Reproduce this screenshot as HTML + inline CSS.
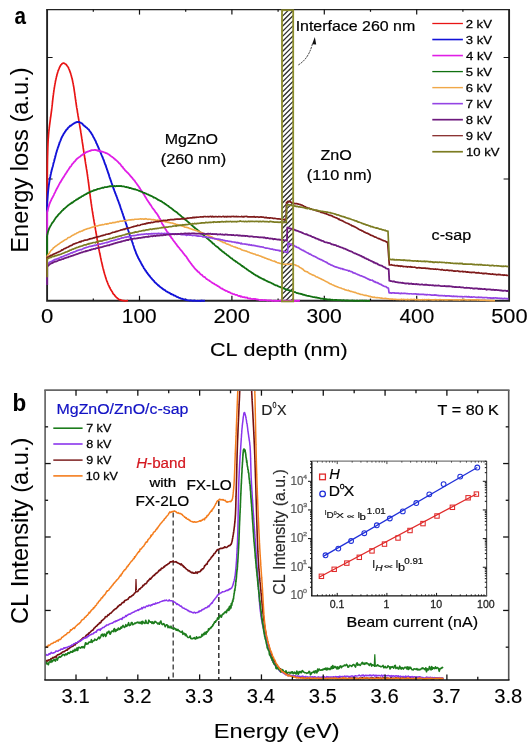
<!DOCTYPE html><html><head><meta charset="utf-8"><style>html,body{margin:0;padding:0;background:#fff;overflow:hidden}svg{display:block;filter:blur(0.35px)}text{font-family:"Liberation Sans",sans-serif;font-kerning:none}</style></head><body>
<svg width="532" height="750" viewBox="0 0 532 750">
<rect width="532" height="750" fill="#fff"/>
<defs><clipPath id="boxclip"><rect x="282.0" y="9.6" width="11.199999999999989" height="291.2"/></clipPath>
<clipPath id="plota"><rect x="45.6" y="8.6" width="463.5" height="293.7"/></clipPath>
<clipPath id="plotb"><rect x="45.1" y="390.1" width="463.6" height="290"/></clipPath></defs>
<g clip-path="url(#boxclip)">
<line x1="282" y1="11.6" x2="293.2" y2="0.4" stroke="#2a2a2a" stroke-width="1.25" />
<line x1="282" y1="16.65" x2="293.2" y2="5.45" stroke="#2a2a2a" stroke-width="1.25" />
<line x1="282" y1="21.7" x2="293.2" y2="10.5" stroke="#2a2a2a" stroke-width="1.25" />
<line x1="282" y1="26.75" x2="293.2" y2="15.55" stroke="#2a2a2a" stroke-width="1.25" />
<line x1="282" y1="31.8" x2="293.2" y2="20.6" stroke="#2a2a2a" stroke-width="1.25" />
<line x1="282" y1="36.85" x2="293.2" y2="25.65" stroke="#2a2a2a" stroke-width="1.25" />
<line x1="282" y1="41.9" x2="293.2" y2="30.7" stroke="#2a2a2a" stroke-width="1.25" />
<line x1="282" y1="46.95" x2="293.2" y2="35.75" stroke="#2a2a2a" stroke-width="1.25" />
<line x1="282" y1="52" x2="293.2" y2="40.8" stroke="#2a2a2a" stroke-width="1.25" />
<line x1="282" y1="57.05" x2="293.2" y2="45.85" stroke="#2a2a2a" stroke-width="1.25" />
<line x1="282" y1="62.1" x2="293.2" y2="50.9" stroke="#2a2a2a" stroke-width="1.25" />
<line x1="282" y1="67.15" x2="293.2" y2="55.95" stroke="#2a2a2a" stroke-width="1.25" />
<line x1="282" y1="72.2" x2="293.2" y2="61" stroke="#2a2a2a" stroke-width="1.25" />
<line x1="282" y1="77.25" x2="293.2" y2="66.05" stroke="#2a2a2a" stroke-width="1.25" />
<line x1="282" y1="82.3" x2="293.2" y2="71.1" stroke="#2a2a2a" stroke-width="1.25" />
<line x1="282" y1="87.35" x2="293.2" y2="76.15" stroke="#2a2a2a" stroke-width="1.25" />
<line x1="282" y1="92.4" x2="293.2" y2="81.2" stroke="#2a2a2a" stroke-width="1.25" />
<line x1="282" y1="97.45" x2="293.2" y2="86.25" stroke="#2a2a2a" stroke-width="1.25" />
<line x1="282" y1="102.5" x2="293.2" y2="91.3" stroke="#2a2a2a" stroke-width="1.25" />
<line x1="282" y1="107.55" x2="293.2" y2="96.35" stroke="#2a2a2a" stroke-width="1.25" />
<line x1="282" y1="112.6" x2="293.2" y2="101.4" stroke="#2a2a2a" stroke-width="1.25" />
<line x1="282" y1="117.65" x2="293.2" y2="106.45" stroke="#2a2a2a" stroke-width="1.25" />
<line x1="282" y1="122.7" x2="293.2" y2="111.5" stroke="#2a2a2a" stroke-width="1.25" />
<line x1="282" y1="127.75" x2="293.2" y2="116.55" stroke="#2a2a2a" stroke-width="1.25" />
<line x1="282" y1="132.8" x2="293.2" y2="121.6" stroke="#2a2a2a" stroke-width="1.25" />
<line x1="282" y1="137.85" x2="293.2" y2="126.65" stroke="#2a2a2a" stroke-width="1.25" />
<line x1="282" y1="142.9" x2="293.2" y2="131.7" stroke="#2a2a2a" stroke-width="1.25" />
<line x1="282" y1="147.95" x2="293.2" y2="136.75" stroke="#2a2a2a" stroke-width="1.25" />
<line x1="282" y1="153" x2="293.2" y2="141.8" stroke="#2a2a2a" stroke-width="1.25" />
<line x1="282" y1="158.05" x2="293.2" y2="146.85" stroke="#2a2a2a" stroke-width="1.25" />
<line x1="282" y1="163.1" x2="293.2" y2="151.9" stroke="#2a2a2a" stroke-width="1.25" />
<line x1="282" y1="168.15" x2="293.2" y2="156.95" stroke="#2a2a2a" stroke-width="1.25" />
<line x1="282" y1="173.2" x2="293.2" y2="162" stroke="#2a2a2a" stroke-width="1.25" />
<line x1="282" y1="178.25" x2="293.2" y2="167.05" stroke="#2a2a2a" stroke-width="1.25" />
<line x1="282" y1="183.3" x2="293.2" y2="172.1" stroke="#2a2a2a" stroke-width="1.25" />
<line x1="282" y1="188.35" x2="293.2" y2="177.15" stroke="#2a2a2a" stroke-width="1.25" />
<line x1="282" y1="193.4" x2="293.2" y2="182.2" stroke="#2a2a2a" stroke-width="1.25" />
<line x1="282" y1="198.45" x2="293.2" y2="187.25" stroke="#2a2a2a" stroke-width="1.25" />
<line x1="282" y1="203.5" x2="293.2" y2="192.3" stroke="#2a2a2a" stroke-width="1.25" />
<line x1="282" y1="208.55" x2="293.2" y2="197.35" stroke="#2a2a2a" stroke-width="1.25" />
<line x1="282" y1="213.6" x2="293.2" y2="202.4" stroke="#2a2a2a" stroke-width="1.25" />
<line x1="282" y1="218.65" x2="293.2" y2="207.45" stroke="#2a2a2a" stroke-width="1.25" />
<line x1="282" y1="223.7" x2="293.2" y2="212.5" stroke="#2a2a2a" stroke-width="1.25" />
<line x1="282" y1="228.75" x2="293.2" y2="217.55" stroke="#2a2a2a" stroke-width="1.25" />
<line x1="282" y1="233.8" x2="293.2" y2="222.6" stroke="#2a2a2a" stroke-width="1.25" />
<line x1="282" y1="238.85" x2="293.2" y2="227.65" stroke="#2a2a2a" stroke-width="1.25" />
<line x1="282" y1="243.9" x2="293.2" y2="232.7" stroke="#2a2a2a" stroke-width="1.25" />
<line x1="282" y1="248.95" x2="293.2" y2="237.75" stroke="#2a2a2a" stroke-width="1.25" />
<line x1="282" y1="254" x2="293.2" y2="242.8" stroke="#2a2a2a" stroke-width="1.25" />
<line x1="282" y1="259.05" x2="293.2" y2="247.85" stroke="#2a2a2a" stroke-width="1.25" />
<line x1="282" y1="264.1" x2="293.2" y2="252.9" stroke="#2a2a2a" stroke-width="1.25" />
<line x1="282" y1="269.15" x2="293.2" y2="257.95" stroke="#2a2a2a" stroke-width="1.25" />
<line x1="282" y1="274.2" x2="293.2" y2="263" stroke="#2a2a2a" stroke-width="1.25" />
<line x1="282" y1="279.25" x2="293.2" y2="268.05" stroke="#2a2a2a" stroke-width="1.25" />
<line x1="282" y1="284.3" x2="293.2" y2="273.1" stroke="#2a2a2a" stroke-width="1.25" />
<line x1="282" y1="289.35" x2="293.2" y2="278.15" stroke="#2a2a2a" stroke-width="1.25" />
<line x1="282" y1="294.4" x2="293.2" y2="283.2" stroke="#2a2a2a" stroke-width="1.25" />
<line x1="282" y1="299.45" x2="293.2" y2="288.25" stroke="#2a2a2a" stroke-width="1.25" />
<line x1="282" y1="304.5" x2="293.2" y2="293.3" stroke="#2a2a2a" stroke-width="1.25" />
<line x1="282" y1="309.55" x2="293.2" y2="298.35" stroke="#2a2a2a" stroke-width="1.25" />
<line x1="282" y1="314.6" x2="293.2" y2="303.4" stroke="#2a2a2a" stroke-width="1.25" />
</g>
<path d="M47.1,9.6 V300.8 H509.1 V9.6" fill="none" stroke="#222" stroke-width="1.9"/>
<line x1="46.2" y1="9.6" x2="510" y2="9.6" stroke="#222" stroke-width="1.2" />
<line x1="93.3" y1="300.8" x2="93.3" y2="298.6" stroke="#111" stroke-width="1.2" />
<line x1="93.3" y1="9.6" x2="93.3" y2="11.8" stroke="#111" stroke-width="1.2" />
<line x1="139.5" y1="300.8" x2="139.5" y2="295.8" stroke="#111" stroke-width="1.2" />
<line x1="139.5" y1="9.6" x2="139.5" y2="14.6" stroke="#111" stroke-width="1.2" />
<line x1="185.7" y1="300.8" x2="185.7" y2="298.6" stroke="#111" stroke-width="1.2" />
<line x1="185.7" y1="9.6" x2="185.7" y2="11.8" stroke="#111" stroke-width="1.2" />
<line x1="231.9" y1="300.8" x2="231.9" y2="295.8" stroke="#111" stroke-width="1.2" />
<line x1="231.9" y1="9.6" x2="231.9" y2="14.6" stroke="#111" stroke-width="1.2" />
<line x1="278.1" y1="300.8" x2="278.1" y2="298.6" stroke="#111" stroke-width="1.2" />
<line x1="278.1" y1="9.6" x2="278.1" y2="11.8" stroke="#111" stroke-width="1.2" />
<line x1="324.3" y1="300.8" x2="324.3" y2="295.8" stroke="#111" stroke-width="1.2" />
<line x1="324.3" y1="9.6" x2="324.3" y2="14.6" stroke="#111" stroke-width="1.2" />
<line x1="370.5" y1="300.8" x2="370.5" y2="298.6" stroke="#111" stroke-width="1.2" />
<line x1="370.5" y1="9.6" x2="370.5" y2="11.8" stroke="#111" stroke-width="1.2" />
<line x1="416.7" y1="300.8" x2="416.7" y2="295.8" stroke="#111" stroke-width="1.2" />
<line x1="416.7" y1="9.6" x2="416.7" y2="14.6" stroke="#111" stroke-width="1.2" />
<line x1="462.9" y1="300.8" x2="462.9" y2="298.6" stroke="#111" stroke-width="1.2" />
<line x1="462.9" y1="9.6" x2="462.9" y2="11.8" stroke="#111" stroke-width="1.2" />
<line x1="47.1" y1="57.5" x2="52.6" y2="57.5" stroke="#111" stroke-width="1.0" />
<line x1="509.1" y1="57.5" x2="503.6" y2="57.5" stroke="#111" stroke-width="1.0" />
<line x1="47.1" y1="179" x2="52.6" y2="179" stroke="#111" stroke-width="1.0" />
<line x1="509.1" y1="179" x2="503.6" y2="179" stroke="#111" stroke-width="1.0" />
<g clip-path="url(#plota)">
<path d="M47.2,205 47.2,190.04 47.2,189.96 47.21,189.12 47.21,188.44 47.22,187.61 47.22,187.01 47.23,186.45 47.23,185.42 47.24,184.65 47.24,184.06 47.24,183.28 47.25,182.48 47.25,181.56 47.25,180.94 47.26,180.28 47.26,179.22 47.26,178.59 47.27,177.61 47.27,176.94 47.27,176.09 47.28,175.57 47.28,174.66 47.28,174.13 47.29,173.36 47.29,172.55 47.3,171.44 47.3,170.99 47.31,170.31 47.31,169.59 47.32,168.59 47.33,168.01 47.33,167.19 47.34,166.47 47.35,166.02 47.36,165.01 47.37,164.39 47.38,163.8 47.39,162.86 47.4,162.21 47.42,161.53 47.43,160.81 47.45,159.91 47.46,159.4 47.48,158.9 47.5,157.77 47.52,157.35 47.54,156.47 47.56,155.59 47.58,155.23 47.61,154.29 47.63,153.24 47.65,152.69 47.67,152.03 47.69,151.17 47.72,150.57 47.74,149.73 47.76,149.11 47.79,148.51 47.81,147.47 47.84,146.88 47.87,146.07 47.9,145.44 47.93,144.53 47.96,143.91 47.99,143.26 48.03,142.71 48.06,142.04 48.1,140.96 48.14,140.33 48.18,139.83 48.23,138.73 48.27,138.24 48.32,137.58 48.37,137.07 48.43,136.27 48.48,135.4 48.54,134.67 48.6,133.96 48.66,133.5 48.73,132.48 48.8,131.76 48.88,131.13 48.95,130.32 49.04,129.57 49.12,128.7 49.2,128.13 49.29,127.32 49.38,126.83 49.47,126.01 49.57,125.17 49.66,124.54 49.76,123.65 49.86,123.12 49.96,122.23 50.06,121.58 50.16,120.56 50.26,120.08 50.36,119.04 50.46,118.26 50.56,117.79 50.66,116.97 50.76,116.41 50.86,116 50.96,114.82 51.05,114.14 51.15,113.55 51.24,112.88 51.33,112.07 51.43,111.37 51.51,110.8 51.6,110.08 51.69,109.07 51.79,108.44 51.88,107.68 51.97,106.73 52.06,106.15 52.15,105.21 52.23,104.7 52.32,103.81 52.41,103.02 52.49,102.15 52.58,101.45 52.66,100.4 52.75,99.77 52.83,99.24 52.92,98.12 53,97.82 53.09,96.69 53.18,96.33 53.26,95.37 53.35,94.89 53.44,94.08 53.53,93.13 53.62,92.86 53.71,92.2 53.81,91.3 53.9,90.61 54,89.98 54.12,89.06 54.24,88.59 54.36,87.58 54.48,86.9 54.61,86.05 54.73,85.34 54.85,84.52 54.98,84.19 55.11,83.27 55.23,82.75 55.36,81.92 55.5,81.14 55.63,80.53 55.77,79.84 55.91,79.28 56.05,78.58 56.2,77.96 56.37,77.06 56.55,76.42 56.72,76.08 56.9,75.03 57.09,74.28 57.27,73.81 57.46,73.31 57.66,72.23 57.86,71.78 58.06,71.1 58.28,70.32 58.5,70.11 58.78,69.28 59.08,68.6 59.38,67.78 59.69,67.3 60.01,66.52 60.33,66 60.66,65.31 61,64.82 61.47,64.59 61.95,63.77 62.46,63.48 63,63.19 63.6,63.12 64.24,63.27 64.89,63.73 65.5,63.95 65.96,64.33 66.4,64.79 66.82,65.45 67.23,65.91 67.62,66.45 68,66.92 68.32,67.34 68.62,68.28 68.91,68.9 69.19,69.39 69.46,70.17 69.73,70.9 69.99,71.63 70.25,72.38 70.5,72.93 70.7,73.85 70.9,74.06 71.08,75.01 71.27,75.6 71.45,76.31 71.63,77.13 71.8,77.76 71.97,78.07 72.14,78.72 72.31,79.85 72.48,80.35 72.65,81.3 72.82,82.26 73,82.75 73.11,83.26 73.23,84.21 73.34,84.8 73.45,85.39 73.56,86.08 73.68,86.61 73.79,87.19 73.9,88.08 74.01,88.67 74.12,89.29 74.23,90.34 74.34,90.99 74.45,91.81 74.56,92.36 74.67,93.17 74.78,93.89 74.89,94.69 75,95.63 75.11,96.27 75.22,97.23 75.33,98.02 75.44,99.06 75.55,99.34 75.67,100.47 75.78,101.11 75.89,101.91 76,102.48 76.11,103.41 76.23,104.36 76.34,105 76.45,105.79 76.57,106.48 76.68,107.44 76.8,108 76.92,108.4 77.04,109.36 77.15,109.9 77.27,110.44 77.39,111.58 77.51,112.59 77.64,113.12 77.76,113.67 77.88,114.43 78,115.46 78.12,116.04 78.25,116.75 78.37,117.46 78.49,118.2 78.62,119.04 78.74,119.72 78.86,120.39 78.98,120.93 79.11,121.89 79.23,122.43 79.35,123.42 79.48,123.79 79.6,124.69 79.72,125.43 79.84,125.96 79.96,127.14 80.09,127.83 80.21,128.27 80.33,129.19 80.45,129.86 80.56,130.14 80.68,131.3 80.8,131.99 80.92,132.74 81.03,133.3 81.15,134.16 81.26,134.91 81.38,135.86 81.49,136.47 81.61,137.17 81.72,138.15 81.84,138.58 81.95,139.36 82.06,139.9 82.18,141.16 82.29,141.82 82.4,142.56 82.52,143.28 82.63,143.95 82.74,144.71 82.85,145.39 82.97,146.15 83.08,146.93 83.19,147.89 83.3,148.49 83.41,149.14 83.52,149.8 83.63,150.52 83.74,151.58 83.85,152.14 83.96,152.8 84.06,153.45 84.17,154.05 84.28,154.91 84.39,155.75 84.49,156.25 84.6,156.97 84.72,157.74 84.84,158.56 84.96,159.06 85.08,160.01 85.2,160.66 85.32,161.66 85.44,162.14 85.55,163.06 85.67,163.93 85.79,164.37 85.9,165.04 86.02,165.87 86.13,166.55 86.25,167.11 86.36,168.04 86.48,168.98 86.59,169.35 86.71,170.07 86.82,170.66 86.93,171.59 87.04,172.08 87.16,172.83 87.27,173.93 87.38,174.35 87.49,175.4 87.6,176.23 87.7,176.75 87.8,177.51 87.9,178.45 88,178.86 88.1,179.54 88.2,180.17 88.3,181.13 88.4,182.1 88.5,182.78 88.6,183.26 88.69,184.04 88.79,184.86 88.89,185.74 88.98,186.44 89.08,187.27 89.18,188.05 89.27,188.73 89.37,189.53 89.46,190.33 89.56,191.04 89.65,191.89 89.75,192.84 89.84,193.4 89.94,194.05 90.03,194.53 90.13,195.56 90.22,195.93 90.32,196.72 90.41,197.76 90.51,198.43 90.6,198.98 90.71,199.53 90.82,200.51 90.93,201.23 91.04,202.19 91.15,203.18 91.25,203.62 91.36,204.21 91.47,204.88 91.57,205.77 91.68,206.47 91.79,207.04 91.9,207.95 92,208.47 92.11,209.51 92.22,210.21 92.33,210.92 92.44,211.39 92.55,212.24 92.66,212.85 92.77,213.52 92.89,214.24 93,214.81 93.12,215.51 93.24,216.56 93.36,217.13 93.48,217.91 93.6,218.74 93.72,219.04 93.84,219.89 93.97,220.74 94.09,221.47 94.21,222.06 94.34,222.98 94.46,223.56 94.59,224.06 94.71,224.81 94.84,225.78 94.97,226.44 95.09,226.81 95.22,228.01 95.35,228.63 95.47,229.47 95.6,229.94 95.72,230.68 95.85,231.29 95.98,232.6 96.11,232.95 96.24,233.99 96.37,234.43 96.5,235.34 96.63,235.86 96.76,236.84 96.89,237.83 97.02,238.28 97.16,239.42 97.29,240.08 97.42,240.64 97.54,241.48 97.67,242.23 97.8,243.02 97.92,243.66 98.04,244.31 98.16,245.07 98.28,245.61 98.39,246.2 98.5,246.99 98.65,247.92 98.78,248.28 98.91,249.19 99.04,249.74 99.16,250.32 99.29,251.21 99.41,251.63 99.55,252.57 99.69,252.9 99.84,253.79 100,254.47 100.13,254.98 100.26,255.8 100.39,256.32 100.53,257.09 100.67,257.67 100.82,258.21 100.97,259.07 101.12,259.81 101.27,260.67 101.43,261.13 101.59,262 101.76,262.5 101.93,263.6 102.09,264.09 102.26,264.73 102.44,265.74 102.61,266.65 102.79,266.98 102.96,267.77 103.14,268.52 103.32,269.16 103.5,270.06 103.7,270.63 103.91,271.39 104.12,272.33 104.33,272.88 104.54,273.8 104.76,274.33 104.97,275.03 105.2,275.67 105.42,276.95 105.64,277.34 105.87,278.14 106.1,278.79 106.33,279.51 106.56,280.16 106.79,281.1 107.03,281.31 107.26,281.86 107.5,282.55 107.8,283.25 108.11,284.29 108.41,285.01 108.72,285.42 109.02,286.02 109.34,286.83 109.66,287.73 109.98,287.72 110.31,288.85 110.65,289.22 111,290.16 111.37,290.48 111.75,291.23 112.14,291.68 112.53,292.39 112.93,293.36 113.34,293.87 113.75,294.27 114.17,294.75 114.58,295.12 115,295.84 115.48,296.43 115.96,296.93 116.45,297.4 116.94,297.69 117.44,298.26 117.96,298.64 118.5,299.19 119.13,299.64 119.79,299.67 120.46,299.86 121.15,300.21 121.87,300.34 122.6,300.49 123.23,300.7 123.89,300.61 124.56,300.89 125.24,300.79 125.94,300.84 126.63,300.76 127.32,300.68 128,300.66" fill="none" stroke="#e81414" stroke-width="1.7" stroke-linejoin="round" />
<path d="M47.2,211.96 47.2,201.92 47.2,202.04 47.27,201.28 47.33,200.36 47.39,199.85 47.46,198.91 47.52,198.28 47.58,197.6 47.64,196.6 47.7,196.19 47.76,195.47 47.82,194.69 47.88,193.92 47.95,193.21 48.01,192.39 48.08,191.78 48.15,191.03 48.22,190.42 48.29,189.53 48.36,189.05 48.44,188.36 48.52,187.64 48.6,186.93 48.7,186.3 48.8,185.21 48.9,184.79 49.01,184.03 49.11,183.32 49.22,182.62 49.33,181.76 49.44,181.12 49.56,180.55 49.68,179.81 49.81,179.06 49.95,178.07 50.09,177.63 50.24,176.96 50.4,176.15 50.54,175.36 50.69,174.41 50.85,174.08 51.01,173.2 51.18,172.12 51.36,171.82 51.54,170.79 51.72,170.07 51.91,169.41 52.1,168.94 52.29,167.93 52.49,167.27 52.69,166.73 52.88,165.95 53.08,164.95 53.28,164.19 53.47,163.3 53.66,162.66 53.85,162.11 54.04,161.41 54.22,160.68 54.4,160.15 54.6,159.14 54.79,158.52 54.97,157.93 55.15,157.22 55.33,156.61 55.51,155.83 55.69,155.06 55.86,154.49 56.05,153.63 56.23,152.87 56.42,152.54 56.62,151.77 56.82,151.15 57.04,150.16 57.26,149.66 57.5,148.91 57.71,148.23 57.93,147.37 58.15,146.99 58.38,146.5 58.6,145.74 58.84,144.9 59.07,144.29 59.31,143.71 59.56,142.48 59.81,142.18 60.07,141.58 60.33,140.9 60.6,140.37 60.87,139.6 61.16,138.8 61.44,138.14 61.74,137.56 62.04,136.72 62.35,136.18 62.67,135.72 63,135.29 63.38,134.32 63.78,133.69 64.18,133.09 64.59,132.63 65.01,131.8 65.44,131.41 65.87,130.45 66.32,129.98 66.77,129.41 67.24,129.01 67.71,128.51 68.19,127.62 68.68,127.21 69.18,126.93 69.68,126.33 70.2,125.77 70.79,125.7 71.4,125.15 72.03,124.7 72.68,124.11 73.34,123.91 74.01,123.33 74.68,123.17 75.36,122.55 76.03,122.29 76.69,122.24 77.34,121.96 77.98,122.09 78.6,122.04 79.24,121.97 79.88,122.33 80.52,122.57 81.15,123.14 81.78,123.35 82.4,123.86 83.01,124.63 83.6,125.32 84.18,125.82 84.74,126.05 85.28,126.58 85.8,127.23 86.35,127.46 86.87,127.8 87.37,128.42 87.84,128.94 88.3,129.22 88.75,129.59 89.2,130.14 89.65,131.01 90.1,131.39 90.47,131.99 90.83,132.57 91.2,133.19 91.56,133.62 91.92,134.34 92.27,134.74 92.62,135.44 92.97,135.97 93.32,136.94 93.66,137.41 94,137.95 94.34,138.66 94.67,139.32 95,140.11 95.32,140.4 95.64,141.12 95.95,141.87 96.25,142.96 96.56,143.38 96.86,143.88 97.16,144.67 97.45,145.54 97.75,145.87 98.04,146.53 98.33,147.45 98.62,148.02 98.91,148.73 99.21,149.24 99.5,150.29 99.79,150.92 100.07,151.42 100.36,152.11 100.64,152.37 100.92,153.44 101.21,153.99 101.49,154.76 101.77,155.47 102.05,156 102.33,156.49 102.61,157.49 102.89,158.02 103.17,158.79 103.44,159.46 103.72,160.22 104,160.65 104.25,161.84 104.5,162.37 104.75,163.18 105,164 105.25,164.4 105.5,164.83 105.74,165.67 105.99,166.34 106.24,167.16 106.49,167.97 106.74,168.37 106.98,169.44 107.23,169.88 107.47,170.87 107.71,171.52 107.95,172.19 108.19,172.93 108.43,173.55 108.67,174.23 108.9,174.75 109.15,175.72 109.4,176.73 109.64,177.46 109.88,178.08 110.12,178.69 110.35,179.18 110.59,180.2 110.82,180.67 111.06,181.37 111.29,182.03 111.53,182.78 111.77,183.4 112,184.15 112.25,184.71 112.49,185.52 112.74,186.63 113,186.99 113.24,187.63 113.49,188.42 113.73,189.11 113.98,189.5 114.23,190.29 114.48,191.13 114.74,191.69 114.99,192.33 115.25,193.22 115.51,193.55 115.77,194.34 116.03,194.93 116.3,195.92 116.56,196.1 116.83,196.99 117.09,197.73 117.36,198.62 117.63,199.35 117.9,200.21 118.13,200.4 118.36,201.39 118.59,201.88 118.82,202.48 119.06,203.32 119.29,203.77 119.53,204.27 119.76,205.2 120,205.72 120.24,206.53 120.48,207.38 120.72,208.06 120.96,208.96 121.2,209.39 121.44,209.9 121.69,210.73 121.93,211.42 122.18,212.09 122.42,213.06 122.67,213.62 122.91,214.14 123.16,215.27 123.41,215.87 123.66,216.67 123.9,217.36 124.15,218.17 124.4,218.81 124.63,219.66 124.86,220.23 125.1,220.92 125.33,221.62 125.57,222.04 125.81,222.95 126.04,223.65 126.28,224.44 126.52,224.93 126.77,226.11 127.01,226.61 127.25,227.15 127.49,227.81 127.74,228.75 127.98,229.52 128.22,230.16 128.46,231.01 128.71,231.63 128.95,232.54 129.19,233.07 129.43,233.89 129.67,234.76 129.91,235.71 130.15,235.88 130.38,236.66 130.62,237.3 130.85,238.23 131.09,238.61 131.32,239.38 131.55,240.11 131.77,240.62 132,241.26 132.26,242.08 132.52,242.56 132.76,243.38 133,244.25 133.24,245.03 133.47,245.67 133.69,246.11 133.92,246.98 134.15,247.83 134.37,248.46 134.6,249.03 134.83,249.56 135.07,250.45 135.31,250.92 135.56,251.49 135.82,252.2 136.09,253.21 136.36,253.69 136.65,254.5 136.95,254.94 137.27,255.84 137.6,256.31 137.9,256.98 138.2,258 138.51,258.36 138.83,258.8 139.15,259.5 139.48,260.2 139.82,260.98 140.17,261.37 140.52,261.83 140.87,262.7 141.24,263.4 141.6,264.07 141.98,264.9 142.35,265.41 142.74,266.13 143.13,266.5 143.52,267.44 143.91,268.27 144.31,268.71 144.72,269.27 145.12,269.89 145.53,270.76 145.95,270.97 146.36,271.71 146.78,272.39 147.2,273.03 147.62,273.44 148.05,274.13 148.47,274.6 148.9,275.22 149.37,275.78 149.86,276.23 150.34,276.99 150.83,277.71 151.33,278.01 151.83,278.69 152.34,279.4 152.85,279.7 153.36,280.44 153.88,280.81 154.4,281.68 154.93,282.39 155.46,282.88 155.99,283.06 156.53,283.72 157.06,284.13 157.6,284.63 158.15,285.34 158.69,285.39 159.24,286.22 159.79,286.52 160.34,287.19 160.89,287.46 161.45,287.77 162,288.34 162.6,288.86 163.22,289.2 163.84,289.7 164.46,289.97 165.1,290.14 165.73,291 166.37,291.36 167.02,291.67 167.67,292.03 168.31,292.54 168.96,292.67 169.6,292.99 170.25,293.41 170.89,293.95 171.53,293.88 172.16,294.59 172.78,294.63 173.4,294.86 174.01,295.51 174.61,295.6 175.2,295.7 175.91,296.19 176.6,296.71 177.28,297.07 177.95,297.13 178.61,297.55 179.27,297.89 179.92,297.96 180.58,298.37 181.23,298.56 181.89,298.72 182.55,298.95 183.23,299.24 183.91,299.43 184.6,299.52 185.32,299.7 186.04,300.07 186.78,300.06 187.52,300.27 188.26,300.41 189.01,300.4 189.76,300.72 190.51,300.32 191.26,300.61 192.02,300.49 192.77,300.86 193.52,300.87 194.26,300.37 195,300.55 195.72,300.84 196.44,300.88 197.15,300.9 197.87,300.79 198.58,300.88 199.3,300.91 200.01,300.8 200.72,300.96 201.44,300.46 202.15,300.89 202.86,300.64 203.57,300.94 204.29,300.76 205,300.67" fill="none" stroke="#1212d8" stroke-width="1.9" stroke-linejoin="round" />
<path d="M47.2,236.06 47.2,211.86 47.2,211.86 47.39,211.1 47.57,210.66 47.74,210.08 47.91,209.49 48.09,208.65 48.26,208.17 48.44,207.35 48.63,206.66 48.82,206.1 49.03,205.5 49.26,204.62 49.5,203.96 49.75,203.31 50.02,202.7 50.29,201.9 50.57,201.55 50.86,200.7 51.16,200.18 51.47,199.34 51.79,198.85 52.13,198.18 52.47,197.36 52.84,197.01 53.21,196.03 53.6,195.47 53.88,194.79 54.17,193.98 54.46,193.44 54.76,192.97 55.07,192.3 55.39,191.68 55.71,190.99 56.04,190.12 56.38,189.71 56.72,188.75 57.07,188.47 57.42,187.63 57.78,186.96 58.14,186.35 58.51,185.74 58.89,184.79 59.26,184.06 59.64,183.47 60.03,182.64 60.42,182.11 60.81,181.82 61.2,180.74 61.6,180.32 61.99,179.35 62.39,178.94 62.8,178.2 63.2,177.59 63.58,177.08 63.97,176.65 64.36,175.8 64.75,175.17 65.15,174.38 65.56,173.99 65.96,173.23 66.38,172.76 66.79,171.99 67.21,171.63 67.63,170.44 68.05,170.06 68.48,169.61 68.91,168.8 69.34,168.11 69.78,167.58 70.21,166.8 70.65,166.42 71.09,166.17 71.54,165.39 71.98,164.48 72.42,163.94 72.87,163.46 73.31,163.12 73.76,162.32 74.21,161.82 74.66,161.55 75.1,161.06 75.55,160.4 76,159.83 76.56,159.22 77.13,158.8 77.71,158.05 78.3,157.98 78.89,157.27 79.48,156.95 80.07,156.69 80.67,156.13 81.27,155.34 81.86,155.21 82.46,154.85 83.05,154.17 83.64,153.76 84.22,153.52 84.79,152.95 85.36,153.09 85.92,152.2 86.46,152.1 87,151.96 87.72,151.62 88.42,151.37 89.12,151.11 89.8,150.79 90.47,150.78 91.14,150.1 91.81,150.27 92.47,150.04 93.13,150.08 93.8,150.03 94.5,149.84 95.19,149.91 95.87,150.2 96.56,150.24 97.24,150.21 97.92,150.78 98.61,150.99 99.3,150.6 100,151.05 100.7,151.56 101.41,151.5 102.13,151.64 102.85,151.8 103.58,152 104.3,152.31 105,152.53 105.69,153.01 106.36,153.13 107,153.43 107.68,153.68 108.33,154.22 108.96,154.48 109.56,154.99 110.16,155.59 110.76,155.93 111.37,156.4 112,156.85 112.54,157.22 113.08,157.62 113.63,158.03 114.18,158.65 114.73,158.84 115.28,159.68 115.83,159.97 116.38,160.35 116.93,160.89 117.47,161.38 118,162.02 118.47,162.37 118.93,163.13 119.38,163.33 119.83,163.61 120.27,164.34 120.72,164.66 121.16,165.48 121.61,166.17 122.06,166.65 122.53,166.9 123,167.54 123.49,168.49 124,168.85 124.43,169.28 124.87,169.93 125.33,170.64 125.8,170.98 126.27,171.32 126.75,171.88 127.24,172.45 127.74,172.8 128.24,173.27 128.74,173.98 129.24,174.38 129.74,175.07 130.24,175.65 130.74,176.55 131.24,176.64 131.72,177.31 132.21,177.87 132.68,178.53 133.15,179.19 133.6,179.53 134.05,180.05 134.49,180.5 134.93,181.19 135.37,182 135.8,182.51 136.22,182.94 136.64,183.63 137.06,184.29 137.48,184.96 137.9,185.39 138.31,186.05 138.72,186.42 139.13,187.13 139.54,188.15 139.95,188.19 140.36,189.08 140.77,189.78 141.18,190.31 141.59,190.86 142,191.59 142.41,192.21 142.81,192.82 143.21,193.17 143.61,194.05 144.01,194.58 144.41,195.25 144.81,196 145.21,196.7 145.61,197.38 146,197.81 146.4,198.66 146.79,199.33 147.19,199.96 147.59,200.64 147.99,201.04 148.39,201.67 148.79,202.45 149.19,202.74 149.59,203.6 149.99,204.11 150.4,204.74 150.82,205.16 151.24,205.91 151.68,206.66 152.12,207.41 152.56,208.05 153.01,208.5 153.46,209.1 153.91,209.62 154.35,210.42 154.8,210.93 155.24,211.66 155.68,212.43 156.11,212.76 156.53,213.14 156.94,213.82 157.34,214.31 157.73,214.93 158.1,215.87 158.46,216.28 158.8,216.57 159.19,217.56 159.54,218.3 159.87,218.68 160.17,219.24 160.46,219.9 160.75,220.59 161.03,221.25 161.31,221.93 161.6,222.55 161.91,223.18 162.24,223.85 162.6,224.41 163,224.77 163.32,225.51 163.64,226.12 163.98,226.58 164.33,227.34 164.69,227.72 165.06,228.22 165.44,229.17 165.83,229.65 166.23,230.19 166.63,230.91 167.04,231.54 167.46,232.06 167.88,232.26 168.3,233.16 168.74,233.82 169.17,234.37 169.61,235.18 170.05,235.95 170.49,236.33 170.93,236.86 171.37,237.96 171.82,238.21 172.26,238.7 172.7,239.54 173.12,240.14 173.55,240.55 173.98,241.36 174.42,241.75 174.86,242.26 175.31,243.01 175.76,243.68 176.22,244.05 176.68,244.78 177.14,245.3 177.6,246.32 178.06,246.38 178.53,247.28 179,247.65 179.47,248.22 179.93,248.93 180.4,249.54 180.87,250.18 181.34,250.62 181.81,251.06 182.27,251.65 182.73,252.39 183.19,252.98 183.65,253.68 184.1,254.11 184.55,254.78 185,255.43 185.46,255.83 185.91,256.18 186.36,256.83 186.79,257.4 187.23,258.46 187.66,258.7 188.09,259.62 188.51,260.13 188.93,260.91 189.36,261.41 189.78,261.85 190.21,262.44 190.63,263.08 191.06,263.7 191.5,264.19 191.94,264.85 192.39,265.69 192.84,265.78 193.3,266.66 193.78,267.06 194.26,267.8 194.75,268.46 195.25,268.89 195.77,269.57 196.3,269.76 196.8,270.67 197.31,270.91 197.83,271.6 198.36,272.03 198.9,272.1 199.44,272.87 199.99,273.5 200.55,274.18 201.12,274.47 201.69,274.94 202.26,275.17 202.84,276.06 203.43,276.59 204.02,276.78 204.62,277.21 205.22,277.45 205.82,278.28 206.43,279.01 207.04,279.15 207.65,279.68 208.26,280.01 208.88,280.22 209.49,280.99 210.11,281.04 210.73,281.61 211.35,282.11 211.97,282.61 212.58,282.95 213.2,283.36 213.82,283.59 214.44,283.91 215.06,284.52 215.69,284.8 216.32,285.1 216.95,285.5 217.58,286.01 218.22,286.19 218.86,286.65 219.5,286.99 220.15,287.64 220.79,288.05 221.44,288.66 222.09,288.5 222.75,288.98 223.4,289.57 224.06,289.75 224.71,290.08 225.37,290.73 226.03,290.75 226.69,290.96 227.36,291.25 228.02,291.82 228.68,292.12 229.34,292.17 230.01,292.52 230.67,293.03 231.34,293.32 232,293.4 232.71,293.87 233.42,294.14 234.13,294.04 234.84,294.52 235.56,294.87 236.27,294.97 236.99,294.96 237.71,295.47 238.43,295.84 239.15,296.17 239.87,295.81 240.59,296.73 241.32,296.36 242.04,296.86 242.77,297.09 243.5,297.22 244.22,297.27 244.95,297.24 245.68,297.67 246.41,297.63 247.14,297.51 247.87,298.46 248.6,298.29 249.34,298.6 250.07,298.33 250.8,298.82 251.53,298.97 252.25,299.09 252.97,298.97 253.68,298.9 254.4,299.16 255.11,298.95 255.82,299.12 256.53,299.48 257.24,299.4 257.95,299.6 258.67,299.69 259.38,300.06 260.1,300.03 260.82,299.9 261.55,300.15 262.28,299.9 263.01,300.03 263.76,300.26 264.51,299.99 265.26,300.19 266.03,300.08 266.8,300.34 267.59,300.61 268.38,300.3 269.18,300.49 270,300.37 270.65,300.36 271.32,300.38 271.98,300.81 272.66,300.97 273.34,300.72 274.03,300.56 274.73,300.79 275.43,300.65 276.14,300.84 276.85,300.78 277.57,300.79 278.29,300.85 279.02,300.68 279.75,300.71 280.48,300.52 281.22,300.72 281.96,300.57 282.71,300.77 283.45,300.65 284.2,300.81 284.96,300.86 285.71,300.58 286.47,300.67 287.22,300.65 287.98,300.9 288.74,301.04 289.5,300.91 290.26,300.73 291.02,301 291.77,300.55 292.53,301 293.29,300.68 294.04,300.36 294.8,301.17 295.55,301.01 296.3,300.62 297.04,300.81 297.79,300.75 298.53,300.8 299.27,300.57 300,300.7" fill="none" stroke="#e01ee6" stroke-width="1.8" stroke-linejoin="round" />
<path d="M47.2,257.07 47.2,235.03 47.2,235.18 47.39,234.35 47.57,234.03 47.73,232.91 47.9,232.4 48.08,231.42 48.27,230.85 48.48,230.57 48.72,229.55 49,229.08 49.26,228.4 49.54,227.66 49.83,227.17 50.13,226.55 50.46,225.95 50.8,225.52 51.15,224.89 51.52,224.09 51.91,223.41 52.31,222.96 52.72,222.27 53.15,221.8 53.6,221.4 53.98,220.59 54.38,219.9 54.79,219.32 55.21,218.65 55.64,218.06 56.09,217.46 56.54,216.97 57.01,216.37 57.48,215.96 57.97,215.2 58.46,214.63 58.96,213.89 59.47,213.74 59.99,212.99 60.51,212.6 61.04,211.89 61.57,211.43 62.11,210.62 62.65,210.23 63.2,210.01 63.72,208.93 64.25,208.81 64.78,208.42 65.32,207.76 65.87,207.35 66.42,206.98 66.99,206.23 67.55,205.95 68.12,205.31 68.7,204.91 69.29,204.48 69.88,204.13 70.47,203.74 71.07,203.37 71.67,202.66 72.28,202.77 72.89,202.23 73.51,201.75 74.12,201.17 74.75,200.8 75.37,200.49 76,200.06 76.6,199.36 77.2,199.35 77.82,199.29 78.44,198.17 79.07,198.22 79.71,197.74 80.35,197.28 81,197.12 81.65,196.34 82.31,196.17 82.96,195.99 83.62,195.36 84.28,194.96 84.95,194.68 85.61,194.24 86.26,194.19 86.92,193.47 87.57,193.41 88.22,192.76 88.87,192.74 89.51,192.31 90.14,191.63 90.77,191.74 91.39,191.3 92,191.13 92.73,191.13 93.46,190.43 94.17,190.16 94.87,190.28 95.57,189.82 96.27,189.8 96.96,189.38 97.65,188.98 98.33,188.89 99.02,188.89 99.71,188.66 100.41,188.33 101.11,188.16 101.82,187.96 102.53,187.72 103.26,187.95 104,187.5 104.68,187.19 105.36,187.15 106.05,187.21 106.75,187.06 107.44,186.82 108.15,186.62 108.85,186.61 109.56,186.24 110.27,186.2 110.99,186.43 111.71,186.15 112.43,186.21 113.16,186.28 113.88,186.14 114.61,186 115.35,186.3 116.08,186.06 116.82,185.9 117.56,186.08 118.3,186.06 118.98,185.91 119.66,186.1 120.34,186.12 121.02,185.92 121.7,186.28 122.39,186.35 123.08,186.43 123.77,186.35 124.46,186.67 125.15,186.85 125.85,187.01 126.55,186.96 127.25,187.39 127.96,187.27 128.67,187.6 129.38,188.01 130.09,187.89 130.81,188.11 131.53,188.56 132.26,188.54 132.99,188.77 133.72,189.07 134.46,189.43 135.2,189.16 135.84,189.58 136.48,189.77 137.13,189.98 137.79,190.24 138.46,190.49 139.13,190.91 139.82,190.98 140.5,191.4 141.19,191.71 141.88,191.81 142.58,192.22 143.28,192.74 143.98,192.83 144.68,192.98 145.39,193.36 146.09,193.54 146.79,194.03 147.5,194.43 148.19,194.49 148.89,194.9 149.58,195.42 150.27,195.5 150.96,195.93 151.64,196.07 152.31,196.43 152.98,196.81 153.64,197.54 154.29,197.48 154.93,197.79 155.57,198.11 156.19,198.5 156.81,198.95 157.41,199.21 158,199.81 158.69,199.92 159.38,200.49 160.05,200.71 160.71,201.16 161.36,201.25 162.01,201.85 162.64,202.26 163.27,202.64 163.89,202.76 164.51,203.63 165.12,203.85 165.72,204.26 166.32,204.7 166.91,205.12 167.5,205.64 168.08,205.81 168.67,206.28 169.24,206.89 169.82,207.29 170.4,207.64 170.97,208.03 171.55,208.42 172.12,208.96 172.7,209.58 173.29,209.68 173.87,210.5 174.44,210.84 175,211.08 175.55,211.7 176.1,211.79 176.64,212.19 177.18,212.69 177.72,213.26 178.26,213.71 178.79,214.13 179.33,214.66 179.87,214.78 180.41,215.63 180.96,215.8 181.51,216.38 182.07,216.88 182.63,217.25 183.21,217.7 183.8,218.24 184.39,218.89 185,219.49 185.52,219.91 186.04,220.12 186.57,220.59 187.1,221.02 187.64,221.68 188.19,221.77 188.74,222.72 189.29,222.93 189.85,223.36 190.41,224.01 190.98,224.6 191.55,224.98 192.13,225.58 192.71,225.93 193.29,226.59 193.87,227.09 194.45,227.39 195.04,228.12 195.63,228.43 196.21,228.93 196.8,229.28 197.39,229.88 197.98,230.54 198.57,230.73 199.16,231.53 199.74,231.99 200.33,232.48 200.91,232.61 201.5,233.42 202.08,234.03 202.65,234.31 203.23,234.93 203.8,235.04 204.37,235.99 204.94,236.27 205.51,236.99 206.08,237.07 206.64,237.94 207.21,238.29 207.78,238.94 208.35,239.17 208.91,239.71 209.48,240.64 210.05,240.67 210.62,241.18 211.18,241.74 211.75,242.12 212.32,242.94 212.89,243.51 213.45,243.64 214.02,243.97 214.59,244.9 215.16,245.38 215.73,245.82 216.3,246.36 216.87,246.54 217.44,247.12 218.01,247.42 218.58,247.9 219.15,248.73 219.73,248.96 220.3,249.88 220.87,250.02 221.45,250.38 222.02,251.06 222.6,251.67 223.18,251.94 223.76,252.14 224.34,252.84 224.93,253.45 225.51,253.63 226.09,254.04 226.67,254.77 227.26,255.09 227.84,255.35 228.43,255.91 229.01,256.31 229.6,256.91 230.18,257.33 230.77,257.93 231.36,258.31 231.94,258.41 232.53,259.15 233.12,259.66 233.71,260.03 234.3,260.55 234.89,260.75 235.48,261.12 236.07,261.83 236.66,261.96 237.25,262.23 237.84,263.13 238.43,263.29 239.03,263.78 239.62,264.04 240.21,264.47 240.81,264.91 241.4,265.45 242.02,265.99 242.64,266.02 243.25,266.91 243.87,267.05 244.48,267.49 245.09,268.18 245.7,268.49 246.32,268.7 246.93,269.62 247.54,269.64 248.15,270.22 248.77,270.63 249.38,271.23 250,271.36 250.61,271.99 251.23,272.14 251.85,272.83 252.48,272.95 253.1,273.41 253.73,274.15 254.36,274.31 254.99,274.67 255.63,275.38 256.27,275.49 256.91,275.7 257.56,276.31 258.21,276.4 258.87,277.13 259.53,277.51 260.2,277.61 260.85,277.96 261.5,278.43 262.17,278.76 262.85,278.96 263.54,279.55 264.23,279.51 264.94,280.1 265.65,280.45 266.36,280.82 267.08,281.25 267.8,281.36 268.53,281.98 269.25,282.2 269.98,282.47 270.71,282.69 271.44,283.05 272.16,283.6 272.88,283.73 273.6,284.2 274.31,284.66 275.02,284.96 275.72,285.34 276.41,285.36 277.09,285.53 277.77,286.13 278.43,286.3 279.08,286.7 279.72,286.8 280.35,287.23 280.96,287.43 281.56,287.65 282.14,287.85 282.7,288.06 283.5,288.35 284.27,288.64 285.03,289.03 285.76,289.07 286.48,289.65 287.18,289.61 287.87,290 288.54,290.06 289.2,290.25 289.85,290.79 290.49,290.64 291.12,290.7 291.75,290.99 292.38,291.25 293,291.82 293.74,291.78 294.44,292.13 295.11,292.08 295.76,292.51 296.41,292.78 297.07,293.17 297.74,293.01 298.44,293.43 299.19,293.61 300,293.65 300.59,293.96 301.2,294.09 301.84,293.95 302.5,294.56 303.17,294.73 303.86,294.75 304.57,294.79 305.29,295.39 306.02,295.39 306.76,295.68 307.51,295.91 308.26,295.79 309.02,296.17 309.78,296.18 310.54,296.37 311.3,296.53 312.05,296.7 312.8,297.03 313.54,297.03 314.28,297.14 315,297.26 315.71,297.49 316.42,297.44 317.12,297.63 317.82,297.82 318.52,297.87 319.21,298.06 319.91,298.11 320.61,298.62 321.3,298.64 322,298.62 322.7,298.65 323.41,299.1 324.12,298.92 324.83,298.96 325.55,299.12 326.27,299.22 327,299.47 327.74,299.35 328.48,299.75 329.24,299.39 330,299.7 330.69,299.52 331.39,300 332.09,299.74 332.8,299.84 333.52,300.04 334.25,300.14 334.97,299.84 335.71,300 336.45,299.88 337.19,300.15 337.94,300.16 338.69,300.16 339.44,300.14 340.19,300.22 340.95,300.19 341.71,300.42 342.46,300.59 343.22,300.1 343.98,300.4 344.74,300.38 345.5,300.54 346.25,300.35 347.01,300.49 347.76,300.38 348.51,300.66 349.26,300.59 350,300.58 350.74,300.68 351.48,300.6 352.22,300.42 352.96,300.76 353.7,300.73 354.44,300.68 355.18,300.86 355.93,300.9 356.67,300.56 357.41,300.62 358.15,300.97 358.89,300.96 359.63,300.64 360.37,300.57 361.11,300.66 361.85,300.68 362.59,300.52 363.33,300.77 364.07,300.57 364.81,300.59 365.56,300.91 366.3,300.67 367.04,300.77 367.78,300.88 368.52,300.91 369.26,300.74 370,300.81" fill="none" stroke="#107010" stroke-width="1.8" stroke-linejoin="round" />
<path d="M47.2,276.88 47.2,256.26 47.2,256.1 47.63,255.24 48.04,254.81 48.45,254.31 48.85,253.67 49.26,253.27 49.67,252.6 50.09,251.72 50.53,251.2 50.99,250.44 51.48,250.1 52,249.52 52.48,249.42 52.97,248.57 53.47,247.78 53.99,247.54 54.52,247.22 55.06,246.57 55.62,246.2 56.2,245.84 56.79,245.51 57.4,244.99 58.02,244.44 58.66,244.24 59.32,243.59 60,243.13 60.53,242.63 61.08,242.35 61.64,242.18 62.22,241.46 62.81,241.3 63.41,241.02 64.03,240.46 64.66,240.15 65.29,239.54 65.94,239.5 66.59,239.06 67.25,238.53 67.92,237.82 68.59,237.53 69.27,237.43 69.94,237.14 70.62,236.54 71.3,236.29 71.98,235.63 72.66,235.32 73.34,234.98 74.01,234.68 74.68,234.04 75.34,234.07 76,233.8 76.69,233.09 77.38,232.73 78.07,232.66 78.77,232.18 79.47,231.6 80.18,231.77 80.89,231.36 81.6,230.96 82.31,231.05 83.02,230.46 83.73,230.04 84.44,229.88 85.15,229.44 85.85,229.21 86.55,229.12 87.25,228.72 87.95,228.48 88.64,228.56 89.33,228.2 90,227.96 90.68,227.7 91.34,227.48 92,227.42 92.74,226.97 93.45,227.05 94.15,226.44 94.83,226.36 95.51,226.03 96.17,226.03 96.84,226.01 97.5,226 98.16,225.55 98.84,225.51 99.52,225.32 100.21,225.13 100.92,224.93 101.66,224.97 102.41,224.56 103.19,224.68 104,224.5 104.62,224.27 105.26,224.09 105.92,223.9 106.59,224.25 107.28,223.63 107.99,223.92 108.7,223.63 109.43,223.34 110.17,223.07 110.91,223.25 111.67,223.21 112.43,222.66 113.2,222.6 113.98,222.65 114.76,222.39 115.54,222.49 116.32,221.96 117.11,221.98 117.89,221.57 118.68,221.93 119.46,221.36 120.24,221 121.01,221.18 121.78,221.05 122.54,221.23 123.3,220.77 124.04,220.7 124.78,220.68 125.5,220.72 126.21,220.37 126.91,220.44 127.6,220.28 128.39,220.06 129.16,220.02 129.92,219.91 130.68,219.68 131.42,219.91 132.16,219.44 132.89,219.74 133.61,219.63 134.33,219.4 135.05,219.23 135.76,219.25 136.47,219.29 137.18,219.28 137.89,219.17 138.6,219.23 139.32,218.96 140.04,219.05 140.76,218.76 141.5,219.1 142.23,219 142.98,218.91 143.73,219.16 144.5,219.1 145.21,218.6 145.92,219.06 146.63,218.87 147.36,219.29 148.08,219.55 148.81,219.15 149.55,219.3 150.29,219.32 151.03,219.48 151.77,219.6 152.52,219.78 153.27,219.53 154.02,220 154.77,219.72 155.52,220.01 156.27,220.24 157.03,220.28 157.78,220.15 158.53,220.3 159.28,220.46 160.03,220.64 160.78,220.95 161.52,220.72 162.26,221.11 163,221.27 163.74,221.4 164.47,221.53 165.2,221.83 165.92,221.82 166.64,222.02 167.36,222.14 168.07,222.48 168.79,222.09 169.5,222.74 170.22,222.68 170.93,222.86 171.64,222.94 172.35,222.99 173.06,223.4 173.77,223.55 174.48,223.92 175.19,223.83 175.9,224.46 176.6,224.49 177.31,224.62 178.01,224.76 178.71,224.96 179.42,225.12 180.12,225.42 180.82,225.71 181.52,225.9 182.22,225.93 182.91,226.32 183.61,226.44 184.31,226.81 185,227.28 185.71,227.31 186.42,227.39 187.12,227.42 187.83,227.67 188.53,227.85 189.23,228.44 189.93,228.44 190.63,228.79 191.33,228.92 192.03,229.26 192.73,229.68 193.42,229.61 194.12,229.89 194.81,230.06 195.51,230.55 196.2,230.51 196.89,230.74 197.58,230.95 198.28,231.19 198.97,231.73 199.66,232.3 200.35,232.02 201.04,232.57 201.73,232.73 202.42,232.79 203.11,233.19 203.8,233.47 204.48,233.67 205.15,234.34 205.83,234.05 206.5,234.68 207.18,234.97 207.85,235.13 208.52,235.54 209.19,235.95 209.86,236.15 210.53,236.5 211.2,236.85 211.87,236.75 212.54,237.6 213.21,238.03 213.88,238.15 214.55,238.47 215.22,238.43 215.89,238.94 216.56,239.15 217.23,239.5 217.9,240.04 218.57,240.09 219.24,240.49 219.91,240.53 220.58,241.1 221.25,241.43 221.93,241.61 222.6,241.89 223.29,242.58 223.99,242.41 224.68,242.72 225.37,243.05 226.07,243.64 226.76,244.06 227.46,244.08 228.15,244.21 228.85,244.54 229.54,245.04 230.24,245.03 230.94,245.66 231.63,245.93 232.33,246.01 233.02,246.37 233.72,246.66 234.42,247.06 235.12,246.94 235.81,247.55 236.51,247.58 237.21,247.79 237.91,248.19 238.61,248.41 239.3,248.56 240,248.73 240.7,249.1 241.4,249.72 242.09,250.05 242.78,250.11 243.47,250.44 244.16,250.44 244.85,250.75 245.54,251.05 246.22,251.09 246.91,251.35 247.59,251.75 248.28,251.93 248.97,252.06 249.65,252.52 250.34,252.66 251.03,253.09 251.72,253.17 252.41,253.36 253.11,253.67 253.8,253.86 254.5,254.03 255.2,254.31 255.91,254.72 256.61,254.95 257.32,255.29 258.04,255.09 258.75,255.54 259.47,255.78 260.2,256.13 260.88,256.27 261.56,256.51 262.26,256.96 262.96,257.14 263.67,257.21 264.39,257.86 265.11,258.08 265.84,258.13 266.57,258.63 267.31,258.68 268.05,259.25 268.79,259.34 269.53,259.54 270.27,259.9 271.01,260.12 271.74,260.55 272.48,260.83 273.21,261.08 273.94,261.26 274.67,261.06 275.39,261.88 276.1,261.83 276.8,262.4 277.5,262.76 278.19,262.85 278.87,262.96 279.54,263.19 280.2,263.38 280.84,263.49 281.47,263.64 282.09,263.74 282.7,264.18 283.53,264.14 284.34,264.38 285.13,264.25 285.9,264.31 286.65,264.27 287.39,264.34 288.12,264.36 288.84,264.23 289.56,264.06 290.26,264.01 290.97,264.37 291.67,264.1 292.37,264.14 293.07,264.5 293.78,264.57 294.5,264.68 295.13,264.75 295.76,265.41 296.38,265.39 296.99,265.71 297.6,265.93 298.2,266.09 298.8,266.47 299.4,267.12 300,267.51 300.6,267.83 301.21,268.11 301.81,268.49 302.42,269.09 303.04,269.35 303.66,270.13 304.29,270.59 304.93,271.25 305.57,271.36 306.23,271.54 306.9,271.87 307.5,271.81 308.12,272.56 308.76,272.95 309.4,273.46 310.06,273.74 310.73,274.07 311.41,274.35 312.1,274.75 312.79,275.2 313.48,275.16 314.18,275.59 314.87,275.78 315.57,276.57 316.26,276.85 316.95,277.09 317.64,277.13 318.31,277.65 318.98,277.91 319.64,278.27 320.28,278.54 320.91,278.95 321.53,279.11 322.12,279.59 322.7,279.78 323.26,279.98 323.8,280.28 324.56,280.63 325.27,281.2 325.95,281.4 326.59,281.85 327.22,282.1 327.83,282.28 328.44,282.97 329.05,283.01 329.67,283.61 330.32,283.9 330.99,283.92 331.7,284.36 332.32,284.7 332.95,284.93 333.59,285.16 334.24,285.72 334.9,285.85 335.57,286.21 336.25,286.36 336.94,286.74 337.63,286.84 338.33,287.22 339.03,287.57 339.74,287.75 340.45,287.93 341.16,288.09 341.87,288.53 342.59,288.81 343.3,288.96 343.98,289.11 344.66,289.54 345.35,290.05 346.05,289.86 346.74,290.17 347.45,290.39 348.15,290.17 348.86,290.78 349.57,290.87 350.28,291.39 351,291.35 351.71,291.48 352.43,291.77 353.14,292.03 353.86,292.12 354.57,292.4 355.28,292.4 355.99,292.77 356.7,293.12 357.4,293.49 358.09,293.5 358.77,293.63 359.45,293.97 360.12,294.14 360.8,294.43 361.47,294.54 362.15,294.56 362.83,294.8 363.51,294.98 364.19,295.19 364.89,295.36 365.58,295.39 366.29,295.37 367.01,295.76 367.74,295.72 368.48,296.2 369.23,296.35 370,296.25 370.66,296.73 371.34,296.88 372.01,296.89 372.69,297.24 373.38,297.38 374.08,297.04 374.78,297.48 375.49,297.5 376.2,297.6 376.92,297.78 377.64,297.63 378.37,297.75 379.1,297.81 379.85,297.91 380.59,298.1 381.35,297.98 382.1,298.13 382.87,298.45 383.64,298.43 384.41,298.58 385.2,298.31 385.98,298.55 386.78,298.66 387.57,298.81 388.38,298.79 389.19,299.08 390,298.99 390.66,299.05 391.32,299.09 391.98,299.24 392.64,299.1 393.31,299.38 393.97,299.31 394.64,299.3 395.31,299.31 395.99,299.41 396.67,299.51 397.35,299.53 398.03,299.46 398.72,299.56 399.41,299.46 400.11,299.65 400.81,299.48 401.51,299.18 402.22,299.71 402.93,299.54 403.64,299.36 404.36,299.51 405.09,299.42 405.82,299.88 406.55,299.64 407.3,299.34 408.04,299.67 408.79,299.53 409.55,299.88 410.32,299.45 411.08,299.27 411.86,299.63 412.64,299.57 413.43,299.57 414.23,299.31 415.03,299.71 415.84,299.9 416.66,299.37 417.48,299.84 418.31,299.59 419.15,300.04 420,299.77 420.63,299.68 421.27,299.88 421.92,299.8 422.58,299.64 423.25,299.84 423.93,299.67 424.63,299.48 425.33,300.06 426.04,299.71 426.76,299.67 427.49,299.82 428.23,299.54 428.97,299.57 429.72,299.71 430.48,299.71 431.25,299.8 432.02,299.96 432.8,299.72 433.58,299.87 434.37,299.89 435.17,299.63 435.97,299.83 436.77,299.66 437.58,299.96 438.39,299.87 439.21,299.8 440.03,299.6 440.85,299.82 441.67,299.69 442.5,299.91 443.33,299.79 444.16,299.68 444.99,299.94 445.82,299.91 446.65,299.71 447.48,299.98 448.31,299.76 449.14,299.76 449.97,299.82 450.8,299.69 451.63,299.74 452.45,299.78 453.28,300.03 454.1,300.03 454.91,299.77 455.73,300.05 456.54,299.8 457.34,299.87 458.15,299.94 458.94,299.86 459.74,300.18 460.52,299.85 461.3,299.64 462.08,300.02 462.85,299.76 463.61,299.78 464.36,299.38 465.11,299.98 465.85,299.96 466.58,299.96 467.31,299.99 468.02,300.11 468.73,299.85 469.43,300 470.11,299.76 470.79,299.82 471.46,300.04 472.11,299.95 472.75,299.7 473.39,299.96 474.01,299.89 474.62,299.81 475.21,300 475.8,299.89 476.37,299.73 476.93,299.81 477.47,300.25 478,299.77 478.94,300.06 479.85,300.14 480.72,300.18 481.56,299.93 482.37,300.1 483.16,300.2 483.92,300.33 484.66,300.15 485.39,300.11 486.09,300.47 486.79,300.52 487.47,300.45 488.15,300.34 488.82,300.53 489.49,300.52 490.15,300.67 490.82,300.39 491.49,300.64 492.17,300.63 492.86,300.53 493.56,300.76 494.27,300.77 495,300.74" fill="none" stroke="#f0a848" stroke-width="1.6" stroke-linejoin="round" />
<path d="M47.2,285.06 47.2,263.79 47.2,263.99 47.79,263.69 48.37,263.29 48.94,263.03 49.51,262.31 50.09,261.88 50.7,261.77 51.33,261.43 52,261.32 52.58,260.8 53.17,260.29 53.77,260.27 54.39,259.75 55.03,259.38 55.68,259.73 56.35,259.12 57.04,258.9 57.75,258.59 58.48,258.49 59.23,257.96 60,257.78 60.59,257.2 61.19,256.9 61.82,257.06 62.47,256.8 63.13,256.39 63.8,256.06 64.49,255.77 65.19,255.36 65.9,255.4 66.62,254.97 67.35,254.66 68.08,254.34 68.81,254.15 69.55,253.77 70.28,253.51 71.02,252.93 71.75,252.9 72.48,252.86 73.2,252.18 73.92,251.96 74.62,251.85 75.32,251.6 76,251.29 76.72,250.69 77.43,250.75 78.14,250.24 78.85,250.04 79.55,249.99 80.25,249.62 80.95,249.54 81.65,249.64 82.34,249.05 83.04,248.8 83.73,248.32 84.42,248.13 85.12,247.84 85.81,247.69 86.51,247.39 87.2,247.23 87.9,247.09 88.6,246.76 89.3,246.49 90,246.3 90.69,246.37 91.38,246.13 92.06,246.1 92.73,245.93 93.4,245.56 94.07,245.56 94.74,245.09 95.42,245.49 96.09,245.18 96.77,244.82 97.45,244.53 98.13,244.61 98.83,244.12 99.53,244.13 100.25,244.2 100.97,243.94 101.71,243.68 102.46,243.72 103.22,243.24 104,243.24 104.63,242.96 105.27,242.74 105.93,242.76 106.59,242.36 107.27,242.61 107.96,242.05 108.65,242.24 109.35,241.57 110.07,241.62 110.78,241.15 111.51,240.91 112.24,240.93 112.97,240.79 113.71,240.28 114.45,240.44 115.2,239.92 115.95,239.85 116.7,239.67 117.44,239.49 118.19,238.92 118.94,239.22 119.69,238.85 120.43,238.5 121.17,238.21 121.91,237.91 122.65,237.77 123.37,237.87 124.1,237.55 124.81,237.26 125.52,237.18 126.22,237.33 126.92,236.9 127.6,236.71 128.36,236.85 129.11,236.56 129.85,236.35 130.59,236.11 131.33,235.83 132.06,235.75 132.79,235.72 133.52,235.63 134.24,235.59 134.96,235.5 135.68,235.34 136.4,235.22 137.11,234.93 137.82,234.66 138.54,234.8 139.25,234.64 139.96,234.59 140.67,234.56 141.38,234.32 142.09,234.26 142.81,234.33 143.52,234.29 144.24,234.1 144.96,234.2 145.68,234.03 146.4,233.85 147.12,233.95 147.84,234.17 148.56,233.74 149.28,233.97 150,233.96 150.72,233.94 151.44,233.56 152.16,233.95 152.88,233.64 153.6,233.56 154.32,233.55 155.04,233.66 155.76,233.56 156.49,233.52 157.21,233.73 157.93,233.42 158.65,233.37 159.38,233.65 160.1,233.64 160.83,233.7 161.55,233.38 162.28,233.71 163.01,233.63 163.74,233.84 164.47,233.4 165.2,233.63 165.93,233.57 166.65,233.4 167.38,233.55 168.11,233.85 168.84,233.64 169.58,233.63 170.31,233.91 171.05,233.96 171.78,234 172.52,233.77 173.26,233.93 174,234.13 174.73,233.93 175.47,233.96 176.21,234.25 176.95,234.41 177.69,234.06 178.42,233.89 179.16,234.12 179.89,234.24 180.63,234.43 181.36,234.6 182.09,234.54 182.82,234.52 183.55,234.71 184.28,234.6 185,234.79 185.73,234.76 186.46,235.32 187.19,235.1 187.92,234.91 188.65,234.95 189.38,235.09 190.1,234.97 190.83,235.17 191.55,235.24 192.27,235.54 193,235.41 193.72,235.43 194.44,235.41 195.16,235.51 195.88,235.75 196.6,235.8 197.32,236.07 198.04,235.89 198.76,236.22 199.48,236.18 200.2,236.23 200.92,236.02 201.64,236.22 202.36,236.61 203.08,236.81 203.8,236.73 204.52,236.92 205.25,236.85 205.97,236.97 206.7,237.04 207.42,237.41 208.15,237.43 208.87,237.47 209.59,237.59 210.32,237.85 211.04,237.95 211.76,237.91 212.48,238.43 213.21,238.35 213.93,238.45 214.65,238.81 215.37,238.88 216.1,238.85 216.82,239.09 217.54,238.98 218.26,239.19 218.99,239.08 219.71,239.75 220.43,239.41 221.15,239.94 221.88,239.84 222.6,239.95 223.32,240.2 224.05,240.4 224.77,240.59 225.49,240.89 226.22,240.81 226.94,241.02 227.66,240.93 228.38,241.26 229.11,241.31 229.83,241.35 230.55,241.53 231.28,241.67 232,241.84 232.72,242 233.44,242 234.17,242.1 234.89,242.45 235.61,242.21 236.34,242.51 237.06,242.96 237.78,242.45 238.51,242.88 239.23,243.22 239.95,243 240.68,243.76 241.4,243.11 242.12,243.84 242.84,243.98 243.56,244.01 244.28,243.96 244.99,244.17 245.7,244.1 246.42,244.47 247.13,244.3 247.84,244.54 248.56,244.85 249.27,244.65 249.98,244.88 250.7,245.07 251.41,244.96 252.13,245.46 252.85,245.45 253.57,245.3 254.3,245.64 255.02,245.65 255.75,245.8 256.48,246.03 257.22,246.05 257.96,246.43 258.7,246.31 259.45,246.71 260.2,246.69 260.9,246.96 261.63,246.89 262.37,247.04 263.13,247.1 263.9,247.51 264.68,247.72 265.47,248.06 266.27,248.1 267.08,248.12 267.89,248.22 268.7,248.48 269.52,248.58 270.33,248.98 271.14,249.07 271.95,248.98 272.75,249.17 273.54,249.65 274.32,249.66 275.09,249.74 275.85,250.12 276.58,250.04 277.31,250.21 278.01,250.33 278.69,250.26 279.35,250.82 279.98,250.64 280.58,250.87 281.16,250.97 281.71,251.3 282.22,251.29 282.7,251.4 283.59,251.33 284.36,251.73 285.05,251.66 285.69,252.06 286.3,252.19 286.93,252.26 287.6,252.71 287.6,252.48 288,243.29 288,243.22 288.67,243.45 289.32,243.88 289.96,244.15 290.61,244.05 291.27,244.67 291.97,244.89 292.71,245.28 293.5,245.57 294.01,245.56 294.55,245.83 295.1,246.56 295.67,246.62 296.26,246.68 296.87,247.26 297.48,247.48 298.12,247.6 298.76,247.88 299.41,248.34 300.07,248.98 300.74,249.29 301.42,249.63 302.1,250.08 302.79,250.5 303.47,250.47 304.16,251.11 304.85,251.4 305.54,251.7 306.22,252.16 306.9,252.58 307.52,252.88 308.14,253.02 308.78,253.49 309.42,254.2 310.07,254.07 310.73,254.3 311.39,254.93 312.06,255.32 312.73,255.64 313.4,255.74 314.08,256.4 314.76,256.47 315.43,256.76 316.11,257.17 316.78,257.58 317.45,258.04 318.12,258.36 318.78,258.59 319.44,259.07 320.09,259.26 320.73,259.7 321.37,259.68 321.99,259.96 322.6,260.62 323.21,260.6 323.8,261.05 324.52,261.45 325.22,261.75 325.9,262.11 326.57,262.74 327.23,262.5 327.87,263.36 328.51,263.91 329.15,263.9 329.78,264.23 330.42,264.67 331.05,265.15 331.7,265.02 332.35,265.52 333.01,265.79 333.69,266.2 334.39,266.43 335.1,266.8 335.76,266.89 336.44,267.2 337.13,267.33 337.83,267.56 338.55,267.86 339.27,268.08 340,268.14 340.74,268.76 341.48,268.7 342.22,268.72 342.97,269.29 343.71,269.21 344.45,269.6 345.18,269.72 345.9,269.96 346.62,270.15 347.32,270.25 348.02,270.55 348.69,271.06 349.36,270.64 350,271.21 350.73,271.53 351.43,271.57 352.11,271.79 352.77,272.59 353.42,272.48 354.06,273.12 354.7,273.16 355.33,273.37 355.96,273.71 356.6,274.01 357.25,274.38 357.91,274.56 358.58,274.81 359.28,275.12 360,275.6 360.62,275.78 361.25,275.78 361.9,276.11 362.56,276.53 363.22,276.66 363.9,276.98 364.58,277.18 365.27,277.58 365.97,277.97 366.67,278.35 367.37,278.5 368.08,279.11 368.78,279.09 369.49,279.88 370.19,279.85 370.9,280.08 371.6,280.23 372.29,280.18 372.98,280.88 373.66,281.23 374.34,281.79 375,281.59 375.69,282.4 376.38,282.38 377.06,282.84 377.74,282.67 378.41,283.38 379.08,283.62 379.75,284.09 380.42,284.32 381.09,284.45 381.75,285.08 382.42,285.36 383.08,285.66 383.74,286.04 384.41,286.37 385.07,286.52 385.73,286.63 386.4,286.95 387.06,287.67 387.73,287.89 388.4,288.12 388.4,288.03 389.1,292.8 389.1,292.8 389.84,292.78 390.58,292.76 391.3,293.22 392.03,292.96 392.74,292.86 393.46,292.79 394.17,292.9 394.88,293.15 395.58,293.18 396.29,293.06 397,293.13 397.7,293.11 398.42,293.01 399.13,293.41 399.85,293.3 400.57,293.64 401.3,293.19 402.04,293.31 402.79,293.5 403.54,293.36 404.3,293.22 405.08,293.32 405.86,293.52 406.66,293.59 407.47,293.56 408.3,293.77 409.14,293.81 410,293.75 410.62,293.74 411.26,293.73 411.89,293.88 412.54,293.97 413.18,293.88 413.84,293.97 414.5,293.89 415.16,293.76 415.83,293.86 416.51,294.17 417.19,294.16 417.88,294.37 418.57,294.18 419.27,294.34 419.97,294.45 420.67,294.44 421.39,294.24 422.1,294.35 422.82,294.44 423.54,294.32 424.27,294.58 425,294.71 425.74,294.52 426.48,294.94 427.22,294.64 427.97,294.7 428.72,294.74 429.48,294.72 430.24,294.93 431,294.92 431.76,295.21 432.53,295.1 433.3,295.13 434.07,295.07 434.85,294.93 435.63,295.18 436.41,295.11 437.2,295.43 437.98,295.33 438.77,295.63 439.56,295.53 440.36,295.59 441.15,295.55 441.95,295.59 442.75,295.7 443.55,295.79 444.35,295.59 445.15,295.81 445.96,296.18 446.76,295.81 447.57,295.83 448.38,295.81 449.19,295.74 450,296.18 450.68,296.04 451.36,296.12 452.05,296.38 452.74,296.52 453.43,296.04 454.13,296.37 454.83,296.34 455.53,296.34 456.24,296.39 456.95,296.35 457.66,296.62 458.38,296.51 459.09,296.51 459.82,296.68 460.54,296.66 461.26,296.63 461.99,296.64 462.72,296.89 463.46,296.74 464.19,296.69 464.93,296.6 465.67,296.72 466.41,296.65 467.16,296.85 467.9,296.91 468.65,296.6 469.4,296.94 470.15,297.07 470.9,297.04 471.66,296.9 472.41,297.27 473.17,297.01 473.93,296.96 474.69,297.02 475.45,297.22 476.22,297.4 476.98,297.46 477.74,297.35 478.51,297.18 479.28,297.29 480.05,297.29 480.81,297.43 481.58,297.23 482.35,297.54 483.12,297.66 483.89,297.57 484.66,297.7 485.44,297.52 486.21,297.48 486.98,297.64 487.75,297.94 488.52,297.96 489.3,297.77 490.07,298.05 490.84,297.86 491.61,298.17 492.38,298.05 493.16,297.94 493.93,298.16 494.7,297.96 495.47,297.97 496.24,297.93 497,298.22 497.77,298.21 498.54,298.24 499.3,298.22 500.07,298.54 500.83,298.29 501.6,298.28 502.36,298.61 503.12,298.67 503.88,298.54 504.64,298.27 505.39,298.47 506.15,298.69 506.9,298.63 507.65,298.9 508.4,298.49" fill="none" stroke="#9444e4" stroke-width="1.7" stroke-linejoin="round" />
<path d="M47.2,285.1 47.2,266.31 47.2,266.6 47.79,265.96 48.36,265.69 48.93,264.99 49.5,264.44 50.08,264.05 50.68,263.7 51.32,263.23 52,263.18 52.57,262.91 53.16,262.48 53.76,262.03 54.38,261.92 55.02,261.6 55.67,261.69 56.35,261.29 57.04,261.09 57.75,260.72 58.48,260.23 59.23,260.16 60,259.83 60.59,259.84 61.19,259.58 61.82,259.22 62.47,259.05 63.13,259.11 63.8,258.49 64.49,258.25 65.19,258.1 65.91,257.78 66.62,257.56 67.35,257.45 68.08,257.38 68.82,256.59 69.55,256.6 70.29,256.35 71.02,256.08 71.76,255.81 72.49,255.54 73.21,255.49 73.92,255.03 74.63,254.84 75.32,254.63 76,254.42 76.72,254.14 77.43,254.07 78.15,253.69 78.85,253.48 79.56,253.22 80.26,252.85 80.96,252.65 81.66,252.39 82.35,252.35 83.05,252 83.74,251.72 84.43,251.7 85.13,251.53 85.82,250.97 86.51,251.28 87.21,250.82 87.9,250.59 88.6,250.57 89.3,250.21 90,249.91 90.69,250.13 91.38,249.45 92.06,249.41 92.74,249.38 93.41,248.91 94.08,248.88 94.75,248.79 95.42,248.92 96.09,248.26 96.77,248.22 97.45,248.15 98.14,247.9 98.83,247.53 99.53,247.6 100.24,247.38 100.97,247.25 101.7,247.16 102.45,246.96 103.22,246.67 104,246.45 104.63,246.07 105.27,246.04 105.93,245.91 106.59,245.64 107.27,245.52 107.95,245.19 108.65,245.35 109.35,245.24 110.06,244.65 110.78,244.57 111.51,244.26 112.24,244.28 112.97,243.94 113.71,243.67 114.45,243.42 115.2,243.26 115.95,242.87 116.69,242.91 117.44,242.49 118.19,242.47 118.94,242.2 119.69,242.14 120.43,241.77 121.18,241.73 121.91,241.24 122.65,241.28 123.38,240.97 124.1,240.85 124.81,240.66 125.52,240.61 126.22,240.01 126.92,240.2 127.6,239.78 128.36,240.02 129.11,239.38 129.85,239.38 130.6,239.13 131.33,239.48 132.07,238.91 132.8,238.98 133.52,238.75 134.25,238.44 134.97,238.53 135.68,238.56 136.4,238.32 137.11,238.37 137.83,238.07 138.54,238.01 139.25,237.85 139.96,237.85 140.67,237.98 141.38,237.65 142.1,237.52 142.81,237.3 143.52,237.18 144.24,237.41 144.96,236.93 145.68,236.86 146.4,236.89 147.12,236.74 147.84,237 148.56,236.26 149.28,236.58 150,236.54 150.72,236.18 151.44,236.17 152.16,236.25 152.88,236.34 153.6,235.88 154.32,235.7 155.04,236.01 155.76,236.02 156.48,235.66 157.21,235.31 157.93,235.78 158.65,235.47 159.37,235.6 160.1,235.35 160.82,235.23 161.55,235.16 162.28,235.38 163.01,235.31 163.74,234.71 164.47,234.82 165.2,235.17 165.92,234.78 166.63,234.57 167.34,234.71 168.04,234.64 168.74,234.58 169.44,234.46 170.14,234.42 170.83,234.34 171.53,234.4 172.22,234.17 172.92,234.19 173.62,234.16 174.32,234.32 175.02,234.13 175.74,234.01 176.45,234.06 177.18,233.99 177.91,234.05 178.65,233.92 179.4,234.07 180.16,233.97 180.94,233.72 181.72,233.63 182.52,233.8 183.33,233.72 184.16,233.61 185,233.38 185.62,233.31 186.26,233.63 186.9,233.68 187.55,233.68 188.21,233.36 188.88,233.71 189.55,233.47 190.23,233.61 190.92,233.61 191.61,233.43 192.32,233.46 193.02,233.25 193.74,233.43 194.46,233.3 195.18,233.64 195.91,233.6 196.65,233.74 197.39,233.66 198.13,233.53 198.88,233.69 199.63,233.6 200.39,233.76 201.15,233.74 201.91,233.56 202.67,233.73 203.44,233.76 204.21,233.72 204.98,233.93 205.75,234.07 206.52,233.78 207.3,233.81 208.07,233.55 208.85,233.9 209.63,233.88 210.4,233.65 211.18,234.04 211.95,234.12 212.73,233.95 213.5,234.04 214.27,233.98 215.05,234.27 215.81,233.96 216.58,234.17 217.34,234.55 218.11,234.3 218.86,234.39 219.62,234.34 220.37,234.22 221.12,234.42 221.86,234.52 222.6,234.35 223.34,234.59 224.08,234.76 224.83,234.77 225.58,234.42 226.33,234.55 227.08,234.49 227.84,234.94 228.6,234.92 229.36,234.97 230.12,234.78 230.89,234.79 231.65,235.02 232.42,235.07 233.19,234.98 233.96,235.18 234.73,235.3 235.49,235.29 236.26,235.16 237.03,235.05 237.8,235.38 238.57,235.5 239.33,235.49 240.1,235.52 240.86,235.54 241.63,235.8 242.39,235.75 243.15,235.83 243.9,235.72 244.66,235.83 245.41,236.01 246.16,235.9 246.9,235.92 247.65,236.12 248.38,236.41 249.12,236.32 249.85,236.57 250.58,236.39 251.3,236.43 252.02,236.33 252.73,236.51 253.44,236.88 254.14,236.78 254.84,236.9 255.53,236.96 256.22,236.92 256.9,236.95 257.57,237.06 258.24,237.21 258.9,237.24 259.55,237.31 260.2,237.32 261.02,237.27 261.85,237.43 262.68,237.42 263.52,237.8 264.35,237.43 265.19,237.81 266.02,238.3 266.85,237.99 267.68,237.97 268.51,238.24 269.33,238.54 270.14,238.43 270.95,238.65 271.74,238.67 272.53,238.7 273.3,239.33 274.06,238.97 274.81,238.98 275.54,239.08 276.25,239.31 276.95,239.41 277.63,239.55 278.29,239.55 278.93,239.4 279.54,239.77 280.13,239.73 280.7,239.8 281.24,239.7 281.76,239.9 282.24,239.94 282.7,240.09 283.61,239.99 284.38,240.31 285.06,240.4 285.69,240.28 286.32,240.43 287,240.47 287,240.74 287.3,227.42 287.3,227.75 287.98,227.73 288.63,228.08 289.27,228.44 289.92,228.38 290.57,228.66 291.25,228.7 291.95,229.31 292.7,229.38 293.5,229.67 294.07,229.49 294.66,229.73 295.27,230.27 295.9,230.3 296.56,230.53 297.23,230.87 297.91,230.89 298.61,231.46 299.32,231.62 300.04,231.96 300.77,232.07 301.51,232.54 302.26,232.65 303,233.19 303.75,233.51 304.5,233.78 305.25,234.01 306,234.33 306.74,234.12 307.47,234.94 308.2,235.06 308.86,235.38 309.54,235.59 310.24,235.7 310.95,236.12 311.67,236.59 312.4,237 313.13,236.99 313.87,237.25 314.62,237.91 315.36,237.87 316.1,238.62 316.84,238.62 317.57,238.78 318.3,239.35 319.01,239.75 319.71,239.57 320.4,240.3 321.06,240.29 321.72,240.82 322.34,240.79 322.95,240.85 323.53,241.38 324.08,241.66 324.61,242.03 325.1,242.16 325.93,242.3 326.64,242.4 327.27,242.56 327.88,242.78 328.51,242.89 329.2,243.19 330,243.12 330.55,243.71 331.13,243.88 331.74,244.47 332.38,244.42 333.04,244.46 333.73,244.85 334.43,244.82 335.15,245.16 335.88,245.22 336.63,245.97 337.38,246.11 338.13,246.11 338.89,246.55 339.64,246.97 340.4,247.17 341.14,247.43 341.87,247.52 342.59,247.83 343.3,248.21 343.97,248.6 344.65,248.61 345.32,248.84 345.99,249.46 346.66,249.42 347.34,250.01 348.01,250.16 348.68,250.55 349.35,250.97 350.02,251.1 350.69,251.4 351.36,251.45 352.03,251.78 352.7,252.28 353.37,252.71 354.03,252.99 354.7,253.43 355.37,253.44 356.03,253.72 356.7,254.15 357.37,254.31 358.03,254.61 358.68,254.77 359.34,255.39 359.98,255.4 360.63,255.95 361.28,255.98 361.92,256.68 362.57,256.68 363.22,257.28 363.87,257.24 364.52,257.74 365.18,258.31 365.85,258.34 366.52,258.81 367.19,259.06 367.88,259.13 368.58,259.86 369.28,260.22 370,260.33 370.61,260.88 371.24,260.97 371.87,261.24 372.5,261.69 373.14,261.9 373.79,262.65 374.45,262.38 375.11,263.04 375.77,263.39 376.44,263.26 377.11,263.61 377.79,264.27 378.47,264.43 379.15,264.88 379.83,265.32 380.52,265.41 381.2,265.63 381.89,265.7 382.58,266.46 383.26,266.61 383.95,267.12 384.63,267.43 385.32,267.51 386,268.29 386.68,268.51 387.36,268.8 388.03,268.81 388.7,269.24 388.7,269.22 389.3,280.64 389.3,280.53 390,280.9 390.66,281 391.31,281.16 391.94,281.16 392.57,281.57 393.2,281.54 393.83,281.23 394.48,281.68 395.14,281.9 395.84,282.19 396.57,282.13 397.35,282.27 398.17,282.34 399.05,282.67 400,282.63 400.48,282.67 400.97,282.71 401.48,282.97 402.01,282.86 402.54,282.75 403.09,283.16 403.66,283.02 404.24,283.24 404.83,283.3 405.43,283.48 406.05,283.52 406.68,283.33 407.32,283.45 407.97,283.34 408.63,283.84 409.3,283.71 409.99,283.91 410.68,283.71 411.38,283.51 412.1,284.1 412.82,283.94 413.55,284 414.28,284.05 415.03,284.19 415.78,284.23 416.54,283.97 417.31,284.43 418.09,284.24 418.87,284.3 419.66,284.69 420.45,284.62 421.25,284.49 422.05,284.31 422.86,284.67 423.67,284.78 424.49,284.75 425.31,284.62 426.13,284.75 426.96,284.73 427.78,285.01 428.62,285.15 429.45,285.24 430.28,285.03 431.12,285.23 431.96,285.33 432.8,285.23 433.64,285.34 434.48,285.73 435.32,285.5 436.15,285.66 436.99,285.52 437.83,285.65 438.66,285.44 439.49,285.75 440.33,285.99 441.15,286.18 441.98,286.1 442.8,286.08 443.62,286.04 444.43,286 445.24,286.13 446.05,286.3 446.85,286.15 447.65,286.46 448.44,286.23 449.22,286.17 450,286.35 450.71,286.3 451.42,286.4 452.14,286.83 452.85,286.69 453.57,286.81 454.29,287 455.01,287.07 455.73,286.86 456.45,287.19 457.17,287.11 457.9,287.11 458.62,287.23 459.35,287 460.08,287.16 460.81,287.31 461.54,287.48 462.27,287.39 463,287.48 463.73,287.7 464.46,287.82 465.2,287.78 465.93,287.91 466.67,287.72 467.41,287.79 468.15,287.94 468.88,287.91 469.62,287.93 470.36,288.31 471.1,288.09 471.85,288.03 472.59,288.31 473.33,288.57 474.07,288.36 474.82,288.59 475.56,288.4 476.31,288.45 477.05,288.48 477.8,288.62 478.54,288.97 479.29,288.58 480.04,289.06 480.78,288.72 481.53,288.89 482.28,289.11 483.03,289.14 483.77,289.14 484.52,288.91 485.27,289.27 486.02,289.12 486.77,289.72 487.52,289.36 488.27,289.47 489.02,289.33 489.76,289.49 490.51,289.43 491.26,289.82 492.01,289.7 492.76,289.88 493.51,289.75 494.25,289.83 495,290.16 495.75,289.88 496.5,289.81 497.25,290.2 497.99,290.03 498.74,290.19 499.48,290.45 500.23,290.25 500.98,290.56 501.72,290.38 502.47,290.77 503.21,290.8 503.95,290.59 504.7,290.68 505.44,290.65 506.18,290.86 506.92,291.06 507.66,290.73 508.4,291.14" fill="none" stroke="#6e1a7e" stroke-width="1.8" stroke-linejoin="round" />
<path d="M47.2,276.8 47.2,257.47 47.2,257.33 47.79,257.59 48.37,256.97 48.94,256.68 49.52,256.22 50.1,256.16 50.71,255.36 51.34,255.35 52,255.33 52.58,254.65 53.18,254.42 53.79,254.22 54.41,253.71 55.05,253.54 55.7,253.37 56.37,252.95 57.06,252.65 57.76,252.22 58.49,251.97 59.23,251.58 60,251.42 60.56,251.03 61.14,250.59 61.74,249.96 62.35,250.11 62.97,249.79 63.6,249.2 64.25,248.7 64.91,248.47 65.58,248.43 66.25,247.77 66.94,247.49 67.62,247.23 68.32,247.02 69.02,246.47 69.72,246.09 70.42,245.67 71.13,245.64 71.83,245.21 72.54,244.7 73.24,244.18 73.94,243.95 74.63,243.86 75.32,243.37 76,243.33 76.69,242.99 77.38,242.72 78.08,242.52 78.78,242.25 79.48,241.81 80.19,241.66 80.9,241.84 81.61,241.09 82.33,240.99 83.04,241.01 83.75,240.62 84.46,240.33 85.17,240.05 85.88,240.14 86.58,240.02 87.28,239.89 87.97,239.5 88.66,239.47 89.34,238.97 90.02,238.97 90.69,238.66 91.35,238.61 92,238.51 92.74,238.35 93.46,237.84 94.17,237.99 94.85,237.55 95.53,237.29 96.2,237.24 96.86,236.87 97.52,236.92 98.19,236.8 98.86,236.55 99.54,236.48 100.23,236.18 100.94,236.04 101.67,235.63 102.42,235.64 103.19,235.3 104,235.13 104.6,235.01 105.23,234.88 105.86,234.42 106.51,234.24 107.17,234.24 107.85,234.15 108.54,233.93 109.23,233.8 109.94,233.65 110.66,233.31 111.38,233.01 112.11,232.64 112.85,232.43 113.59,232.27 114.34,232.15 115.09,231.92 115.85,231.66 116.6,231.4 117.36,231.29 118.12,231 118.88,230.78 119.63,230.55 120.39,230.2 121.14,229.9 121.88,229.91 122.62,229.68 123.36,229.37 124.09,229.13 124.81,229.32 125.52,228.67 126.22,228.55 126.92,228.43 127.6,228.03 128.36,228.01 129.11,228.06 129.86,227.72 130.6,227.48 131.34,227.27 132.07,227 132.8,226.94 133.53,226.58 134.25,226.35 134.97,226.24 135.69,226.17 136.4,225.9 137.12,225.77 137.83,225.19 138.54,225.49 139.25,225.49 139.96,225.16 140.67,224.74 141.38,224.49 142.09,224.5 142.81,224.14 143.52,224.24 144.24,223.89 144.95,223.95 145.68,223.86 146.4,223.2 147.12,223.39 147.84,223.1 148.56,222.85 149.28,222.82 150,222.74 150.72,222.79 151.44,222.27 152.15,222.52 152.87,222.53 153.59,222.19 154.31,222.05 155.03,221.84 155.75,221.54 156.48,221.68 157.2,221.54 157.92,221.47 158.64,221.63 159.37,221.24 160.09,221.08 160.82,221.15 161.55,220.6 162.27,220.53 163,220.54 163.73,220.4 164.47,220.5 165.2,220.25 165.92,220.47 166.65,220.35 167.39,220.15 168.13,219.89 168.87,219.97 169.61,219.92 170.36,219.57 171.11,219.71 171.86,219.69 172.61,219.55 173.36,219.69 174.11,219.58 174.86,219.21 175.61,219.29 176.36,219.09 177.1,219.24 177.84,218.97 178.58,219.18 179.32,219.04 180.05,219.07 180.77,218.84 181.49,218.59 182.21,219.01 182.92,218.66 183.62,218.83 184.31,218.63 185,218.6 185.76,218.7 186.5,218.4 187.23,218.48 187.94,217.97 188.65,218.25 189.35,218 190.04,217.94 190.73,217.88 191.41,217.85 192.09,217.97 192.78,217.36 193.46,217.57 194.15,217.38 194.85,217.59 195.55,217.29 196.26,217.35 196.98,217.16 197.71,217.26 198.46,217.25 199.22,216.99 200,217.01 200.66,216.75 201.32,216.97 201.98,217.02 202.65,216.78 203.32,217.01 203.99,216.5 204.67,216.51 205.36,216.56 206.05,216.67 206.74,216.73 207.44,216.7 208.15,216.69 208.86,216.79 209.57,216.6 210.29,216.47 211.01,216.46 211.74,216.96 212.48,216.28 213.22,216.6 213.97,216.84 214.72,216.69 215.48,216.49 216.25,216.61 217.02,216.74 217.8,216.79 218.58,216.47 219.37,216.72 220.17,216.64 220.97,216.77 221.78,216.81 222.6,216.55 223.25,216.38 223.91,216.66 224.58,216.86 225.26,216.7 225.95,216.63 226.65,216.96 227.35,216.44 228.07,216.73 228.79,216.51 229.52,216.61 230.25,216.61 231,216.83 231.74,216.46 232.5,216.52 233.26,216.37 234.02,216.68 234.79,216.54 235.56,216.68 236.33,216.46 237.11,216.57 237.89,216.79 238.67,216.61 239.45,216.74 240.23,216.73 241.02,216.61 241.8,216.43 242.59,216.83 243.37,216.71 244.15,216.85 244.93,216.41 245.71,216.48 246.49,216.42 247.26,216.62 248.03,216.92 248.8,216.87 249.56,216.8 250.32,216.84 251.07,216.95 251.82,216.81 252.56,216.94 253.29,216.92 254.02,216.6 254.74,216.89 255.46,217.18 256.16,216.95 256.86,217.01 257.55,216.97 258.22,217.02 258.89,217.3 259.55,217.12 260.2,217.05 261.02,216.78 261.85,217.22 262.69,217.07 263.53,217.15 264.37,217.61 265.22,217.67 266.06,217.35 266.9,217.85 267.74,217.87 268.58,217.77 269.41,218.08 270.23,217.81 271.04,217.96 271.85,218.01 272.64,218.15 273.42,218.53 274.19,218.29 274.94,218.4 275.68,218.51 276.39,218.77 277.09,218.77 277.77,219.02 278.42,218.86 279.06,218.84 279.66,219.03 280.24,219.17 280.79,219.08 281.32,219.32 281.81,219.6 282.27,219.28 282.7,219.41 283.59,219.67 284.32,219.41 284.95,219.41 285.55,219.4 286.2,219.66 286.2,219.68 286.5,202.38 286.5,202.4 286.98,202.27 287.44,201.86 287.93,201.23 288.5,201.3 289.07,201.38 289.7,201.69 290.37,201.87 291.08,202.18 291.82,202.6 292.56,202.76 293.3,203.29 293.99,203.38 294.7,203.66 295.41,203.53 296.14,203.7 296.88,203.7 297.64,203.8 298.41,204.2 299.2,204.23 299.83,204.56 300.48,204.55 301.14,204.99 301.81,204.99 302.49,205.47 303.18,205.77 303.87,206.25 304.58,206.5 305.29,206.77 306.01,207.24 306.73,207.45 307.46,207.8 308.2,208.11 308.87,208.22 309.55,208.42 310.24,208.75 310.94,208.86 311.64,209.21 312.35,209.54 313.07,209.72 313.79,209.75 314.51,209.84 315.23,210.24 315.96,210.45 316.67,210.86 317.39,210.85 318.1,211.1 318.8,211.47 319.5,211.52 320.21,211.81 320.91,212.32 321.61,212.52 322.3,212.62 322.99,212.8 323.68,212.84 324.37,213.31 325.06,213.47 325.75,213.73 326.44,213.87 327.14,214.2 327.84,214.43 328.55,214.77 329.27,215.22 330,215.35 330.63,215.3 331.28,215.67 331.92,215.85 332.57,216.24 333.23,216.73 333.89,217 334.56,217.14 335.23,217.57 335.9,217.72 336.57,217.92 337.24,218.24 337.92,218.63 338.6,219.29 339.27,219.19 339.95,219.89 340.62,220.22 341.3,220.31 341.97,220.65 342.64,220.88 343.3,221.29 343.97,221.71 344.64,221.94 345.31,222.41 345.99,222.77 346.66,222.97 347.33,223.3 348,223.58 348.67,223.98 349.34,224.1 350.01,224.66 350.68,224.97 351.35,225.15 352.02,225.94 352.69,225.82 353.36,226.17 354.03,226.68 354.69,226.69 355.36,227.2 356.03,227.43 356.7,227.85 357.36,228.31 358.02,228.71 358.68,229.16 359.33,229.45 359.98,229.84 360.63,230.09 361.28,230.26 361.93,230.83 362.57,230.93 363.23,231.24 363.88,231.9 364.53,232.12 365.2,232.37 365.86,232.79 366.53,233.14 367.21,233.14 367.89,233.67 368.59,233.84 369.29,234.37 370,234.59 370.63,235.19 371.27,235.36 371.91,235.45 372.56,235.87 373.22,235.98 373.88,236.47 374.55,236.84 375.22,237.09 375.9,237.06 376.58,237.6 377.26,238.02 377.95,238.28 378.63,238.71 379.32,238.64 380.02,239.21 380.71,239.33 381.4,239.75 382.1,240.08 382.79,240.42 383.48,240.53 384.18,240.94 384.87,241.03 385.55,241.29 386.24,241.88 386.92,242.09 387.6,242.15 387.6,242.26 389.3,264.69 389.3,264.92 390,264.93 390.67,264.98 391.31,264.68 391.95,265.01 392.57,265.18 393.2,265.25 393.83,265.33 394.48,265.32 395.15,265.7 395.85,265.74 396.58,265.59 397.35,265.55 398.18,266.1 399.06,265.81 400,266.17 400.48,266.33 400.97,265.95 401.48,266.19 402.01,266.15 402.55,266.33 403.1,266.36 403.66,266.66 404.24,266.51 404.84,266.48 405.44,266.71 406.06,266.56 406.68,266.6 407.32,267.05 407.98,266.65 408.64,266.77 409.31,266.91 409.99,266.81 410.69,266.71 411.39,267.25 412.1,267.04 412.82,267.15 413.55,267.24 414.29,267.21 415.04,267.27 415.79,267.52 416.55,267.92 417.32,267.74 418.09,267.81 418.87,267.55 419.66,267.84 420.45,267.73 421.25,268.1 422.06,268.02 422.86,268.13 423.67,268.18 424.49,268.18 425.31,268.11 426.13,268.5 426.96,268.28 427.79,268.38 428.62,268.58 429.45,268.6 430.29,268.81 431.12,269 431.96,268.96 432.8,269.02 433.64,269.07 434.48,269.27 435.32,268.94 436.16,269.34 436.99,269.22 437.83,269.25 438.66,269.5 439.5,269.52 440.33,269.73 441.15,269.88 441.98,269.44 442.8,269.85 443.62,270.23 444.43,270.13 445.24,270.29 446.05,270.16 446.85,270 447.65,270.12 448.44,270.46 449.22,270.57 450,270.38 450.71,270.51 451.42,270.66 452.14,270.42 452.85,270.69 453.57,271.05 454.29,271.19 455.01,270.91 455.73,271.27 456.45,270.98 457.17,271 457.9,270.84 458.62,271.39 459.35,271.25 460.08,271.72 460.81,271.48 461.54,271.52 462.27,271.29 463,271.85 463.73,271.63 464.46,271.72 465.2,271.48 465.93,272.01 466.67,272.08 467.41,271.91 468.15,272.08 468.88,272.19 469.62,272.33 470.36,272.27 471.1,272.57 471.85,272.34 472.59,272.35 473.33,272.44 474.07,272.19 474.82,272.51 475.56,272.85 476.31,272.8 477.05,272.7 477.8,272.94 478.54,272.65 479.29,272.97 480.04,273.16 480.78,273.25 481.53,273.09 482.28,273.41 483.03,273.61 483.77,273.33 484.52,273.57 485.27,273.29 486.02,273.29 486.77,273.74 487.52,273.72 488.27,273.81 489.01,273.75 489.76,273.86 490.51,274.09 491.26,274.29 492.01,274.06 492.76,273.91 493.51,274.41 494.25,274.38 495,274.45 495.75,274.44 496.5,274.83 497.25,274.55 497.99,274.68 498.74,274.39 499.48,274.64 500.23,274.69 500.98,274.85 501.72,274.97 502.47,274.87 503.21,275.31 503.95,274.95 504.7,275.11 505.44,275.27 506.18,275.11 506.92,275.45 507.66,275.52 508.4,275.45" fill="none" stroke="#7e1a1a" stroke-width="1.7" stroke-linejoin="round" />
<path d="M47.2,277.28 47.2,259 47.2,259.03 47.87,258.56 48.53,258.17 49.19,258.04 49.85,257.8 50.53,257.5 51.25,257.4 52,256.63 52.58,256.61 53.18,256.31 53.79,256.58 54.41,256.1 55.05,255.91 55.7,255.63 56.37,255.72 57.06,255.31 57.77,255.19 58.49,254.61 59.24,254.84 60,254.45 60.59,254.26 61.2,254.13 61.83,253.67 62.48,253.42 63.14,253.29 63.81,252.97 64.5,252.59 65.2,252.34 65.91,251.97 66.63,251.85 67.36,251.58 68.09,251.14 68.82,251.12 69.55,250.3 70.29,250.19 71.02,250.18 71.75,249.56 72.48,249.1 73.2,249.26 73.92,248.85 74.62,248.32 75.32,248.36 76,247.84 76.72,247.53 77.43,247.46 78.14,247.16 78.85,246.82 79.55,246.69 80.25,246.35 80.95,246.28 81.65,246.03 82.34,245.92 83.04,245.51 83.73,245.16 84.42,244.94 85.12,244.88 85.81,244.94 86.51,244.62 87.2,244.19 87.9,244.23 88.6,243.71 89.3,243.84 90,243.44 90.69,243.42 91.38,243.22 92.06,242.92 92.73,242.85 93.41,242.48 94.08,242.48 94.75,242.5 95.42,242.81 96.09,242.15 96.77,241.92 97.45,241.61 98.14,241.77 98.83,241.22 99.53,241.2 100.25,241.22 100.97,240.82 101.71,241.07 102.46,240.83 103.22,240.4 104,240.21 104.63,239.94 105.27,239.76 105.93,239.87 106.59,239.72 107.27,239.5 107.96,239.31 108.65,239 109.36,238.94 110.07,238.47 110.79,238.5 111.51,238.52 112.24,238.29 112.98,237.82 113.72,237.63 114.46,237.69 115.21,237.54 115.95,236.84 116.7,236.79 117.45,236.68 118.2,236.63 118.95,236.11 119.7,236.13 120.44,235.79 121.18,235.99 121.92,235.5 122.65,235.22 123.38,235 124.1,235.02 124.82,234.78 125.53,234.34 126.23,234.36 126.92,233.95 127.6,233.88 128.36,233.62 129.11,233.44 129.86,233.36 130.6,233.15 131.34,233.21 132.07,233.08 132.8,232.76 133.53,232.47 134.25,232.6 134.97,232.02 135.69,231.88 136.4,232.13 137.12,231.98 137.83,231.88 138.54,231.55 139.25,231.25 139.96,231.22 140.67,231.25 141.38,230.91 142.1,230.78 142.81,230.54 143.52,230.44 144.24,230.61 144.96,230.42 145.68,230.05 146.4,229.93 147.12,229.88 147.84,229.92 148.56,229.54 149.28,229.58 150,229.16 150.72,229.18 151.44,229.32 152.16,229.28 152.88,228.86 153.6,228.81 154.32,228.94 155.04,228.66 155.76,228.53 156.48,228.58 157.21,228.43 157.93,228.47 158.65,228.32 159.37,228.01 160.1,227.98 160.82,227.89 161.55,227.6 162.28,227.55 163.01,227.74 163.74,227.26 164.47,227.55 165.2,227.34 165.92,227.17 166.65,227.17 167.38,227.06 168.11,227.07 168.84,226.73 169.57,226.65 170.31,226.55 171.04,226.77 171.78,226.52 172.51,226.14 173.25,226.13 173.99,225.98 174.73,225.99 175.47,225.92 176.2,226.13 176.94,225.42 177.68,225.75 178.42,225.57 179.15,225.3 179.89,225.29 180.62,225.15 181.36,225.14 182.09,225.19 182.82,224.72 183.55,225.06 184.27,224.72 185,224.92 185.73,224.67 186.46,224.71 187.19,224.53 187.92,224.52 188.64,224.29 189.37,224.07 190.09,224.22 190.82,224.14 191.54,224.27 192.26,223.58 192.98,223.77 193.71,223.88 194.43,223.46 195.15,223.54 195.87,223.82 196.59,223.64 197.31,223.23 198.03,223.51 198.75,223.4 199.47,223.28 200.19,223.15 200.91,223.07 201.63,222.84 202.35,222.83 203.08,222.96 203.8,222.82 204.52,223.02 205.23,222.64 205.93,222.28 206.63,222.54 207.32,222.58 208,222.55 208.69,222.46 209.37,222.28 210.05,222.58 210.73,222.22 211.42,222.39 212.1,222.2 212.79,222.02 213.49,222.38 214.19,221.75 214.9,221.97 215.61,222.13 216.34,221.98 217.07,222.11 217.82,221.95 218.58,221.87 219.35,222.23 220.14,221.85 220.94,221.83 221.76,221.66 222.6,221.68 223.22,221.87 223.85,221.84 224.49,221.74 225.15,221.62 225.81,221.81 226.49,221.43 227.18,221.62 227.88,221.61 228.59,221.51 229.3,221.64 230.03,221.5 230.76,221.46 231.5,221.84 232.25,221.66 233.01,221.72 233.77,221.53 234.53,221.66 235.3,221.62 236.08,221.67 236.86,221.83 237.64,221.43 238.43,221.49 239.22,221.43 240.01,220.9 240.8,221.21 241.59,221.41 242.38,221.5 243.18,221.31 243.97,221.56 244.76,221.57 245.55,221.31 246.33,221.58 247.12,221.63 247.9,221.43 248.68,221.21 249.45,221.57 250.22,221.32 250.98,221.29 251.74,221.36 252.49,221.27 253.24,221.51 253.97,221.47 254.7,221.53 255.43,221.44 256.14,221.24 256.84,221.34 257.53,221.5 258.22,221.31 258.89,221.82 259.55,221.35 260.2,221.31 261.02,221.59 261.85,221.54 262.69,221.45 263.52,221.44 264.37,221.56 265.21,221.65 266.05,221.67 266.89,221.54 267.73,221.69 268.56,221.78 269.39,221.81 270.21,221.27 271.03,221.63 271.83,221.69 272.62,221.81 273.4,221.91 274.17,222.06 274.92,222.05 275.66,221.98 276.37,222.04 277.07,222.33 277.75,222.01 278.41,222.18 279.04,222.4 279.65,222.24 280.23,221.91 280.78,222.3 281.31,222.2 281.8,222.26 282.27,222.45 282.7,222.37 283.62,222.27 284.36,222.45 285.01,222.38 285.63,222.32 286.3,222.35 286.3,222.34 286.8,204.55 286.8,204.53 287.51,204.73 288.19,204.71 288.87,204.79 289.54,205.3 290.23,205.2 290.94,205.36 291.68,205.48 292.46,205.65 293.3,205.8 293.88,205.92 294.49,205.9 295.13,206.28 295.79,206.16 296.47,206.54 297.17,206.23 297.89,206.49 298.62,206.94 299.37,206.9 300.12,206.97 300.88,207.26 301.64,207.19 302.4,207.5 303.16,207.3 303.92,207.71 304.66,207.82 305.4,208.14 306.13,208.33 306.84,208.21 307.53,208.71 308.2,208.51 308.95,208.44 309.69,208.54 310.42,209.28 311.15,209.18 311.86,209.25 312.57,209.38 313.27,209.48 313.97,209.99 314.67,209.92 315.36,210.34 316.05,210.19 316.74,210.01 317.43,210.62 318.12,210.58 318.81,210.73 319.5,211.14 320.21,210.99 320.91,211.32 321.61,211.26 322.3,211.25 322.99,211.55 323.67,211.48 324.36,211.86 325.05,211.92 325.74,211.89 326.43,212.09 327.13,212.2 327.84,212.2 328.55,212.52 329.27,212.5 330,212.79 330.67,212.72 331.34,213.05 332.02,213.27 332.71,213.28 333.4,213.53 334.1,213.71 334.8,214.11 335.5,214.1 336.21,214.49 336.92,214.88 337.63,214.92 338.34,214.86 339.05,215.34 339.77,215.71 340.48,215.74 341.19,216.18 341.89,216.34 342.6,216.54 343.3,216.66 344.01,216.85 344.71,217.12 345.42,217.4 346.12,217.71 346.83,217.93 347.54,218.06 348.24,218.36 348.95,218.65 349.65,218.59 350.36,218.97 351.06,219.21 351.77,219.54 352.47,219.78 353.18,220.03 353.88,220.19 354.59,220.66 355.29,220.85 356,220.81 356.7,221.3 357.4,221.38 358.09,222.05 358.78,221.97 359.47,222.23 360.15,222.55 360.83,222.75 361.51,223.02 362.2,223.51 362.88,223.56 363.56,223.9 364.25,224.19 364.95,224.13 365.64,224.78 366.35,224.87 367.06,225.16 367.78,225.14 368.51,225.63 369.25,225.82 370,225.92 370.64,226.55 371.29,226.5 371.95,226.58 372.61,226.85 373.28,227.17 373.96,227.4 374.64,227.53 375.33,227.83 376.02,228.07 376.72,227.87 377.41,228.18 378.12,228.32 378.82,228.68 379.53,229.08 380.24,229.17 380.95,229.11 381.66,229.43 382.37,229.83 383.08,229.8 383.79,230.07 384.5,230.33 385.2,230.22 385.91,230.81 386.61,230.95 387.31,231.18 388,231.16 388,231.19 389.3,259.21 389.3,259.34 390,259.36 390.67,259.41 391.31,259.7 391.95,259.67 392.58,259.41 393.2,259.46 393.84,259.86 394.48,259.6 395.15,259.9 395.85,259.98 396.58,259.7 397.36,259.79 398.18,259.9 399.06,259.81 400,259.86 400.48,259.97 400.97,260.19 401.48,260.03 402.01,260.1 402.55,260.09 403.1,259.99 403.67,260.45 404.24,259.91 404.84,260.2 405.44,260.42 406.06,260.17 406.69,260.51 407.33,260.64 407.98,260.36 408.64,260.56 409.31,260.41 410,260.69 410.69,260.67 411.39,260.73 412.11,260.95 412.83,260.86 413.56,261.03 414.29,260.97 415.04,260.74 415.79,261 416.55,261.08 417.32,260.84 418.1,261.3 418.88,261.16 419.66,261.25 420.46,261.11 421.25,261.3 422.06,261.38 422.87,261.34 423.68,261.45 424.49,261.16 425.31,261.74 426.14,261.41 426.96,261.3 427.79,261.53 428.62,261.6 429.46,261.86 430.29,261.69 431.13,261.92 431.96,261.78 432.8,262.31 433.64,262.11 434.48,262.37 435.32,261.97 436.16,262.28 436.99,262.08 437.83,262.36 438.66,262.43 439.5,262.14 440.33,262.25 441.15,262.3 441.98,262.3 442.8,262.46 443.62,262.48 444.43,262.45 445.24,262.73 446.05,262.85 446.85,262.62 447.65,262.78 448.44,262.91 449.22,262.92 450,262.9 450.71,263.17 451.42,263.21 452.14,263.23 452.85,263.14 453.57,263.51 454.29,263.52 455.01,263.24 455.73,263.33 456.45,263.57 457.17,263.31 457.9,263.53 458.62,263.53 459.35,263.46 460.08,263.57 460.81,263.41 461.54,263.61 462.27,263.44 463,264.12 463.73,264.05 464.46,264.05 465.2,263.96 465.93,264.11 466.67,264.19 467.41,264.2 468.15,264.23 468.88,264 469.62,264.24 470.36,264.14 471.1,264.09 471.85,264.14 472.59,264.42 473.33,264.56 474.07,264.24 474.82,264.75 475.56,264.75 476.31,264.52 477.05,264.55 477.8,264.66 478.54,264.86 479.29,264.7 480.04,264.63 480.78,264.9 481.53,264.58 482.28,264.96 483.03,265.15 483.77,265.07 484.52,265.19 485.27,265.19 486.02,265.27 486.77,265.23 487.52,265.12 488.27,265.26 489.02,265.33 489.76,265.57 490.51,265.67 491.26,265.54 492.01,265.4 492.76,265.45 493.51,265.58 494.25,265.86 495,265.75 495.75,265.73 496.5,265.67 497.25,265.96 497.99,265.92 498.74,265.91 499.48,265.98 500.23,266.26 500.98,266.03 501.72,266.35 502.47,266.33 503.21,266.2 503.95,266.37 504.7,266.26 505.44,266.2 506.18,266.33 506.92,266.28 507.66,266.53 508.4,266.5" fill="none" stroke="#7c7c22" stroke-width="1.7" stroke-linejoin="round" />
</g>
<rect x="282.0" y="10.2" width="11.199999999999989" height="291.2" fill="none" stroke="#8c8c2c" stroke-width="1.8"/>
<path d="M298.3,65 C303,62 309,57 312.4,44" fill="none" stroke="#333" stroke-width="0.9" stroke-dasharray="2.2,0.8"/>
<path d="M314.8,37.1 L312.1,44.2 L316.2,44.4 Z" fill="#111"/>
<line x1="432.3" y1="23.5" x2="462.9" y2="23.5" stroke="#e81414" stroke-width="1.3" />
<line x1="432.3" y1="39.53" x2="462.9" y2="39.53" stroke="#1212d8" stroke-width="1.6" />
<line x1="432.3" y1="55.56" x2="462.9" y2="55.56" stroke="#e01ee6" stroke-width="1.6" />
<line x1="432.3" y1="71.59" x2="462.9" y2="71.59" stroke="#107010" stroke-width="1.3" />
<line x1="432.3" y1="87.62" x2="462.9" y2="87.62" stroke="#f0a848" stroke-width="1.4" />
<line x1="432.3" y1="103.65" x2="462.9" y2="103.65" stroke="#9444e4" stroke-width="1.6" />
<line x1="432.3" y1="119.68" x2="462.9" y2="119.68" stroke="#6e1a7e" stroke-width="1.7" />
<line x1="432.3" y1="135.71" x2="462.9" y2="135.71" stroke="#7e1a1a" stroke-width="1.2" />
<line x1="432.3" y1="151.74" x2="462.9" y2="151.74" stroke="#7c7c22" stroke-width="1.7" />
<text transform="translate(465.64,27.7) scale(1.1172,1)" font-size="11.773" font-weight="normal" font-style="normal" fill="#000" stroke="#000" stroke-width="0.250">2 kV</text>
<text transform="translate(465.8,43.73) scale(1.1172,1)" font-size="11.773" font-weight="normal" font-style="normal" fill="#000" stroke="#000" stroke-width="0.250">3 kV</text>
<text transform="translate(466,59.76) scale(1.1172,1)" font-size="11.773" font-weight="normal" font-style="normal" fill="#000" stroke="#000" stroke-width="0.250">4 kV</text>
<text transform="translate(465.77,75.79) scale(1.1172,1)" font-size="11.773" font-weight="normal" font-style="normal" fill="#000" stroke="#000" stroke-width="0.250">5 kV</text>
<text transform="translate(465.63,91.82) scale(1.1172,1)" font-size="11.773" font-weight="normal" font-style="normal" fill="#000" stroke="#000" stroke-width="0.250">6 kV</text>
<text transform="translate(465.63,107.85) scale(1.1172,1)" font-size="11.773" font-weight="normal" font-style="normal" fill="#000" stroke="#000" stroke-width="0.250">7 kV</text>
<text transform="translate(465.73,123.88) scale(1.1172,1)" font-size="11.773" font-weight="normal" font-style="normal" fill="#000" stroke="#000" stroke-width="0.250">8 kV</text>
<text transform="translate(465.68,139.91) scale(1.1172,1)" font-size="11.773" font-weight="normal" font-style="normal" fill="#000" stroke="#000" stroke-width="0.250">9 kV</text>
<text transform="translate(465.9,155.94) scale(1.1172,1)" font-size="11.773" font-weight="normal" font-style="normal" fill="#000" stroke="#000" stroke-width="0.250">10 kV</text>
<text transform="translate(14.6,24.4) scale(0.8810,1)" font-size="23.416" font-weight="bold" font-style="normal" fill="#000" stroke="#000" stroke-width="0.052">a</text>
<text transform="translate(28.3,252.64) rotate(-90) scale(0.9509,1)" font-size="24.855" font-weight="normal" fill="#000" stroke="#000" stroke-width="0.027">Energy loss (a.u.)</text>
<text transform="translate(40.93,323.4) scale(1.1469,1)" font-size="19.334" font-weight="normal" font-style="normal" fill="#000" stroke="#000" stroke-width="0.121">0</text>
<text transform="translate(121.81,323.4) scale(1.0789,1)" font-size="19.334" font-weight="normal" font-style="normal" fill="#000" stroke="#000" stroke-width="0.121">100</text>
<text transform="translate(213.39,323.4) scale(1.1366,1)" font-size="19.334" font-weight="normal" font-style="normal" fill="#000" stroke="#000" stroke-width="0.121">200</text>
<text transform="translate(306.6,323.4) scale(1.0921,1)" font-size="19.334" font-weight="normal" font-style="normal" fill="#000" stroke="#000" stroke-width="0.121">300</text>
<text transform="translate(399.52,323.4) scale(1.0754,1)" font-size="19.334" font-weight="normal" font-style="normal" fill="#000" stroke="#000" stroke-width="0.121">400</text>
<text transform="translate(491.23,323.4) scale(1.1292,1)" font-size="19.334" font-weight="normal" font-style="normal" fill="#000" stroke="#000" stroke-width="0.121">500</text>
<text transform="translate(210.01,356.4) scale(1.1229,1)" font-size="19.191" font-weight="normal" font-style="normal" fill="#000" stroke="#000" stroke-width="0.124">CL depth (nm)</text>
<text transform="translate(164.69,144.4) scale(1.0295,1)" font-size="15.553" font-weight="normal" font-style="normal" fill="#000" stroke="#000" stroke-width="0.186">MgZnO</text>
<text transform="translate(160.68,163.5) scale(1.1211,1)" font-size="14.608" font-weight="normal" font-style="normal" fill="#000" stroke="#000" stroke-width="0.202">(260 nm)</text>
<text transform="translate(320.49,160.4) scale(1.0885,1)" font-size="14.826" font-weight="normal" font-style="normal" fill="#000" stroke="#000" stroke-width="0.198">ZnO</text>
<text transform="translate(306.79,180.3) scale(1.1542,1)" font-size="14.099" font-weight="normal" font-style="normal" fill="#000" stroke="#000" stroke-width="0.210">(110 nm)</text>
<text transform="translate(431.61,240.3) scale(1.0883,1)" font-size="14.868" font-weight="normal" font-style="normal" fill="#000" stroke="#000" stroke-width="0.197">c-sap</text>
<text transform="translate(295.63,30.5) scale(1.1424,1)" font-size="13.954" font-weight="normal" font-style="normal" fill="#000" stroke="#000" stroke-width="0.213">Interface 260 nm</text>
<line x1="173.2" y1="512.5" x2="173.2" y2="680" stroke="#444" stroke-width="1.4" stroke-dasharray="5,3"/>
<line x1="218.8" y1="501" x2="218.8" y2="680" stroke="#333" stroke-width="1.5" stroke-dasharray="5,3"/>
<g clip-path="url(#plotb)">
<path d="M45.1,662.5 45.75,662.23 46.4,660.49 47.04,661.34 47.69,660.24 48.34,660.58 48.99,659.86 49.64,659.85 50.29,659.94 50.94,658.51 51.59,658.82 52.24,658.38 52.89,657.39 53.54,657.92 54.18,657.35 54.83,656.8 55.48,656.36 56.13,657.38 56.77,655.75 57.42,654.89 58.07,654.82 58.71,654.64 59.36,654.25 60,653.97 60.61,653.27 61.22,653.45 61.83,652.73 62.43,652.05 63.04,651.87 63.65,651.64 64.26,651.7 64.87,651.19 65.48,650.52 66.08,650.27 66.69,649.95 67.3,650.2 67.9,648.88 68.51,648.87 69.11,648.56 69.71,647.58 70.32,647.58 70.92,647.17 71.52,646.54 72.12,646.49 72.72,646.24 73.32,645.86 73.91,644.98 74.51,644.69 75.1,645.02 75.69,643.39 76.28,643.42 76.86,643.22 77.45,642.53 78.03,642.27 78.61,641.66 79.19,641.42 79.78,641.15 80.36,640.18 80.94,639.87 81.51,639.33 82.09,638.75 82.67,638.42 83.24,637.57 83.82,637.76 84.39,637.62 84.97,637.15 85.54,636.53 86.11,635.27 86.68,635.66 87.25,634.39 87.82,634.14 88.39,634.32 88.96,632.81 89.53,632.99 90.1,632.3 90.65,631.67 91.19,630.93 91.74,630.89 92.28,630.08 92.83,630.11 93.37,629.67 93.91,628.25 94.45,628.04 94.99,627.59 95.53,626.77 96.06,626.28 96.6,626.18 97.14,625.55 97.67,624.52 98.21,624.39 98.75,624.23 99.28,623.11 99.82,622.68 100.35,623.04 100.89,622.43 101.43,620.88 101.96,620.46 102.5,620.55 103.04,619.49 103.58,619.31 104.12,618.74 104.66,618.59 105.2,617.01 105.75,616.63 106.29,616.48 106.83,616.78 107.37,615.88 107.91,614.85 108.45,615.14 108.99,614.74 109.53,613.92 110.07,613.42 110.61,613.21 111.15,613 111.69,612.16 112.23,611.82 112.77,611.14 113.32,610.55 113.86,609.89 114.41,609.83 114.95,609.17 115.5,608.71 116.06,608.65 116.61,608.03 117.17,607.69 117.73,606.36 118.29,606.63 118.86,605.75 119.43,605.2 120,604.7 120.55,604.97 121.11,604.38 121.67,603.38 122.23,602.78 122.8,602.73 123.36,602.12 123.94,602.41 124.51,600.87 125.09,600.29 125.67,600.39 126.25,600.04 126.83,599.63 127.41,599.4 128,599.41 128.58,598.11 129.17,597.59 129.76,596.71 130.34,596.96 130.93,596.71 131.52,595.86 132.1,595.9 132.69,595.04 133.27,595.09 133.85,594.21 134.43,593.25 135.01,592.92 135.59,592.13 136.16,591.57 136.73,591.78 137.3,591.5 137.85,591.4 138.41,590.2 138.97,589.63 139.53,588.81 140.1,589.03 140.66,588.29 141.22,587.42 141.79,587.33 142.36,586.74 142.92,585.35 143.49,585.72 144.05,584.96 144.61,584.22 145.18,583.66 145.74,583.87 146.29,583.25 146.85,582.8 147.4,581.22 147.95,580.85 148.5,580.86 149.05,579.59 149.59,579.24 150.12,578.34 150.65,579.1 151.18,578.32 151.7,577.62 152.21,577.04 152.72,576.35 153.23,575.89 153.73,575.79 154.22,574.88 154.7,575.13 155.33,573.97 155.95,573.3 156.56,573.53 157.16,572.5 157.76,572.24 158.35,571.4 158.93,570.27 159.5,570.76 160.07,569.63 160.63,570.02 161.19,568.65 161.74,568.1 162.29,568.43 162.83,568.05 163.38,567.52 163.92,566.66 164.46,567 165,565.79 165.65,565.66 166.29,565.06 166.91,564.71 167.53,564.65 168.14,563.65 168.75,563.62 169.36,563.24 169.97,562.02 170.59,561.88 171.21,561.89 171.85,561.62 172.5,561.81 173.16,560.98 173.84,561.94 174.54,562.05 175.24,561.88 175.95,561.66 176.66,562.38 177.37,562.47 178.07,563.16 178.76,563.26 179.43,563.88 180.08,563.81 180.7,564.8 181.33,563.87 181.93,564.75 182.51,565.75 183.07,565.54 183.61,566.84 184.15,566.68 184.69,567.66 185.24,567.81 185.81,568.47 186.39,569.14 187,569.46 187.59,569.74 188.19,571.01 188.82,570.64 189.45,570.68 190.09,571.71 190.74,572.02 191.39,572.49 192.03,572.97 192.67,572.26 193.29,573.16 193.91,573.32 194.5,573 195.22,573.1 195.91,571.92 196.59,572.66 197.26,573.31 197.93,571.81 198.61,571.94 199.29,571.85 200,571.5 200.44,571.55 200.89,570 201.35,570.22 201.81,570.05 202.27,568.8 202.75,568.72 203.22,568.84 203.7,568.06 204.18,567.19 204.67,565.46 205.15,565.7 205.63,565.23 206.12,564.34 206.6,563.77 207.08,564.22 207.55,562.41 208.02,561.51 208.49,561.3 208.95,560.49 209.41,559.9 209.86,559.41 210.3,559.17 210.79,558.38 211.28,557.25 211.75,556.99 212.22,556.57 212.69,555.6 213.15,555.52 213.61,554.75 214.07,553.51 214.53,553.36 214.98,553.35 215.43,552.63 215.89,551.53 216.34,551.35 216.8,550.33 217.26,549.62 217.73,549.93 218.2,549.49 218.89,549.18 219.58,548.71 220.27,548.62 220.97,548.18 221.66,548.39 222.37,548.38 223.08,547.9 223.8,547.98 224.48,546.85 225.2,546.99 225.94,547.56 226.7,547.45 227.45,546.69 228.18,546.31 228.87,545.6 229.52,545.82 230.1,545.56 230.6,544.28 230.98,544.5 231.3,543.92 231.56,543.31 231.78,542.12 231.96,542.03 232.12,540.61 232.25,540.92 232.37,539.68 232.49,538.44 232.61,538.51 232.75,537.63 232.9,536.17 233.02,536.56 233.14,534.81 233.25,534.63 233.37,534.29 233.48,532.41 233.59,532.88 233.69,531.82 233.8,531.13 233.9,530.05 234,529.82 234.1,528.58 234.2,527.89 234.29,527.32 234.38,526.28 234.47,526.49 234.56,524.69 234.64,524.11 234.72,523.47 234.8,522.78 234.88,522.24 234.96,521.44 235.03,520.22 235.1,519.37 235.15,518.86 235.2,518.48 235.25,517.78 235.3,516.69 235.34,515.48 235.38,516.27 235.42,515.18 235.46,514.25 235.5,513.58 235.53,512.59 235.56,511.72 235.6,511.24 235.63,510.57 235.65,509.71 235.68,508.7 235.71,508.37 235.73,507.95 235.76,506.84 235.78,506.28 235.8,504.8 235.82,504.7 235.85,503.97 235.87,502.83 235.89,501.88 235.91,501.86 235.93,500.66 235.95,500.34 235.97,499.23 235.99,498.81 236.01,497.68 236.03,496.48 236.05,496.17 236.08,495.28 236.1,494.82 236.12,493.61 236.15,492.81 236.17,492.43 236.2,491.71 236.22,490.91 236.24,490.34 236.26,489.47 236.28,488.91 236.3,488.28 236.32,487.43 236.34,486.63 236.36,485.97 236.38,486.08 236.4,484.54 236.42,483.76 236.44,483.01 236.45,482.43 236.47,481.81 236.49,480.62 236.51,479.61 236.52,479.69 236.54,478.3 236.56,478.23 236.58,477.46 236.59,477.09 236.61,476.53 236.63,475.34 236.65,474.28 236.66,473.32 236.68,472.71 236.7,472.26 236.71,470.77 236.73,470.77 236.75,469.99 236.77,469.47 236.78,468.37 236.8,467.76 236.82,466.71 236.84,466.04 236.85,464.82 236.87,464.71 236.89,464.45 236.91,463.19 236.93,462.49 236.95,461.25 236.97,461.32 236.99,459.78 237.01,459.55 237.03,458.53 237.05,457.38 237.07,457.3 237.09,456.17 237.11,455.44 237.13,454.76 237.15,453.81 237.18,452.91 237.2,452.42 237.22,451.33 237.25,450.72 237.27,449.68 237.3,448.61 237.32,448.11 237.35,447.39 237.37,446.79 237.4,446.41 237.42,444.7 237.45,444.62 237.48,443.09 237.5,442.78 237.53,442.25 237.55,440.91 237.58,440.33 237.61,440.3 237.64,439.54 237.66,438.74 237.69,437.77 237.72,438.06 237.75,436.51 237.78,435.52 237.81,435.67 237.84,434.55 237.87,433.46 237.9,433.25 237.93,432.14 237.96,431.56 237.99,430.66 238.02,429.46 238.05,429.4 238.08,428.36 238.11,427.19 238.15,426.52 238.18,426.36 238.21,425.13 238.24,424.51 238.28,423.96 238.31,423.01 238.34,421.67 238.38,421.66 238.41,421 238.44,420.21 238.48,419.7 238.51,418.5 238.54,417.88 238.58,417.39 238.61,415.97 238.65,415.91 238.68,415.15 238.71,414.05 238.75,413.65 238.78,412.54 238.82,411.17 238.85,411.11 238.89,410.07 238.92,409.34 238.95,408.49 238.99,408.15 239.02,407.11 239.06,405.91 239.09,405.57 239.13,404.9 239.16,403.64 239.2,402.99 239.23,402.26 239.26,401.44 239.3,401.02 239.33,400.52 239.37,400.08 239.4,399.1 239.43,398.3 239.47,397.61 239.5,396.94 239.54,395.61 239.57,395.26 239.6,394.4 239.64,393.52 239.67,392.69 239.7,391.95 239.73,391.32 239.77,390.28 239.8,390.18 239.84,389.22 239.87,388.49 239.91,387.8 239.94,387.16 239.97,385.93 240.01,385.34 240.04,384.05 240.08,383.08 240.11,382.42 240.14,382.88 240.18,380.95 240.21,381 240.24,380.6 240.28,379.18 240.31,379.16 240.34,378.49 240.37,377.43 240.41,377.19 240.44,375.84 240.47,374.62 240.5,374.33 240.54,373.25 240.57,372.22 240.6,371.49 240.63,372.01 240.67,370.28 240.7,369.73 240.73,368.78 240.77,368.33 240.8,367.47 240.83,366.69 240.87,365.68 240.9,364.88 240.93,364.39 240.97,364.03 241,363.93 241.04,362.84 241.07,362.39 241.11,361.2 241.14,360.27 241.18,359.11 241.22,358.86 241.25,357.38 241.29,357.3 241.33,357.25 241.37,356.07 241.41,355.63 241.44,354.37 241.48,353.3 241.52,352.89 241.56,352.19 241.61,352.02 241.65,351.56 241.69,349.88 241.73,349.29 241.77,348.63 241.82,347.83 241.86,346.78 241.91,346.51 241.95,345.87 242,345.14 242.05,343.84 242.09,343.45 242.14,342.08 242.19,342.2 242.24,340.68 242.29,340.09 242.34,339.16 242.39,338.23 242.45,337.16 242.5,336 242.55,336.3 242.61,334.85 242.66,333.9 242.71,333.59 242.77,331.85 242.83,331.11 242.88,329.95 242.94,329.38 242.99,328.16 243.05,327.11 243.11,325.93 243.17,325.13 243.22,324.46 243.28,322.35 243.34,322.06 243.4,320.99 243.46,320.07 243.52,318.53 243.58,318.54 243.64,317.05 243.7,316.34 243.76,315.34 243.82,314.04 243.88,313.58 243.94,312.23 244,311.7 244.06,311.09 244.12,310.39 244.18,309.62 244.24,308.79 244.31,308.85 244.37,307.53 244.43,306.26 244.49,305.81 244.55,305.16 244.61,304.72 244.67,304 244.73,303.36 244.79,303.73 244.85,302.69 244.91,302.11 244.97,301.74 245.03,301.38 245.09,301.62 245.15,301.01 245.21,300.98 245.27,299.29 245.33,300.34 245.38,300.48 245.44,300.73 245.5,300.02 245.56,299.44 245.62,300.31 245.67,300.01 245.73,299.76 245.79,300.38 245.85,301.21 245.91,301.55 245.97,301.71 246.02,301.46 246.08,303.11 246.14,302.27 246.2,303.13 246.26,303.16 246.32,304.67 246.38,304.94 246.44,305.7 246.5,306.06 246.56,306.67 246.62,307.45 246.68,307.44 246.74,309.19 246.8,309.93 246.86,310.26 246.92,311.2 246.98,312.14 247.04,313.43 247.1,313.89 247.16,314.64 247.22,315.34 247.28,315.9 247.34,317.14 247.39,318.31 247.45,319.14 247.51,320.21 247.57,321.4 247.63,322.26 247.69,323.18 247.75,324.29 247.8,325.11 247.86,326.01 247.92,327.17 247.98,327.39 248.03,329.41 248.09,329.5 248.15,331.22 248.2,331.9 248.26,333.25 248.31,333.83 248.37,334.43 248.42,336.08 248.48,336.69 248.53,337.58 248.59,338.47 248.64,339.68 248.69,340.48 248.74,341.13 248.8,341.34 248.85,342.56 248.9,343.53 248.95,344.9 249,345.15 249.05,345.72 249.1,346.91 249.15,347.19 249.2,347.95 249.24,348.75 249.29,348.9 249.34,350.49 249.39,351.03 249.43,351.51 249.48,351.94 249.52,353.14 249.57,354.28 249.61,354.29 249.66,354.87 249.7,356.12 249.75,356.14 249.79,356.64 249.84,357.99 249.88,358.63 249.92,359.5 249.96,360.12 250.01,361.16 250.05,361.69 250.09,362.28 250.13,363.06 250.18,364.16 250.22,365 250.26,365.71 250.3,366.36 250.34,365.69 250.38,367.22 250.42,368.19 250.46,369.1 250.5,369.2 250.54,370.99 250.58,371.33 250.63,371.74 250.67,372.75 250.71,373.31 250.75,373.9 250.79,375.08 250.83,375.48 250.87,375.89 250.91,376.9 250.95,377.83 250.99,378.23 251.03,379.8 251.07,379.72 251.11,381.47 251.15,381.92 251.19,382.03 251.23,383.16 251.27,384.29 251.31,384.57 251.35,384.98 251.39,386.2 251.43,387.63 251.48,387.18 251.52,388.67 251.56,389.25 251.6,389.98 251.64,390.59 251.68,391.33 251.72,392.52 251.75,393.09 251.79,393.26 251.83,394.88 251.87,394.62 251.91,396.04 251.95,396.61 251.99,397.71 252.03,398.16 252.07,399.16 252.11,399.53 252.15,400.64 252.19,401.18 252.23,402.57 252.27,402.34 252.31,403.76 252.35,404.27 252.39,404.94 252.43,405.45 252.47,406.58 252.51,406.68 252.55,407.5 252.59,409 252.63,408.99 252.67,410.81 252.71,410.99 252.76,411.96 252.8,412.68 252.84,413.58 252.88,414.12 252.92,414.87 252.96,415.73 253,416.93 253.04,417.74 253.08,418.57 253.11,419.03 253.15,419.61 253.19,419.87 253.23,421.46 253.27,422.31 253.31,422.65 253.35,423.84 253.39,424.78 253.43,425.14 253.46,426.24 253.5,426.74 253.54,426.79 253.58,428 253.61,428.78 253.65,429.86 253.69,430.13 253.72,431.03 253.76,431.59 253.79,432.66 253.83,433.44 253.86,434.49 253.9,435.17 253.93,435.68 253.97,436.43 254,437.1 254.03,437.82 254.07,439.04 254.1,438.34 254.13,439.85 254.16,440.72 254.19,441.7 254.22,441.62 254.25,442.81 254.28,443.67 254.31,443.88 254.34,444.04 254.37,445.24 254.4,445.61 254.43,447.08 254.47,447.36 254.5,449.08 254.53,449.29 254.57,449.73 254.6,450.59 254.63,451.14 254.65,452.4 254.68,453.51 254.71,453.64 254.74,454.75 254.76,454.81 254.79,455.95 254.81,457.34 254.84,456.73 254.86,458.34 254.89,459 254.91,458.62 254.93,459.45 254.96,460.29 254.98,461.64 255,461.83 255.03,462.6 255.05,463.58 255.07,464.06 255.09,464.78 255.12,465.27 255.14,466.47 255.16,466.5 255.18,468.06 255.21,468.06 255.23,468.62 255.25,469.84 255.28,470.51 255.3,470.39 255.33,471.91 255.35,472.12 255.38,473.08 255.4,474.43 255.43,474.65 255.45,475.88 255.48,476.45 255.51,478.09 255.54,478.24 255.57,478.73 255.6,479.64 255.62,480.3 255.64,481.27 255.66,481.83 255.68,482.79 255.7,483.14 255.72,483.77 255.74,484.48 255.76,484.97 255.78,485.78 255.8,486.62 255.83,487.3 255.85,487.52 255.87,487.78 255.89,488.81 255.91,489.89 255.93,489.63 255.95,491.05 255.97,492.1 255.99,492.47 256.01,493.01 256.03,494.76 256.06,495.37 256.08,495.55 256.1,496.86 256.12,497.61 256.14,497.52 256.16,499.63 256.18,499.14 256.21,500.15 256.23,500.64 256.25,501.84 256.27,502.14 256.29,503.39 256.32,504.57 256.34,505.07 256.36,505.7 256.38,507.14 256.4,507.09 256.43,508.56 256.45,508.93 256.47,509.93 256.49,510.68 256.52,511.53 256.54,512.29 256.56,512.86 256.59,513.76 256.61,514.94 256.63,515.57 256.66,516.03 256.68,517.02 256.71,517.85 256.73,518.9 256.75,519.81 256.78,520.61 256.8,521.18 256.83,522.24 256.85,522.59 256.88,522.88 256.9,524.7 256.93,524.96 256.95,526.04 256.98,526.77 257,528.23 257.03,528.41 257.05,529.74 257.08,530.29 257.1,530.84 257.13,531.53 257.16,533.06 257.18,533.83 257.21,534.77 257.24,535.94 257.26,536.19 257.29,536.99 257.32,537.63 257.35,538.5 257.37,539.12 257.4,539.71 257.43,541.49 257.46,540.91 257.49,542.42 257.52,543.24 257.54,543.89 257.57,544.25 257.6,545.26 257.63,545.91 257.66,546.43 257.69,547.51 257.72,548.11 257.75,548.77 257.78,549.91 257.81,550 257.84,551.22 257.88,551.54 257.91,552.59 257.94,553.13 257.97,553.86 258,554.09 258.03,554.82 258.07,555.43 258.1,556.43 258.13,557.25 258.17,557.99 258.2,558.05 258.23,558.85 258.27,558.85 258.3,559.22 258.35,560.6 258.41,561.56 258.46,562.13 258.52,562.92 258.58,564.58 258.63,564.95 258.69,565.48 258.75,567.69 258.81,567.75 258.87,568.38 258.93,569.51 258.99,569.79 259.05,571.38 259.11,571.05 259.17,571.89 259.24,573.04 259.3,573.56 259.36,575.05 259.43,574.73 259.49,575.75 259.55,576.81 259.62,577.63 259.68,578.49 259.75,578.96 259.81,580.31 259.88,580.07 259.94,580.99 260.01,581.91 260.07,582.19 260.14,582.89 260.21,583.51 260.27,584.14 260.34,584.65 260.4,585.54 260.47,585.88 260.54,587.24 260.6,587.24 260.67,589.2 260.74,589.77 260.8,590.26 260.87,590.5 260.93,591.07 261,592.41 261.07,592.82 261.14,593.73 261.21,594.06 261.28,595.45 261.35,595.57 261.42,596.66 261.49,596.78 261.56,597.92 261.63,599.09 261.7,599.52 261.77,600.29 261.84,601.48 261.91,601.93 261.98,603.15 262.05,602.63 262.12,604.42 262.19,605.15 262.26,605.18 262.34,606.01 262.41,607.51 262.48,607.57 262.56,608.46 262.63,609.63 262.71,610.03 262.78,611.04 262.86,611.3 262.94,612.43 263.02,613.42 263.1,613.88 263.18,613.71 263.26,615.41 263.35,615.91 263.43,616.28 263.52,617.78 263.61,617.38 263.7,619.33 263.8,619.23 263.9,620.77 264,620.97 264.1,621.27 264.2,622.52 264.3,623.35 264.4,624.16 264.5,625.08 264.6,625.13 264.7,626.34 264.81,627.15 264.91,627.52 265.02,628.01 265.13,628.72 265.24,630.02 265.35,630.75 265.47,630.9 265.59,631.43 265.71,633.03 265.84,632.77 265.97,634.07 266.1,634.44 266.24,634.82 266.38,636.18 266.53,636.78 266.68,638.06 266.84,639.06 267,638.92 267.17,640.06 267.34,640.79 267.51,640.97 267.69,641.59 267.86,643.19 268.05,643.25 268.23,644.11 268.42,644.76 268.61,645.57 268.81,646.15 269,647.37 269.21,648.28 269.41,648.46 269.62,648.84 269.83,650.07 270.05,650.26 270.27,651.27 270.5,652.63 270.73,653.72 270.96,653.73 271.2,653.91 271.44,655.22 271.69,654.83 271.94,656.01 272.2,657.41 272.46,657.76 272.73,657.62 273,658.1 273.35,659.7 273.71,660.1 274.07,660.6 274.44,661.63 274.81,661.94 275.19,662.12 275.57,663.7 275.97,663.81 276.37,664.29 276.78,664.76 277.21,665.88 277.64,666.08 278.09,667.12 278.54,667.35 279.02,668.34 279.5,668.34 280,668.75 280.53,668.81 281.08,669.61 281.64,670.73 282.21,672.02 282.79,670.98 283.39,671.5 283.99,672.41 284.61,672.88 285.24,672.88 285.89,673.53 286.54,673.32 287.21,674.13 287.89,674.89 288.58,675.46 289.28,675.14 290,675.39 290.62,675.86 291.24,676.3 291.86,676.27 292.49,676.01 293.12,676.55 293.76,676.91 294.4,676.45 295.06,676.35 295.72,677.1 296.4,677.14 297.09,677.44 297.79,677.21 298.51,677.03 299.25,677.17 300,677.03 300.78,677.12 301.57,677.32 302.39,677.41 303.24,678.03 304.1,677.28 305,677.77 305.54,677.62 306.09,678.38 306.66,677.99 307.22,677.81 307.8,678.26 308.39,678.03 308.98,677.87 309.58,678.59 310.19,678.33 310.8,678.71 311.43,678.53 312.06,678.42 312.7,678.22 313.35,677.81 314,678.45 314.66,678.24 315.33,678.46 316,678.24 316.68,678.01 317.37,677.91 318.06,678.51 318.77,678.72 319.47,678.18 320.19,678.44 320.9,678.76 321.63,677.99 322.36,678.17 323.1,677.9 323.84,678.7 324.59,678.38 325.34,678.12 326.1,677.7 326.87,678.21 327.64,678.62 328.41,678.17 329.19,678.12 329.98,678.48 330.77,677.83 331.56,678.27 332.36,678.45 333.16,677.97 333.97,677.94 334.78,678.31 335.6,678.19 336.42,678.13 337.24,678.28 338.07,678.28 338.9,677.88 339.74,677.96 340.58,678.35 341.42,678.58 342.26,678.65 343.11,677.89 343.96,678.56 344.82,678.44 345.67,678.17 346.53,678.35 347.4,678.47 348.26,678.8 349.13,677.82 350,678.4 350.61,678.14 351.23,678.12 351.86,678.6 352.49,678.48 353.12,677.85 353.75,678.11 354.39,678.29 355.04,677.72 355.68,678.51 356.34,678.19 356.99,678.27 357.65,678.34 358.31,678.85 358.98,678.24 359.65,678.1 360.32,678.83 361,678.06 361.68,678.05 362.36,677.75 363.05,678.61 363.74,678.33 364.44,678.4 365.13,678.3 365.83,678.2 366.54,677.97 367.24,677.98 367.95,678.4 368.66,678.29 369.38,678.82 370.1,677.99 370.82,678.09 371.54,677.9 372.27,678.73 372.99,677.83 373.73,678.53 374.46,678.76 375.2,678.21 375.93,678.51 376.68,677.53 377.42,678.13 378.16,677.69 378.91,678.33 379.66,678.27 380.41,678 381.17,678.59 381.92,678.39 382.68,678.09 383.44,678.09 384.2,677.76 384.97,678.21 385.73,679.01 386.5,678.03 387.27,678.42 388.04,678.08 388.81,678.55 389.58,678.43 390.35,678.19 391.13,677.66 391.91,678.1 392.69,678.69 393.47,678.19 394.25,678.49 395.03,678.11 395.81,677.63 396.59,678.42 397.38,678.39 398.16,678.08 398.95,678.15 399.74,678.38 400.53,678.07 401.32,678.4 402.11,678.21 402.9,677.46 403.69,678.23 404.48,678.07 405.27,677.99 406.06,678.42 406.85,678.11 407.64,678.47 408.44,678.66 409.23,678.33 410.02,677.74 410.82,678.03 411.61,678.6 412.4,678.19 413.2,678 413.99,678.25 414.78,678.45 415.57,678.37 416.37,678.5 417.16,678 417.95,678.19 418.74,678.19 419.53,678.27 420.32,677.56 421.11,678.2 421.9,677.82 422.69,678.76 423.47,678.82 424.26,678.86 425.04,678.56 425.83,678.11 426.61,678.61 427.39,678.21 428.18,678.49 428.96,677.97 429.74,678.08 430.51,678.45 431.29,678.9 432.07,678.28 432.84,679.07 433.61,679.24 434.38,677.84 435.15,678.28 435.92,677.96 436.69,678.24 437.45,678.1 438.21,678.27 438.97,678.62 439.73,678.62 440.49,678.38 441.25,678.29 442,678.33 442.75,678.34 443.5,678.49" fill="none" stroke="#741010" stroke-width="1.6" stroke-linejoin="round" />
<path d="M45.1,655.5 45.78,655.43 46.46,654.56 47.13,655.06 47.81,655.15 48.49,654.38 49.17,653.59 49.85,654.32 50.52,653.51 51.2,652.35 51.88,653.08 52.56,653.13 53.24,652.82 53.91,652.88 54.59,652.43 55.27,652.02 55.95,651.05 56.62,651.1 57.3,651.3 57.97,651.22 58.65,650.37 59.33,650.25 60,650.36 60.66,649.27 61.32,648.99 61.98,649.32 62.64,649.21 63.3,648.69 63.96,647.78 64.62,648.31 65.28,647.56 65.94,647.96 66.59,647.41 67.25,647.25 67.91,647.09 68.57,646.4 69.22,646.57 69.88,646.41 70.54,645.82 71.19,645.84 71.84,644.85 72.5,645.08 73.15,644.54 73.8,643.79 74.45,643.79 75.1,643.31 75.76,642.97 76.42,642.86 77.08,642.86 77.73,642.04 78.39,641.84 79.04,640.94 79.7,641.14 80.35,641.14 81,640.66 81.65,640.19 82.3,639.48 82.95,638.95 83.6,638.89 84.25,638.09 84.9,637.76 85.55,638.14 86.2,637.12 86.85,637.69 87.5,636.2 88.15,636.47 88.8,635.54 89.45,635.63 90.1,634.84 90.73,634.84 91.36,634.41 91.99,633.93 92.62,633.88 93.25,633.85 93.87,632.73 94.5,632.86 95.13,632.19 95.76,631.76 96.38,632.14 97.01,630.24 97.64,630.37 98.26,629.59 98.89,629.72 99.52,629.37 100.15,630.39 100.78,628.81 101.41,628.94 102.04,628.4 102.67,627.43 103.3,627.39 103.93,627.45 104.57,626.59 105.2,626.27 105.87,626.03 106.54,625 107.22,624.91 107.89,624.99 108.57,624.75 109.26,623.93 109.94,623.83 110.62,623.6 111.31,623.3 111.99,623.3 112.67,622.8 113.35,622.54 114.03,621.7 114.71,621.53 115.39,621.72 116.06,620.77 116.73,621.12 117.39,620.5 118.05,620.14 118.71,620.35 119.36,619.58 120,619.2 120.66,618.93 121.31,618.84 121.96,619.43 122.6,617.4 123.24,617.78 123.87,617.35 124.5,617.41 125.13,616.59 125.75,615.51 126.37,616.47 126.99,615.27 127.61,615.28 128.23,614.47 128.85,614.22 129.47,614.08 130.09,614.21 130.71,613.86 131.34,613.03 131.97,613.09 132.6,612.46 133.25,612.31 133.9,612 134.56,611.84 135.22,611.09 135.88,610.94 136.54,610.75 137.2,610.39 137.87,609.77 138.53,610.34 139.19,609.28 139.85,609.41 140.51,608.92 141.16,608.99 141.81,607.53 142.46,608.73 143.1,607.67 143.74,607.06 144.37,607.28 145,607.78 145.74,606.89 146.46,606.02 147.18,606.04 147.89,606.42 148.59,605.24 149.29,605.44 149.99,605.19 150.69,605.83 151.39,604.77 152.1,605.11 152.81,604.21 153.53,603.95 154.26,604.36 155,604.01 155.68,602.97 156.39,603.57 157.11,603.32 157.85,602.63 158.6,602.67 159.35,602.42 160.11,601.9 160.87,601.61 161.62,601.33 162.36,601.24 163.09,600.65 163.81,600.89 164.5,600.21 165.17,600.6 165.81,600.41 166.42,599.99 167,600.58 167.82,600.92 168.57,600.72 169.28,599.84 169.96,600.86 170.62,600.64 171.3,600.74 172,600.78 172.59,601.22 173.18,601.97 173.76,601.99 174.35,602 174.94,602.28 175.54,602.75 176.14,603.5 176.75,604.34 177.37,603.73 178,604.49 178.58,604.71 179.16,604.96 179.76,605.75 180.36,606.2 180.97,605.92 181.58,606.47 182.2,607.65 182.82,607.75 183.45,608.22 184.08,608.25 184.72,608.67 185.36,609.31 186,609.32 186.64,609.43 187.29,610.15 187.95,610.81 188.62,610.48 189.29,611.54 189.96,611.74 190.63,611.5 191.31,612.07 191.98,612.3 192.64,612.73 193.31,612.89 193.96,612.3 194.6,612.32 195.29,613.11 195.98,612.68 196.67,612.61 197.35,612.36 198.02,612.51 198.69,611.26 199.36,611.72 200.02,610.72 200.68,610.91 201.34,610.78 202,609.51 202.63,609.82 203.27,609.26 203.91,608.93 204.55,608.7 205.19,607.97 205.82,607.64 206.45,607.82 207.06,607.51 207.65,606.62 208.23,605.92 208.78,606.81 209.3,605.97 209.83,605.25 210.32,604.29 210.79,603.96 211.24,603.74 211.67,602.81 212.09,603.18 212.51,602.15 212.93,601.7 213.36,600.67 213.8,600.17 214.24,599.67 214.66,599.46 215.08,598.68 215.5,598.07 215.92,597.67 216.35,597.04 216.78,596.88 217.23,595.73 217.7,594.91 218.19,594.75 218.7,594.79 219.26,593.66 219.86,593.47 220.47,592.96 221.1,592.88 221.75,592.51 222.4,591.84 223.06,591.75 223.71,591.87 224.36,591.65 225,591.31 225.69,591.01 226.4,590.38 227.13,590.17 227.86,590.42 228.57,589.5 229.26,589.67 229.9,588.78 230.49,588.96 231,588.45 231.43,587.8 231.8,587.88 232.12,586.85 232.39,586.35 232.64,585.73 232.86,584.88 233.07,584.92 233.28,583.54 233.5,583.06 233.69,581.93 233.86,581.6 234.02,581.03 234.17,580.41 234.31,579.67 234.45,579.26 234.58,579.07 234.7,577.78 234.82,577.05 234.94,576.19 235.06,576.4 235.18,575.23 235.3,573.98 235.37,573.49 235.44,572.46 235.51,572.08 235.57,571.63 235.64,571 235.7,570.06 235.76,569.47 235.83,569.28 235.89,568.57 235.95,567.09 236,567.17 236.06,566.9 236.12,565.55 236.18,565.16 236.23,563.87 236.28,563.93 236.34,562.53 236.39,561.75 236.44,561.32 236.49,561.48 236.54,559.69 236.59,558.69 236.64,558.5 236.69,557.62 236.74,557.31 236.79,555.5 236.83,554.58 236.88,554.19 236.92,553.6 236.97,552.76 237.01,552.17 237.06,550.43 237.1,549.81 237.15,549.19 237.19,548.66 237.23,547.67 237.27,546.49 237.32,545.4 237.36,545.18 237.4,544.32 237.43,544.31 237.46,542.7 237.48,542.7 237.51,541.09 237.53,540.67 237.56,539.98 237.58,539.39 237.61,538.58 237.63,538.02 237.65,537.51 237.67,536.68 237.7,536.37 237.72,535.41 237.74,534.73 237.76,534.52 237.78,533.4 237.8,532.62 237.81,531.82 237.83,531.11 237.85,530.54 237.87,529.32 237.89,529.24 237.9,528.62 237.92,527.72 237.93,526.38 237.95,525.24 237.97,524.86 237.98,524.28 238,523.73 238.01,522.6 238.03,521.77 238.04,521.6 238.05,520.05 238.07,519.85 238.08,519 238.1,517.43 238.11,517.18 238.12,516.09 238.14,515.15 238.15,514.04 238.16,513.33 238.17,513.2 238.19,512.11 238.2,511.53 238.21,510.26 238.23,509.71 238.24,508.92 238.25,507.67 238.26,506.83 238.28,506.74 238.29,505.84 238.3,504.66 238.32,504.15 238.33,503.61 238.34,503.21 238.36,501.48 238.37,501.21 238.38,500.93 238.4,499.44 238.41,499.13 238.43,496.96 238.44,497.57 238.46,496.29 238.47,494.88 238.49,495.03 238.5,494.36 238.52,493.66 238.53,492.9 238.55,491.73 238.57,490.74 238.59,490.1 238.6,489.52 238.62,488.94 238.64,487.92 238.66,487.39 238.68,486.96 238.7,486.07 238.72,486.06 238.74,485.32 238.76,483.51 238.78,483.04 238.81,482.12 238.83,481.51 238.85,481.45 238.88,480.28 238.9,479.63 238.93,479.04 238.97,478.57 239,477.33 239.04,476.5 239.08,476.11 239.11,475.14 239.15,474.32 239.19,473.68 239.23,472.2 239.26,471.82 239.3,470.74 239.34,470.53 239.38,469.67 239.42,468.26 239.46,468.31 239.5,466.68 239.54,466.72 239.58,465.64 239.62,464.52 239.67,463.68 239.71,463.22 239.75,462.58 239.79,461.62 239.84,461.33 239.88,459.93 239.92,459.69 239.96,458.97 240.01,457.62 240.05,457.66 240.09,456.41 240.14,455.29 240.18,455.24 240.23,454.68 240.27,454.38 240.31,453.21 240.36,453.2 240.4,452.5 240.45,451.71 240.49,451.11 240.54,450.1 240.58,449.12 240.62,448.86 240.67,448.31 240.71,447.39 240.76,446.56 240.8,445.45 240.85,445.41 240.91,444.49 240.96,443.11 241.01,442.8 241.06,442.21 241.11,441.13 241.16,440.65 241.22,439.86 241.27,438.31 241.32,437.94 241.37,437.44 241.42,436.82 241.47,436.23 241.52,434.33 241.58,434.23 241.63,433.76 241.68,433.2 241.74,432.63 241.79,431.01 241.85,430.49 241.91,429.56 241.97,429.51 242.03,428.08 242.09,428.27 242.15,427.52 242.22,426.7 242.29,425.13 242.36,425.01 242.43,424.87 242.5,423.5 242.6,423.04 242.71,422.17 242.81,421.56 242.92,420.38 243.03,419.41 243.15,418.2 243.26,417.42 243.38,416.47 243.5,415.92 243.62,414.83 243.75,414.54 243.87,412.99 244,413.5 244.13,412.65 244.26,412.86 244.4,412.42 244.56,412.79 244.73,413.31 244.91,413.08 245.09,413.92 245.27,414.57 245.45,415.54 245.64,415.81 245.82,417.26 246,418.19 246.17,418.96 246.34,420.07 246.5,420.46 246.62,422.13 246.74,422.48 246.86,423.67 246.97,423.43 247.09,424.06 247.2,425.31 247.3,425.38 247.41,426.8 247.51,427.25 247.62,428.15 247.72,429.12 247.82,429.82 247.92,431.22 248.02,431.55 248.11,431.64 248.21,433.17 248.31,433.1 248.4,434.32 248.5,434.56 248.61,435.46 248.72,436.93 248.83,436.98 248.93,437.63 249.04,438.33 249.14,439.08 249.25,440.35 249.35,440.12 249.45,440.78 249.55,442.12 249.65,442.1 249.74,443.29 249.83,444.61 249.92,445.08 250,445.82 250.05,446.28 250.09,446.77 250.13,447.46 250.17,448.31 250.21,449.3 250.25,449.83 250.28,449.93 250.32,450.53 250.35,451.68 250.38,451.49 250.41,452.65 250.44,453.39 250.47,453.83 250.49,454.59 250.52,455.78 250.54,455.83 250.57,456.83 250.59,457.68 250.61,458.7 250.64,458.96 250.66,460.59 250.68,460.89 250.7,461.69 250.72,462.44 250.74,463.13 250.77,463.82 250.79,465.36 250.81,465.84 250.83,466.53 250.85,467.72 250.87,467.94 250.9,469.21 250.92,469.81 250.94,470.3 250.97,471.67 250.99,471.69 251.02,473.23 251.04,473.5 251.07,474.73 251.1,475.86 251.13,476.36 251.16,476.73 251.19,477.7 251.23,478.34 251.26,478.82 251.3,479.59 251.34,480.73 251.38,481.64 251.42,481.59 251.46,482.92 251.5,483.86 251.54,484.47 251.58,484.83 251.62,486.28 251.66,486.25 251.71,487.64 251.75,488.72 251.8,488.21 251.84,489.75 251.89,490.52 251.93,491.24 251.98,491.65 252.03,492.56 252.07,492.94 252.12,494.21 252.17,495.1 252.22,495.44 252.26,496.1 252.31,497.01 252.36,497.92 252.41,498.69 252.46,499.39 252.51,500.19 252.56,500.47 252.61,500.73 252.66,502.63 252.71,503.65 252.76,503.42 252.81,504.43 252.86,505.5 252.91,506.47 252.96,507.11 253.01,508.06 253.06,508.35 253.11,509.25 253.16,509.98 253.21,510.43 253.26,511.73 253.31,512.26 253.35,513.12 253.4,513.38 253.45,514.59 253.5,514.6 253.55,515.86 253.6,515.58 253.65,516.88 253.7,518.22 253.75,518.56 253.8,519.52 253.85,519.65 253.9,521.48 253.95,521.89 254,522.42 254.05,523.31 254.11,524.02 254.16,525.13 254.21,525.45 254.26,525.6 254.31,526.75 254.36,528.01 254.41,528.5 254.46,528.89 254.51,529.98 254.57,530.54 254.62,531.44 254.67,531.42 254.72,532.38 254.77,533.65 254.82,534.07 254.87,535 254.93,536.28 254.98,536.24 255.03,537.16 255.08,537.62 255.13,538.32 255.18,539.25 255.23,539.51 255.29,540.02 255.34,541.94 255.39,542.18 255.44,543.34 255.49,543.73 255.54,544.48 255.6,545.41 255.65,546.17 255.7,546.25 255.75,547.81 255.8,547.8 255.85,548.93 255.9,550.46 255.95,550.35 256,551.62 256.05,551.67 256.1,552.73 256.15,553.27 256.2,554.13 256.25,554.43 256.3,555.14 256.34,556.3 256.39,556.39 256.44,557.37 256.49,558.61 256.54,558.92 256.59,559.56 256.64,560.22 256.69,561.39 256.74,561.95 256.79,562.87 256.84,563.49 256.89,564.93 256.94,564.88 256.99,565.1 257.04,566.55 257.09,567.26 257.14,568.05 257.19,568.19 257.24,569.87 257.29,570.22 257.34,570.96 257.4,571.18 257.45,572.63 257.5,573.19 257.56,574.42 257.61,574.56 257.66,575.03 257.72,576.25 257.77,576.64 257.83,577.85 257.89,578.09 257.94,579.17 258,579.89 258.05,580.68 258.11,581.24 258.16,581.87 258.21,582.86 258.26,583.42 258.31,584.41 258.36,585.01 258.41,585.08 258.46,586.58 258.51,587.82 258.56,588.2 258.61,589.06 258.65,589.77 258.7,590.21 258.75,590.68 258.8,592.16 258.85,593.01 258.9,593.6 258.95,594.32 259,595.07 259.05,595.69 259.1,596.55 259.15,597.22 259.2,598.08 259.25,598.41 259.31,599.27 259.36,600.43 259.42,600.88 259.48,600.93 259.54,602.54 259.6,602.47 259.66,604.63 259.72,604.96 259.78,605.69 259.85,605.97 259.92,606.54 259.99,607.58 260.06,608.38 260.13,608.83 260.21,609.85 260.29,610.74 260.37,611.41 260.45,611.56 260.54,611.87 260.62,613.29 260.71,613.74 260.81,614.79 260.9,615.86 261,616.52 261.12,616.87 261.25,617.93 261.38,618.9 261.51,619.14 261.64,619.98 261.77,620.94 261.91,621.39 262.05,621.99 262.19,622.64 262.34,623.63 262.48,624.16 262.63,625.36 262.78,625.7 262.94,627.02 263.09,627.65 263.25,627.54 263.41,629.03 263.57,629.24 263.74,630.54 263.91,630.96 264.08,631.47 264.25,632.41 264.42,632.7 264.6,633.7 264.78,634.42 264.96,634.95 265.15,635.83 265.33,636.07 265.52,637.3 265.71,637.42 265.91,638.75 266.1,639.41 266.3,640.21 266.5,640.5 266.69,642.43 266.88,642.07 267.08,642.94 267.27,643.39 267.47,644.87 267.66,644.99 267.85,646.24 268.05,646.36 268.25,647.54 268.45,648.08 268.65,649.28 268.86,649.64 269.06,650.21 269.27,651.41 269.49,651.62 269.7,652.45 269.93,653.78 270.15,653.64 270.38,655.25 270.62,655.59 270.86,656.13 271.11,657.22 271.36,658.05 271.62,658.33 271.89,659.13 272.16,660.11 272.44,660.74 272.73,661.1 273.03,661.47 273.33,662.01 273.65,662.7 273.97,663.67 274.3,664.18 274.74,664.76 275.19,665.77 275.65,665.84 276.12,666.44 276.6,667.04 277.09,668.38 277.59,667.63 278.1,668.96 278.62,669.54 279.15,669.92 279.69,671.17 280.24,671.26 280.8,671.58 281.37,671.47 281.95,672.35 282.54,672.46 283.14,672.98 283.75,673.39 284.37,673.51 285,674.2 285.62,674.82 286.25,674.88 286.88,674.84 287.52,674.34 288.17,675.52 288.83,675.68 289.5,675.4 290.17,675.43 290.86,675.92 291.56,675.53 292.27,676.14 292.98,675.6 293.71,675.72 294.46,676.09 295.21,675.66 295.97,676.19 296.75,676.42 297.54,675.87 298.35,676.66 299.17,676.24 300,676.68 300.61,676.62 301.23,676.45 301.86,676.48 302.49,676.13 303.14,676.5 303.79,676.52 304.46,677.35 305.13,677.18 305.81,676.42 306.49,677.16 307.19,677 307.89,676.83 308.59,677.13 309.31,677.25 310.03,676.82 310.75,676.94 311.48,677.09 312.22,676.73 312.96,677.12 313.7,677.04 314.46,676.85 315.21,676.8 315.97,677.18 316.73,677.37 317.5,677.2 318.27,676.81 319.04,677.33 319.81,677.14 320.59,677.28 321.37,677.46 322.15,676.78 322.93,677.02 323.71,676.86 324.5,676.77 325.29,677.7 326.07,677.35 326.86,676.45 327.64,677.16 328.43,676.83 329.22,677.38 330,677.03 330.69,676.93 331.39,677.03 332.09,677.09 332.8,676.96 333.51,676.86 334.22,676.87 334.95,677.06 335.67,676.5 336.4,676.85 337.14,676.78 337.87,676.64 338.61,677.01 339.36,676.32 340.11,676.59 340.86,676.4 341.61,676.82 342.36,676.45 343.12,676.59 343.88,676.66 344.64,675.98 345.4,676.61 346.17,676.18 346.93,676.31 347.7,676.31 348.47,676.58 349.23,676.51 350,676.81 350.77,676.25 351.53,676 352.3,675.95 353.07,676.29 353.83,676.57 354.6,676.12 355.36,675.78 356.12,676.02 356.88,675.98 357.64,675.88 358.39,675.59 359.14,674.97 359.89,675.59 360.64,676.08 361.39,675.78 362.13,674.96 362.87,675.66 363.6,675.03 364.33,676.26 365.05,675.65 365.78,675.18 366.49,675.81 367.2,675.28 367.91,675.71 368.61,675.52 369.31,675.12 370,675.72 370.78,675.06 371.55,675.93 372.32,675.51 373.07,675.15 373.82,674.9 374.57,676.02 375.31,675.97 376.04,675.09 376.77,676.05 377.49,675.57 378.21,675.45 378.93,675.51 379.64,675.46 380.35,676.03 381.06,675.62 381.76,674.99 382.47,676.29 383.17,675.91 383.87,675.28 384.57,675.54 385.27,675.38 385.98,675.71 386.68,675.85 387.38,675.82 388.09,675.57 388.8,675.52 389.51,676.09 390.23,675.8 390.94,676.59 391.67,675.62 392.39,676.17 393.13,675.95 393.86,675.72 394.6,676.44 395.35,676.06 396.11,675.76 396.87,675.98 397.64,676.44 398.42,675.74 399.21,676.62 400,676.42 400.67,676.13 401.35,676.7 402.03,676.85 402.71,676.5 403.4,676.39 404.09,676.97 404.79,676.89 405.49,676.13 406.2,676.4 406.9,676.43 407.61,676.4 408.33,676.07 409.05,676.9 409.77,676.66 410.49,676.7 411.22,677.17 411.95,676.56 412.68,676.77 413.41,676.91 414.15,676.72 414.89,676.86 415.63,677.19 416.37,676.98 417.12,677.46 417.87,676.82 418.62,677.17 419.37,676.68 420.12,677.15 420.87,677 421.62,677.72 422.38,677.56 423.14,677.52 423.89,678.01 424.65,677.92 425.41,677.72 426.17,677.3 426.93,677.1 427.69,677.61 428.45,677.54 429.21,677.49 429.97,677.65 430.73,677.25 431.49,678.32 432.25,677.5 433.01,677.7 433.76,678.15 434.52,677.47 435.28,678.35 436.03,678.4 436.79,678.03 437.54,677.82 438.29,678.06 439.04,677.65 439.79,678.76 440.53,678.36 441.28,678.14 442.02,678.12 442.76,678.65 443.5,679" fill="none" stroke="#8a34ec" stroke-width="1.5" stroke-linejoin="round" />
<path d="M45.1,663.32 45.75,663.6 46.4,662.29 47.04,664.05 47.69,663.3 48.34,664.78 48.98,662.45 49.63,661.87 50.28,661.33 50.93,662.35 51.57,659.93 52.22,661.65 52.87,660.92 53.52,659.97 54.16,659.32 54.81,660.68 55.46,661.06 56.11,658.78 56.76,659.3 57.4,660.03 58.05,657.7 58.7,657.71 59.35,656.57 60,657.17 60.65,656.92 61.31,656.31 61.97,655.72 62.62,654.69 63.28,654.58 63.94,654.57 64.59,655.64 65.25,654.34 65.91,653.73 66.56,654.7 67.22,654.31 67.88,652.86 68.54,652.65 69.19,653.44 69.85,652.87 70.51,651.52 71.16,652.12 71.82,651.57 72.48,652.23 73.13,650.22 73.79,651.4 74.44,650.69 75.1,649.14 75.75,650.58 76.41,650.14 77.06,647.91 77.72,650.43 78.37,647.43 79.02,647.31 79.68,647.5 80.33,648.12 80.98,647.64 81.64,646.74 82.29,647.68 82.94,646.54 83.6,647.07 84.25,647.97 84.9,645.39 85.55,642.69 86.2,644.19 86.85,643.33 87.5,644.01 88.15,643.68 88.8,642.21 89.45,641.94 90.1,642.37 90.76,642.09 91.42,639.65 92.09,642.39 92.77,641.21 93.45,640.8 94.14,640.69 94.82,639.17 95.51,639.63 96.2,640.19 96.88,639.84 97.56,638.93 98.24,637.91 98.91,637.06 99.57,638.56 100.22,637.5 100.87,636.32 101.5,634.45 102.12,635.25 102.73,634 103.32,636.45 103.9,635.23 104.46,634.12 105,634.26 105.72,636.41 106.41,634.87 107.06,632.32 107.69,633.09 108.29,631.85 108.89,631.15 109.49,632.55 110.09,634.26 110.7,633.24 111.34,631.63 112,630.97 112.61,631.21 113.22,631.67 113.85,629.2 114.48,628.56 115.12,631.59 115.77,629.89 116.42,630.78 117.07,629.3 117.73,630.12 118.38,628 119.04,628.71 119.7,629.38 120.35,628.65 121,627.09 121.69,628.04 122.37,626.4 123.06,625.47 123.75,626.95 124.44,627.49 125.13,626.76 125.82,624.65 126.51,626.31 127.2,625.92 127.9,624.69 128.6,622.68 129.3,625.6 130,625.29 130.7,624.76 131.39,622.59 132.07,622.62 132.76,624.68 133.44,624.33 134.13,623.9 134.82,623.08 135.52,623.51 136.24,622.54 136.97,622.62 137.73,622.01 138.5,622.92 139.3,622.23 139.96,623.39 140.63,623.12 141.32,621.69 142.03,624.01 142.75,621.31 143.48,622.68 144.23,623.21 144.98,623.36 145.74,620.21 146.51,623.07 147.28,623.25 148.06,623.45 148.84,620.17 149.62,621.58 150.4,622.12 151.18,621.85 151.96,623.5 152.73,621.75 153.49,623.53 154.25,623.01 155,621.29 155.7,621.81 156.42,622.4 157.14,623.03 157.88,623.98 158.62,623.08 159.36,624.23 160.1,622.17 160.85,621.02 161.59,623.66 162.33,624.57 163.07,624.04 163.8,623.67 164.53,625.17 165.24,626.75 165.95,625.14 166.64,624.8 167.32,624.92 167.98,627.68 168.63,626.09 169.25,626.9 169.86,627.67 170.44,627.76 171,626.17 171.76,628.16 172.47,628.36 173.13,628.35 173.77,629.13 174.38,628.02 174.98,628.78 175.56,628.69 176.15,630.17 176.75,629.23 177.36,630.51 178,629.52 178.6,630.72 179.21,630.84 179.82,631.41 180.43,631.99 181.05,632.07 181.66,632.41 182.28,631.11 182.9,634.33 183.52,633.13 184.15,633.82 184.77,633.63 185.38,635.6 186,634.19 186.68,635.79 187.37,636.74 188.06,637.52 188.74,637.45 189.43,637.28 190.12,635.96 190.8,638.48 191.48,638.64 192.16,638.52 192.83,638.64 193.5,638.07 194.24,637.56 194.99,638.95 195.73,639.01 196.47,636.78 197.21,638.33 197.93,637.51 198.64,637.83 199.33,637.02 200,637.51 200.68,637.14 201.33,636.71 201.96,634.35 202.57,635.97 203.18,634.9 203.78,633.43 204.39,634.63 205,632.29 205.51,633.88 206.02,634.13 206.53,631.66 207.04,632.41 207.55,631.44 208.06,631.06 208.57,628.69 209.07,629.86 209.56,628.85 210.05,628.81 210.53,627.59 211,628 211.48,626.68 211.94,626.45 212.39,626.46 212.83,624.8 213.27,624.92 213.7,623.63 214.14,623.29 214.58,621.76 215.04,622.34 215.51,622.17 216,620.45 216.51,620.69 217.03,619.83 217.57,617.94 218.12,618.72 218.68,619.08 219.24,616.97 219.8,615.33 220.36,616.61 220.92,615.38 221.47,617.17 222,614.99 222.57,614.55 223.15,613.55 223.73,613.89 224.3,612.75 224.86,612.03 225.42,612.35 225.96,611.25 226.49,612.68 227,610 227.5,610.47 227.98,609.43 228.46,608.32 228.93,610.5 229.38,606.64 229.81,609.23 230.23,606.1 230.63,606.79 231,608.03 231.26,603.6 231.51,603.68 231.75,605.44 231.97,603.79 232.18,602.48 232.38,602.25 232.57,600.72 232.75,600.96 232.93,601.44 233.09,599.05 233.25,598.77 233.41,598.97 233.56,598.93 233.71,595.93 233.86,596 234,594.54 234.15,593.74 234.28,593.25 234.41,592.35 234.52,590.69 234.63,589.78 234.74,590.2 234.84,590.27 234.93,590.53 235.03,588.28 235.12,587.87 235.21,587.86 235.3,587.16 235.4,585.61 235.5,584.84 235.6,585.68 235.67,583.14 235.74,582.4 235.81,580.79 235.89,581.97 235.96,580.72 236.03,581.99 236.11,579.35 236.18,579.69 236.25,579.12 236.33,579.07 236.4,575.76 236.48,577.59 236.55,575.51 236.62,574.69 236.7,573.78 236.77,572.97 236.84,572.27 236.91,569.77 236.99,571.52 237.06,570.37 237.13,568.71 237.2,568.72 237.27,570.02 237.33,567.55 237.4,566.09 237.47,567.14 237.53,564.15 237.6,563.92 237.66,562.76 237.72,562.24 237.78,562.29 237.84,561.35 237.9,559.39 237.95,559.25 237.99,558.76 238.04,557.65 238.08,557.3 238.12,556 238.16,555.3 238.2,555.28 238.24,553.63 238.28,554.2 238.32,552.95 238.36,551.59 238.4,551.15 238.43,550.54 238.47,550.09 238.5,549.6 238.54,548.58 238.57,547.26 238.6,548.53 238.64,547.33 238.67,545.88 238.7,545.86 238.73,544.56 238.76,543.29 238.8,542.84 238.83,544.33 238.86,542.1 238.89,541.38 238.92,539.36 238.95,539.46 238.98,540.14 239.01,537.76 239.04,537.55 239.07,536.94 239.1,535.63 239.13,535.66 239.15,533.71 239.18,533.17 239.21,531.4 239.25,533.48 239.28,530.66 239.31,529.71 239.34,530.05 239.37,527.63 239.4,527.28 239.43,525.82 239.47,525.74 239.5,524.61 239.53,524.65 239.57,523.29 239.6,522.1 239.63,521.64 239.67,521.06 239.7,519.98 239.73,520.5 239.76,519.53 239.8,518.32 239.83,516.4 239.86,517.12 239.9,514.79 239.93,515.3 239.96,514.41 240,513.08 240.03,512.09 240.06,511.43 240.1,513.04 240.13,510.24 240.16,509.51 240.2,509.73 240.23,508.48 240.26,508.24 240.3,505.47 240.33,504.8 240.37,507.85 240.4,504.13 240.43,503.13 240.47,502.73 240.5,502.66 240.53,499.98 240.57,500.48 240.6,499.43 240.64,499.26 240.67,498.04 240.7,496.66 240.74,495.59 240.77,493.46 240.8,495.66 240.84,492.78 240.87,492.94 240.9,493.98 240.94,491.43 240.97,491.58 241.01,490.12 241.04,490.18 241.07,488.87 241.11,487.68 241.14,488.58 241.17,486.47 241.21,484.84 241.24,485.02 241.27,485.08 241.3,482.97 241.34,483.94 241.37,483.26 241.4,483.78 241.44,480.74 241.47,481.23 241.5,478.58 241.54,478.81 241.59,478.42 241.63,477.84 241.67,476.61 241.72,475.75 241.76,474.49 241.8,473.82 241.84,473.67 241.89,473.09 241.93,472.37 241.97,471.9 242.01,471.29 242.05,467.94 242.09,468.3 242.14,467.86 242.18,466.71 242.22,467.44 242.26,466.47 242.31,465.02 242.35,464.52 242.39,464.82 242.44,462.75 242.48,462.11 242.52,462.51 242.57,461.48 242.61,461.67 242.66,460.14 242.71,459.86 242.75,458.14 242.8,457.21 242.87,457.1 242.93,453.87 242.99,455.54 243.05,455.04 243.1,453.31 243.16,452.13 243.23,452.39 243.29,450.62 243.37,450.81 243.46,451.27 243.56,449.56 243.67,449.45 243.8,448.95 244.07,448.94 244.38,449.55 244.7,450.19 245,451.96 245.14,450.13 245.28,451.84 245.41,453.24 245.53,452.59 245.65,453.91 245.77,454.12 245.88,455.85 245.99,456.99 246.1,458.3 246.21,458.29 246.32,458.07 246.44,459.74 246.55,460.85 246.67,462.41 246.8,460.18 246.9,462.98 247,461.73 247.11,464.57 247.22,465 247.33,465.72 247.44,466.73 247.55,466.99 247.66,466.79 247.78,468.35 247.89,469.79 248.01,469.37 248.12,470.22 248.24,469.88 248.35,472.65 248.46,471.96 248.58,472.5 248.69,473.5 248.8,473.9 248.91,475.18 249.01,477.26 249.11,477.61 249.22,478.92 249.31,479.75 249.41,478.47 249.5,480.44 249.58,481.99 249.65,483.35 249.72,480.84 249.79,481.52 249.86,483.83 249.93,483.83 249.99,483.95 250.05,485.83 250.11,485.52 250.17,484.95 250.23,487.58 250.29,488.42 250.35,489.57 250.4,490.55 250.46,490.62 250.51,490.98 250.57,491.34 250.62,491.23 250.67,493.01 250.72,494.98 250.78,495.43 250.83,497.38 250.88,496.24 250.93,495.6 250.99,498.61 251.04,499.56 251.1,498.44 251.15,498.84 251.21,501.14 251.26,502.41 251.32,501.63 251.38,503.11 251.44,503.54 251.5,504 251.55,504.54 251.6,506.45 251.65,506.68 251.7,507.09 251.74,506.09 251.79,510.51 251.84,508.87 251.89,510.25 251.94,510.07 251.99,512.06 252.03,511.13 252.08,513.2 252.13,513.66 252.18,515.31 252.22,514.28 252.27,515.37 252.32,516.44 252.37,519.15 252.42,516.8 252.46,519.04 252.51,518.95 252.56,520.5 252.61,521.52 252.66,521.82 252.71,522.65 252.76,523.4 252.81,523.4 252.86,524.46 252.91,523.97 252.96,525.83 253.01,526.23 253.06,527.42 253.12,529.03 253.17,529.48 253.22,530.32 253.28,531.63 253.33,529.4 253.39,532.58 253.44,532.96 253.5,533.67 253.55,533.41 253.61,535.78 253.67,537.08 253.73,537.75 253.79,537.58 253.85,538.99 253.91,540.02 253.97,541.59 254.04,541.87 254.1,541.73 254.17,542.49 254.23,543.35 254.3,544.2 254.36,544.25 254.41,546.02 254.47,545.45 254.53,546.04 254.59,547.73 254.65,547.63 254.71,548.61 254.77,547.75 254.83,550.93 254.89,550.95 254.95,551.57 255.02,552.8 255.08,553.31 255.14,553.26 255.21,556.32 255.27,554.95 255.33,556.91 255.4,558.39 255.47,557.03 255.53,558.39 255.6,558.36 255.67,560.72 255.73,560.29 255.8,560.39 255.87,563.23 255.94,563.65 256.01,562.86 256.08,565.4 256.14,565.32 256.21,568.25 256.29,568.16 256.36,566.98 256.43,568 256.5,568.25 256.57,569.89 256.64,570.59 256.71,571.95 256.79,572.16 256.86,571.6 256.93,572.94 257.01,575.62 257.08,576.17 257.15,575.81 257.23,576.6 257.3,577.34 257.38,578.27 257.45,577.57 257.53,580.55 257.6,579.98 257.68,581.43 257.76,579.89 257.83,583.02 257.91,584.72 257.98,582.41 258.06,586.38 258.14,586.23 258.21,585.94 258.29,585.95 258.37,589.05 258.45,589.01 258.52,590.03 258.6,590.01 258.68,590.29 258.76,592.44 258.84,591.59 258.91,593.9 258.99,592.4 259.07,593.74 259.15,593.99 259.23,597.06 259.31,595.12 259.38,596.33 259.46,598.56 259.54,598.86 259.62,601.22 259.7,601.58 259.8,601.34 259.89,602.21 259.99,600.85 260.08,602.46 260.18,603.74 260.27,604.67 260.37,604.44 260.46,605.62 260.56,606.49 260.66,608.93 260.75,609.18 260.85,609.32 260.94,610.15 261.04,611.43 261.13,611.36 261.23,612.52 261.33,612.04 261.42,614.88 261.52,615.9 261.62,616.15 261.72,617.02 261.82,617.68 261.91,619.89 262.01,619.06 262.11,618.5 262.21,619.48 262.32,621.74 262.42,622.78 262.52,623.26 262.62,624.05 262.73,624.21 262.83,623.49 262.94,624.87 263.04,624.63 263.15,626.56 263.26,626.42 263.37,628.37 263.48,628.83 263.59,627.97 263.7,630.96 263.81,631.65 263.92,630.46 264.04,632.44 264.15,633.58 264.27,633.35 264.39,634.97 264.51,635.02 264.63,636.41 264.75,636.25 264.88,636.55 265,637.74 265.18,638.81 265.36,639.17 265.54,639.38 265.71,639.88 265.89,641.02 266.08,641.62 266.26,643.05 266.44,643.76 266.62,644.28 266.81,645.07 267,645.94 267.19,647.85 267.38,648.23 267.58,647.37 267.78,648.92 267.98,648.94 268.19,649.8 268.4,650.33 268.62,650.65 268.83,650.66 269.06,650.34 269.28,653.28 269.52,654.76 269.76,653.58 270,655.42 270.29,655.37 270.58,656.68 270.88,656.45 271.18,657.67 271.49,658.48 271.8,657.22 272.11,660.16 272.44,660.53 272.76,659.17 273.1,662.54 273.43,662.58 273.78,663.41 274.13,664.15 274.49,664.05 274.86,664.03 275.23,665.11 275.61,665.63 276,668.41 276.54,668.69 277.09,667.23 277.66,667.83 278.23,668.95 278.82,669.62 279.42,668.95 280.04,669.07 280.68,671.99 281.33,671.57 282,669.62 282.65,669.72 283.3,670.79 283.97,671.92 284.64,672.4 285.33,671.8 286.04,670.83 286.78,672.57 287.54,673.02 288.32,672.59 289.14,672.26 290,673.28 290.6,672.78 291.22,671.89 291.86,672.99 292.52,671.8 293.2,673.8 293.9,673.38 294.61,672.1 295.33,673.15 296.07,674.06 296.81,671.07 297.57,672.81 298.33,674.34 299.1,671.51 299.88,672.69 300.66,671.55 301.44,672.69 302.22,670.6 303,671.23 303.78,672.12 304.56,672.66 305.33,672.8 306.09,672.78 306.85,673.35 307.6,672.89 308.31,672.85 309.03,671.27 309.75,671.91 310.46,674.75 311.18,673.85 311.9,672.49 312.63,672.31 313.35,672.42 314.07,671.08 314.79,673.04 315.52,670.87 316.24,671 316.97,672.87 317.7,668.99 318.42,671.01 319.15,669.04 319.87,669.86 320.6,670.22 321.33,669.86 322.05,670.19 322.78,669.23 323.5,669.68 324.23,668.6 324.95,669.18 325.68,668.17 326.4,669.85 327.12,668 327.84,669.64 328.55,668.53 329.27,668.5 329.98,669.68 330.68,668.59 331.39,666.68 332.1,668.67 332.8,665.52 333.51,668.19 334.21,667.46 334.92,666.43 335.63,667.61 336.34,667.13 337.05,669.05 337.77,666.75 338.49,668.73 339.21,668.11 339.94,666.21 340.68,665.9 341.41,667.69 342.16,666.27 342.91,666.43 343.66,665.95 344.43,664.99 345.2,665.64 345.88,665.03 346.58,664.44 347.28,665.45 348,667.22 348.72,666.98 349.46,665.39 350.2,665.48 350.95,665.73 351.7,666.4 352.46,665.38 353.22,664.59 353.99,664.58 354.76,665.86 355.53,667.1 356.3,664.13 357.07,662.78 357.84,665.27 358.61,664.41 359.37,664.54 360.14,665.47 360.89,664.37 361.65,663.07 362.4,662.46 363.14,664.13 363.87,663.11 364.6,664.38 365.31,662.96 366.02,663.77 366.71,662.76 367.4,663.76 368.07,663.69 368.73,664.65 369.37,665.34 370,664.01 370.82,663.47 371.62,666.08 372.39,664.76 373.14,665.11 373.87,665.24 374.59,666.16 375.29,665.92 375.99,665.79 376.68,666.05 377.36,664.78 378.04,665.18 378.73,665.82 379.42,666.17 380.11,666.28 380.82,666.71 381.54,666.61 382.27,666.35 383.03,665.41 383.8,667.73 384.47,667.59 385.15,666.35 385.83,667.66 386.52,667.64 387.22,667.42 387.93,665.76 388.64,666.38 389.36,666.98 390.08,669.02 390.81,666.84 391.54,667.35 392.27,666.7 393.01,667.3 393.75,668.08 394.49,665.95 395.23,665.3 395.97,668.47 396.71,667.94 397.46,667.4 398.2,668.84 398.94,668.88 399.68,666.15 400.41,667.92 401.15,669.1 401.87,667.54 402.6,667.89 403.32,669.07 404.04,668.01 404.76,667.22 405.48,667.72 406.2,667.19 406.91,668.92 407.63,666.91 408.34,669.41 409.06,667.07 409.77,668.63 410.49,667.31 411.2,668.38 411.92,669.63 412.64,669.75 413.35,669.95 414.07,668.73 414.8,668.94 415.52,669.08 416.24,669.45 416.97,668.55 417.7,669.92 418.44,669.24 419.17,669.99 419.91,669.4 420.65,669.59 421.4,668.32 422.12,668.6 422.84,667.8 423.57,668.69 424.3,668.78 425.04,669.67 425.77,667.76 426.51,671.78 427.25,668.73 427.99,669.94 428.74,669.71 429.48,666.47 430.23,668.46 430.98,669.98 431.73,666.44 432.48,669.27 433.23,667.71 433.99,668.07 434.74,668.64 435.49,666.72 436.25,668.53 437,667.72 437.75,667.59 438.51,668.85 439.26,671.33 440.01,668.44 440.76,668.59 441.51,668 442.25,667.36 443,668.21" fill="none" stroke="#1c7c1c" stroke-width="1.6" stroke-linejoin="round" />
<path d="M45.1,648.02 45.75,647.19 46.4,647.07 47.05,646.32 47.7,646.93 48.35,645.12 49,645.55 49.66,645.18 50.31,644.73 50.96,643.9 51.61,643.54 52.26,643.5 52.92,643.27 53.57,642.45 54.22,642.14 54.86,642.34 55.51,642.14 56.16,641.2 56.8,640.77 57.45,640.37 58.09,641.1 58.73,640 59.36,639.39 60,639.34 60.59,639.39 61.19,638.58 61.78,637.26 62.37,637.3 62.96,636.76 63.55,636.35 64.14,635.61 64.72,635.46 65.31,634.77 65.9,634.82 66.48,634.26 67.06,633.29 67.64,632.72 68.22,632.68 68.8,632.61 69.38,632.08 69.96,631.4 70.53,629.79 71.11,630.29 71.68,629.71 72.26,629.36 72.83,628.56 73.4,628.34 73.97,627.76 74.53,628.44 75.1,627.23 75.63,626.44 76.16,626.01 76.69,625.51 77.22,625.13 77.74,624.43 78.27,624.07 78.79,623.94 79.32,623.38 79.84,622.69 80.36,622.54 80.88,621.65 81.4,620.71 81.92,619.93 82.43,619.78 82.95,619.49 83.47,619.13 83.98,618.84 84.49,617.73 85.01,617.12 85.52,617.15 86.03,616.75 86.54,615.64 87.05,615.38 87.56,615.21 88.07,614.29 88.58,613.62 89.09,612.36 89.59,613 90.1,612.21 90.58,611.5 91.06,610.76 91.54,609.95 92.02,609.81 92.5,609.26 92.98,609.14 93.45,607.78 93.93,608.15 94.4,607.1 94.88,606.95 95.35,605.63 95.82,605.53 96.3,605.27 96.77,604.31 97.24,603.19 97.71,603.02 98.18,602.75 98.65,601.5 99.12,600.91 99.59,600.92 100.05,599.93 100.52,599.93 100.99,598.71 101.46,597.9 101.93,597.7 102.39,597.92 102.86,596.52 103.33,596.25 103.8,595.77 104.26,594.78 104.73,594.93 105.2,594.05 105.67,593.58 106.13,592.28 106.59,591.7 107.06,590.79 107.52,591.13 107.98,590.56 108.44,590.35 108.9,590.06 109.35,588.9 109.81,588.34 110.27,588.04 110.73,587.87 111.18,586.49 111.64,586.45 112.1,585.59 112.56,585 113.02,584.85 113.47,583.73 113.93,583.07 114.39,583.12 114.85,582.32 115.32,581.67 115.78,581.15 116.24,580.81 116.71,579.93 117.17,579.76 117.64,579.06 118.11,578.85 118.58,578.2 119.05,577.47 119.52,576.51 120,576.03 120.44,575.23 120.88,575.88 121.33,574.25 121.77,573.96 122.22,573.68 122.67,572.16 123.12,571.78 123.57,571.36 124.02,570.58 124.47,569.91 124.93,569.6 125.38,569.65 125.84,568.87 126.29,568.05 126.75,567.46 127.21,566.29 127.66,566.53 128.12,565.85 128.58,564.73 129.04,564.59 129.5,563.86 129.96,563.16 130.42,562.4 130.88,561.92 131.34,561.23 131.8,561.13 132.26,560.51 132.72,559.9 133.18,559.13 133.64,558.46 134.1,558.72 134.56,556.77 135.02,557.25 135.47,556.36 135.93,555.67 136.39,554.88 136.84,554.4 137.3,553.47 137.76,552.81 138.22,552.66 138.69,551.52 139.15,551.79 139.62,551.28 140.09,549.08 140.57,549.13 141.04,549.15 141.52,548.52 141.99,547.86 142.47,547.35 142.95,546.85 143.42,546.27 143.9,545.97 144.38,544.74 144.85,544.41 145.33,542.92 145.8,542.83 146.28,541.83 146.75,542.14 147.22,541.86 147.69,540.62 148.15,539.37 148.61,539.19 149.07,538.64 149.53,538.11 149.99,537.83 150.44,537.2 150.88,535.36 151.33,536.2 151.76,534.98 152.2,534.4 152.63,534.54 153.05,533.4 153.47,532.48 153.89,531.96 154.3,531.93 154.7,531.71 155.2,531.28 155.69,530.06 156.18,529.33 156.66,529.44 157.14,528.1 157.6,528.17 158.07,527.14 158.53,526.54 158.98,525.79 159.43,525.4 159.88,524.56 160.32,523.92 160.76,523.56 161.19,522.83 161.62,522.62 162.05,522.01 162.48,521.36 162.9,520.87 163.32,520.35 163.75,520.54 164.16,519.44 164.58,518.76 165,518.39 165.52,518.12 166.03,517.2 166.52,516.59 167,515.92 167.48,515.45 167.95,514.93 168.42,514.36 168.9,513.09 169.38,512.78 169.87,511.77 170.37,512.57 170.9,512.34 171.44,512.13 172,511.54 172.61,511.79 173.24,511.35 173.9,511.37 174.58,510.99 175.27,511.43 175.97,511.71 176.67,512.5 177.37,513.05 178.06,512.62 178.75,513.24 179.42,513.54 180.07,513.5 180.7,513.49 181.31,514.16 181.9,514.29 182.48,515.09 183.05,515.59 183.6,516.02 184.16,516.49 184.7,517.19 185.25,517.16 185.79,518.25 186.34,517.79 186.88,518.8 187.44,519.29 188,519.21 188.64,519.29 189.27,520.42 189.91,520.29 190.54,521.12 191.17,521.41 191.81,521.4 192.46,521.62 193.12,522.15 193.8,522.06 194.5,521.66 195.14,522.06 195.81,522.17 196.5,521.99 197.2,521.89 197.91,521.64 198.62,521.49 199.35,521.01 200.06,520.61 200.78,521.24 201.48,520.33 202.17,520.31 202.85,519.35 203.5,519.55 204.03,518.85 204.55,519.78 205.07,517.97 205.59,517.52 206.1,517.7 206.6,517.25 207.1,515.58 207.59,515.85 208.08,515.49 208.56,514.17 209.04,514.24 209.51,513.21 209.97,512.44 210.43,512.06 210.87,511.43 211.32,510.51 211.75,511.19 212.18,509.68 212.6,509.03 213.04,508.98 213.46,508.01 213.86,507.83 214.25,506.58 214.63,506.08 215,505.28 215.36,504.6 215.73,503.78 216.09,503.14 216.45,503.13 216.81,501.71 217.19,501.21 217.57,500.79 217.96,500.69 218.37,500.29 218.8,500.21 219.48,499.19 220.19,499.67 220.92,499.56 221.65,499.64 222.38,499.98 223.1,499.43 223.8,500.38 224.47,500.55 225.14,500.3 225.79,501.1 226.44,502 227.08,501.61 227.7,502.14 228.3,501.91 228.92,501.64 229.54,501.45 230.15,501.39 230.72,501.66 231.24,501.08 231.7,500.04 231.97,500.22 232.21,499.36 232.4,498.65 232.56,498.47 232.69,497.4 232.8,496.51 232.89,496.81 232.98,494.98 233.05,495.02 233.13,493.48 233.21,493.13 233.3,492.17 233.4,491.14 233.45,490.07 233.51,490.3 233.56,489.83 233.61,489.02 233.66,488.77 233.7,488.59 233.75,487.44 233.8,487.2 233.84,486.12 233.89,486.05 233.93,485.52 233.97,485.53 234.02,484.34 234.06,483.52 234.1,483.19 234.14,481.68 234.18,481.7 234.22,480.44 234.25,479.7 234.29,479.57 234.33,478.55 234.36,478.18 234.4,476.48 234.43,476.31 234.47,475.27 234.5,474.59 234.54,473.24 234.57,473.44 234.6,472.39 234.63,471.18 234.67,470.26 234.7,469.61 234.73,469.58 234.76,468.24 234.79,467.34 234.82,466.8 234.85,465.81 234.88,465.05 234.91,464.39 234.94,463.41 234.97,462.76 235,461.21 235.03,460.81 235.06,459.82 235.09,459.14 235.12,458.25 235.15,457.21 235.18,456.47 235.21,456.08 235.25,454.73 235.28,453.66 235.31,453.47 235.34,452.77 235.37,451.52 235.4,450.84 235.43,449.7 235.47,449.11 235.5,448.75 235.53,447.85 235.57,446.83 235.6,445.9 235.63,444.73 235.66,444.69 235.69,444.02 235.72,443.51 235.75,443.13 235.78,441.85 235.82,441.33 235.85,439.89 235.88,439.97 235.91,439.12 235.94,438.57 235.97,437.6 236,436.79 236.03,436.41 236.06,434.94 236.09,434.66 236.12,434.07 236.15,432.69 236.18,431.83 236.2,431.63 236.23,430.78 236.26,430.2 236.29,429.47 236.32,428.24 236.35,427.87 236.38,427.39 236.41,426.14 236.44,425.41 236.47,424.37 236.5,424.29 236.53,423.92 236.56,422.03 236.58,422.01 236.61,421.3 236.64,420.04 236.67,419.35 236.7,418.37 236.73,417.7 236.76,417.26 236.79,416.67 236.82,415.73 236.84,415.22 236.87,414.24 236.9,413.01 236.93,413.15 236.96,412.3 236.99,410.89 237.02,410.98 237.05,409.78 237.07,408.9 237.1,408.75 237.13,406.48 237.16,406.03 237.19,406.06 237.22,404.98 237.25,403.98 237.28,404.06 237.31,402.95 237.33,401.59 237.36,401.05 237.39,400.8 237.42,400.37 237.45,398.32 237.48,398.33 237.51,397.37 237.54,396.15 237.57,395.93 237.59,394.69 237.62,394.31 237.65,394.29 237.68,393.17 237.71,392.51 237.74,391.7 237.77,390.87 237.8,390.34 237.83,388.87 237.86,388.39 237.89,388.06 237.92,386.78 237.95,386.13 237.98,385.95 238,385.31 238.03,383.84 238.06,383.02 238.09,382.75 238.12,381.9 238.15,380.84 238.18,380.52 238.2,379.77 238.23,378.86 238.26,379.09 238.29,377.81 238.32,376.88 238.34,376.21 238.37,376.12 238.4,374.74 238.43,373.38 238.46,372.99 238.48,372.16 238.51,371.2 238.54,370.74 238.57,370 238.6,369.15 238.62,368.26 238.65,367.96 238.68,366.39 238.71,366.48 238.74,365.46 238.76,364.8 238.79,363.15 238.82,363.8 238.85,361.89 238.88,361.44 238.91,361.22 238.93,360.05 238.96,359.37 238.99,358.01 239.02,357.88 239.05,357.36 239.08,356.78 239.11,355.7 239.14,355.14 239.17,354.47 239.2,353.35 239.23,352.58 239.26,352.76 239.29,351.06 239.32,351.03 239.35,349.89 239.38,349.63 239.41,348.16 239.44,347.82 239.47,347.01 239.5,346.08 239.53,345.52 239.57,344.41 239.6,343.9 239.63,343.05 239.66,342.7 239.69,341.67 239.73,340.48 239.76,340.09 239.79,339.44 239.83,338.42 239.86,338.44 239.9,337.38 239.93,336.79 239.97,335.5 240,334.88 240.04,334.62 240.07,333.03 240.1,332.9 240.14,332.05 240.17,331.09 240.21,330.54 240.24,329.38 240.28,329.06 240.31,327.8 240.34,327.01 240.38,327.16 240.41,325.67 240.44,324.41 240.48,324.7 240.51,323.33 240.55,321.61 240.58,322.02 240.61,321.58 240.65,320.61 240.68,320.3 240.71,318.88 240.75,318.35 240.78,317.02 240.82,316.64 240.85,316.33 240.88,315.2 240.92,314.3 240.95,312.78 240.99,312.55 241.02,311.46 241.06,311.39 241.1,310.09 241.13,309.69 241.17,308.45 241.2,308.67 241.24,306.84 241.28,306.52 241.32,306.61 241.35,305.01 241.39,303.86 241.43,303.61 241.47,302.98 241.51,302.18 241.55,300.44 241.59,300.44 241.63,298.87 241.67,299.51 241.71,298.13 241.75,297.2 241.79,296.85 241.84,296.05 241.88,294.73 241.93,294.97 241.97,293.6 242.01,292.35 242.06,292.72 242.11,292.04 242.15,291.23 242.2,290.28 242.25,289.08 242.3,289.01 242.35,288.63 242.4,287.58 242.45,287.16 242.5,285.66 242.55,285.6 242.61,284.9 242.66,283.39 242.71,282.68 242.77,282.34 242.83,281.96 242.88,281.45 242.94,280.57 243,280 243.08,279.12 243.16,278.31 243.25,277.59 243.33,276.64 243.42,275.52 243.5,274.68 243.59,273.48 243.68,272.94 243.78,271.52 243.87,271.28 243.96,269.72 244.06,268.84 244.16,267.5 244.25,266.67 244.35,265.88 244.45,264.87 244.55,263.69 244.65,262.57 244.75,262.06 244.85,261.19 244.96,260.45 245.06,259.82 245.16,258.44 245.27,257.04 245.37,256.9 245.47,255.55 245.58,255.02 245.68,255.14 245.78,254.33 245.89,253.29 245.99,252.73 246.09,252.39 246.2,251.33 246.3,251.67 246.4,251 246.5,251.44 246.6,250.15 246.7,250.65 246.8,249.91 246.9,250.41 247,249.68 247.1,250.31 247.2,250 247.3,250.02 247.4,250.47 247.5,250.96 247.6,251.27 247.71,252.06 247.81,252.23 247.91,251.5 248.02,252.81 248.12,252.82 248.23,254 248.33,255 248.44,255 248.54,255.78 248.65,257 248.75,257.63 248.86,259.1 248.96,259.5 249.07,260.44 249.17,261.75 249.27,261.87 249.37,262.97 249.48,263.56 249.58,264.95 249.68,266.18 249.77,267.27 249.87,267.76 249.97,268.5 250.06,269.46 250.16,270.23 250.25,271.74 250.34,273.14 250.43,272.81 250.52,273.83 250.6,276.03 250.68,275.91 250.77,277.5 250.85,277.85 250.92,279.44 251,280.29 251.06,280.71 251.11,281.58 251.16,281.96 251.21,282.79 251.27,283.88 251.32,284.29 251.36,284.35 251.41,284.97 251.46,285.84 251.51,286.53 251.55,287.32 251.6,287.78 251.64,288.92 251.68,289.4 251.72,290.22 251.77,290.81 251.81,291.74 251.85,291.82 251.88,293.51 251.92,293.81 251.96,294.57 252,295.36 252.03,296.26 252.07,296.88 252.1,297.45 252.14,298.05 252.17,298.29 252.2,299.69 252.24,300.26 252.27,301.02 252.3,302.73 252.33,302 252.36,303.43 252.39,304.6 252.42,305.28 252.45,306.14 252.48,306.04 252.51,306.92 252.53,308.24 252.56,308.7 252.59,310.18 252.61,310.44 252.64,311.2 252.67,312.07 252.69,312.6 252.72,313.51 252.74,314.02 252.77,315.02 252.79,315.65 252.82,316.69 252.84,316.88 252.87,317.64 252.89,319.1 252.91,319.8 252.94,320.16 252.96,321.2 252.99,321.69 253.01,323.54 253.03,323.06 253.06,324.98 253.08,324.87 253.11,326.07 253.13,326.6 253.15,327.33 253.18,328.56 253.2,329.28 253.23,329.66 253.25,330.2 253.27,332 253.3,332.53 253.32,332.84 253.35,333.43 253.37,334.39 253.4,335.06 253.43,336.19 253.45,336.18 253.48,337.27 253.5,337.73 253.52,339.2 253.55,340.12 253.57,340.2 253.6,341.16 253.62,342.21 253.64,342.35 253.66,342.87 253.69,344.31 253.71,344.86 253.73,345.36 253.75,346.68 253.77,347 253.79,347.03 253.81,348.52 253.84,349.12 253.86,350.54 253.88,350.62 253.9,351.29 253.92,352.26 253.94,352.94 253.95,353.1 253.97,354.38 253.99,354.96 254.01,356.31 254.03,357.4 254.05,356.91 254.07,357.71 254.09,358.49 254.1,359.3 254.12,360.03 254.14,361.03 254.16,362.14 254.18,362.04 254.19,362.7 254.21,363.34 254.23,365.11 254.25,365.93 254.26,365.68 254.28,366.38 254.3,367.74 254.31,368.82 254.33,369.54 254.35,370 254.36,370.91 254.38,371.53 254.4,371.96 254.41,373.57 254.43,373.64 254.45,374 254.46,374.97 254.48,375.34 254.5,376.63 254.51,377.75 254.53,377.66 254.55,379.25 254.56,380.33 254.58,380.47 254.6,380.68 254.61,381.53 254.63,382.46 254.65,382.87 254.66,383.63 254.68,384.72 254.7,385.49 254.71,386.51 254.73,386.63 254.75,388.45 254.77,388.91 254.78,389.6 254.8,389.81 254.82,391.39 254.83,391.4 254.85,392.91 254.87,393.4 254.89,393.47 254.9,394.38 254.92,395.95 254.94,396.41 254.95,396.76 254.97,397.65 254.99,398.42 255,398.84 255.02,399.81 255.04,400.42 255.05,401.27 255.07,402.36 255.09,402.63 255.1,404 255.12,404.56 255.14,405.56 255.15,406.38 255.17,407.28 255.19,407.84 255.2,408.65 255.22,409.11 255.23,410.15 255.25,410.42 255.27,411.42 255.28,412.55 255.3,413.05 255.31,414 255.33,414.25 255.35,415.87 255.36,415.96 255.38,417.08 255.39,417.71 255.41,418.81 255.42,419.12 255.44,419.67 255.46,420.13 255.47,421.45 255.49,421.91 255.5,423.28 255.52,424.36 255.53,423.83 255.55,424.92 255.57,426.23 255.58,427.31 255.6,427.74 255.61,428.49 255.63,429.3 255.64,430.07 255.66,431.19 255.67,431.56 255.69,431.65 255.7,432.65 255.72,433.62 255.74,433.99 255.75,434.9 255.77,435.53 255.78,436.18 255.8,437.39 255.81,437.72 255.83,438.17 255.84,439.01 255.86,439.97 255.88,441.39 255.89,441.43 255.91,442.54 255.92,442.88 255.94,442.62 255.95,444.18 255.97,444.42 255.98,444.9 256,445.65 256.02,447.49 256.04,447.11 256.06,448.25 256.08,449.66 256.09,450.27 256.11,450.2 256.13,451.52 256.15,452.12 256.16,452.98 256.18,454.04 256.2,454.3 256.21,455.11 256.23,456.44 256.25,455.99 256.26,457.21 256.28,458.2 256.3,458.29 256.31,459.2 256.33,459.65 256.34,460.85 256.36,461.26 256.38,462.44 256.39,463.21 256.41,463.55 256.43,464.09 256.45,465 256.46,465.62 256.48,465.87 256.5,467.38 256.52,467.78 256.54,468.69 256.56,468.64 256.58,470.15 256.6,471.31 256.62,471.52 256.64,471.53 256.67,472.8 256.69,473.53 256.71,474.4 256.74,475.02 256.76,476.07 256.79,476.53 256.82,477.59 256.84,478.09 256.87,479.21 256.9,480.38 256.92,480.48 256.94,481.52 256.97,481.6 256.99,482.43 257.01,483.13 257.03,484.31 257.06,484.26 257.08,485.63 257.1,485.36 257.13,486.5 257.15,487.57 257.18,488.19 257.2,488.28 257.23,488.91 257.26,490.37 257.28,490.33 257.31,491.7 257.34,492.03 257.36,492.94 257.39,494.5 257.42,494.97 257.44,495.46 257.47,495.43 257.5,496.78 257.53,497.44 257.56,498.14 257.59,499.41 257.62,499.1 257.65,500.59 257.68,501.29 257.71,501.75 257.74,503.41 257.77,503.12 257.8,504.36 257.83,505.17 257.86,505.15 257.89,506.2 257.92,507.15 257.96,508.57 257.99,509.41 258.02,510.08 258.05,510.75 258.08,510.68 258.12,512.33 258.15,512.87 258.18,514.26 258.21,515.12 258.25,516.23 258.28,516.48 258.31,517.32 258.35,517.46 258.38,518.65 258.41,518.97 258.45,520.52 258.48,520.57 258.52,521.71 258.55,522.28 258.59,523.19 258.62,524.31 258.65,524.73 258.69,525.79 258.72,526.13 258.76,527.76 258.79,527.81 258.83,529.17 258.86,530.34 258.9,529.48 258.93,530.75 258.97,531.79 259,533.03 259.04,533.2 259.07,534.25 259.11,534.6 259.14,535.8 259.18,535.9 259.21,537.36 259.25,536.73 259.28,537.84 259.32,539.87 259.35,540 259.39,540.33 259.42,542.13 259.46,542.41 259.49,543.13 259.53,543.26 259.56,544.31 259.6,544.94 259.63,544.83 259.67,546.29 259.7,546.66 259.74,548.02 259.79,548.85 259.83,548.97 259.88,549.8 259.93,550.89 259.97,551.85 260.02,552.27 260.06,553.16 260.11,554.2 260.16,554.92 260.2,555.95 260.25,556.39 260.3,556.75 260.34,557.2 260.39,558.87 260.44,559.22 260.49,559.96 260.53,560.72 260.58,561 260.63,562.16 260.68,562.11 260.73,563.62 260.77,564.18 260.82,565.88 260.87,566.1 260.92,566.59 260.97,567.44 261.02,568.36 261.07,568.55 261.12,569.45 261.16,570.12 261.21,571.84 261.26,571.69 261.31,571.67 261.36,573.37 261.41,574.72 261.46,574.16 261.51,576.46 261.56,575.9 261.61,576.99 261.66,577.14 261.71,577.96 261.76,578.32 261.81,579.1 261.86,579.42 261.9,581.32 261.95,581.22 262,582.48 262.05,583.19 262.1,583.56 262.15,584.54 262.2,585.22 262.25,585.81 262.3,586.74 262.35,587.49 262.4,587.86 262.45,588.51 262.49,589.44 262.54,590.56 262.59,591.78 262.63,592.59 262.68,592.96 262.72,593.97 262.77,594.46 262.81,595.6 262.86,596.04 262.9,596.93 262.94,597.48 262.99,598.37 263.03,599.85 263.07,599.53 263.12,600.76 263.16,601.34 263.2,602.7 263.25,603.8 263.29,603.83 263.34,603.73 263.38,605.75 263.42,606.53 263.47,606.49 263.52,607.79 263.56,608.63 263.61,608.6 263.66,610.45 263.7,611.13 263.75,611.82 263.8,612.1 263.85,612.98 263.9,613.76 263.95,614.9 264,615.1 264.06,616.71 264.11,617.04 264.17,616.82 264.22,618.93 264.28,619.07 264.34,619.5 264.4,620.41 264.46,620.38 264.52,621.77 264.59,621.46 264.65,622.62 264.72,624.11 264.79,624.69 264.86,624.72 264.93,625.08 265,626.36 265.11,626.88 265.23,627.83 265.35,628.82 265.47,629.02 265.59,630.49 265.71,630.21 265.83,632.28 265.96,631.92 266.09,633 266.22,633.7 266.35,634.92 266.48,635.63 266.62,636.17 266.76,636.92 266.91,637.57 267.05,638.04 267.2,638.03 267.35,638.55 267.51,639.21 267.67,640.68 267.83,641.27 268,641.96 268.2,642.86 268.4,643.44 268.6,643.9 268.8,644.43 269.01,645 269.22,646.83 269.43,647.41 269.65,647.27 269.88,648.35 270.11,649.29 270.35,650.4 270.6,650.28 270.86,651.26 271.13,652.31 271.41,651.96 271.7,653.04 271.97,653.95 272.25,654.37 272.53,656.08 272.82,656.31 273.12,656.76 273.43,657.03 273.74,658.4 274.06,659.02 274.39,659.3 274.72,660.03 275.06,660.34 275.4,661.53 275.75,662.55 276.1,663.27 276.46,663.76 276.82,664.48 277.19,664.58 277.55,665.22 277.93,666.4 278.3,666.68 278.77,666.88 279.24,667.99 279.71,668.72 280.18,669.28 280.66,669.64 281.15,669.97 281.65,670.84 282.17,671.83 282.69,671.77 283.24,671.95 283.8,672.78 284.39,672.64 285,673.59 285.57,673.76 286.16,674.56 286.77,674.57 287.39,675.21 288.02,675.95 288.67,675.3 289.33,675.33 290,676.03 290.68,676.06 291.38,676.35 292.08,676.28 292.8,676.89 293.52,676.9 294.26,676.26 295,677.12 295.63,677.46 296.27,677.89 296.9,677.35 297.54,677.36 298.18,678.15 298.83,677.58 299.48,677.91 300.14,678.09 300.81,678.24 301.49,678.01 302.18,677.64 302.89,678.44 303.6,677.95 304.34,677.94 305.09,678.88 305.85,678.49 306.64,677.81 307.45,678.05 308.28,678.16 309.13,678 310,677.61 310.57,678.62 311.15,678.63 311.74,678.46 312.34,678.24 312.95,678.48 313.57,678.65 314.21,678.05 314.85,678.32 315.5,678.25 316.16,678.72 316.83,678.57 317.51,678.01 318.19,678.27 318.89,679.14 319.59,678.16 320.3,678.57 321.02,678.29 321.74,678.98 322.47,678.5 323.21,678.37 323.95,678.11 324.7,678.45 325.45,678.84 326.21,678.78 326.98,678.06 327.74,679.1 328.52,678.45 329.29,678.15 330.08,678.58 330.86,678.31 331.65,678.32 332.44,678.3 333.23,678.49 334.03,678.34 334.82,677.9 335.62,678.71 336.42,678.33 337.23,678.95 338.03,678.71 338.83,678.73 339.64,678.57 340.44,678.97 341.25,678.38 342.05,678.14 342.85,678.62 343.65,677.51 344.46,678.36 345.25,678.57 346.05,678.35 346.85,678.95 347.64,678.75 348.43,678.54 349.22,678.36 350,678.9 350.71,678.26 351.42,678.36 352.13,678.78 352.84,678.73 353.56,679.25 354.28,678.44 355.01,677.84 355.73,678.76 356.46,678.98 357.19,678.47 357.93,679.09 358.66,679.17 359.4,678.29 360.14,678.36 360.89,678.08 361.63,678.73 362.38,678.8 363.12,678.76 363.87,678.1 364.62,678.27 365.38,678.03 366.13,677.97 366.89,678.06 367.64,677.98 368.4,678.49 369.16,678.71 369.92,678.78 370.68,678.55 371.44,678.32 372.2,678.56 372.96,678.77 373.72,678.46 374.49,678.58 375.25,678.46 376.01,678.38 376.78,678.58 377.54,678.17 378.3,678.95 379.07,678.01 379.83,678.74 380.59,678.08 381.36,679.12 382.12,678.89 382.88,678.29 383.64,678.42 384.4,678.17 385.16,678.56 385.91,678.73 386.67,679.51 387.43,678.09 388.18,679.03 388.93,678.38 389.68,678.69 390.43,678.91 391.18,678.79 391.93,678.74 392.67,678.52 393.42,678.59 394.16,678.65 394.89,679.03 395.63,678.07 396.37,678.42 397.1,678.15 397.83,678.25 398.55,678.31 399.28,678.99 400,679.37 400.78,679.09 401.55,678.17 402.32,678.63 403.09,678.19 403.86,678.76 404.63,679.06 405.39,678.82 406.16,678.92 406.92,678.55 407.68,677.9 408.44,677.89 409.2,678.57 409.95,678.81 410.71,679.06 411.47,678.48 412.22,678.63 412.97,678.7 413.72,678.99 414.47,678.58 415.22,678.21 415.97,679 416.72,678.75 417.47,678.74 418.22,678.15 418.96,678.6 419.71,677.99 420.45,677.88 421.2,678.52 421.94,678.45 422.68,678.81 423.43,679.12 424.17,678.59 424.91,679.25 425.65,678.39 426.39,678.88 427.14,678.15 427.88,678.65 428.62,678.49 429.36,678.53 430.1,678.81 430.84,677.92 431.58,678.64 432.33,678.31 433.07,678.64 433.81,678.74 434.55,678.47 435.29,678.47 436.04,678.19 436.78,678.8 437.52,678.36 438.27,678.76 439.01,678.09 439.76,679.09 440.51,678.23 441.25,679.02 442,678.44 442.75,678.8 443.5,678.55" fill="none" stroke="#f47c1c" stroke-width="1.5" stroke-linejoin="round" />
<path d="M135.6,591.5 L136.0,579 L136.4,590" fill="none" stroke="#741010" stroke-width="1.2"/>
<path d="M374.3,665 L374.8,654.4 L375.3,665.5" fill="none" stroke="#1c7c1c" stroke-width="1.2"/>
</g>
<line x1="45.1" y1="390.1" x2="45.1" y2="680" stroke="#666" stroke-width="1.7" />
<line x1="508.7" y1="390.1" x2="508.7" y2="680" stroke="#555" stroke-width="1.6" />
<line x1="44.3" y1="390.1" x2="509.5" y2="390.1" stroke="#666" stroke-width="1.7" />
<line x1="44.3" y1="680" x2="509.5" y2="680" stroke="#111" stroke-width="1.5" />
<line x1="76.01" y1="680" x2="76.01" y2="674.4" stroke="#111" stroke-width="1.3" />
<line x1="76.01" y1="390.1" x2="76.01" y2="395.7" stroke="#111" stroke-width="1.3" />
<line x1="106.91" y1="680" x2="106.91" y2="676.8" stroke="#111" stroke-width="1.3" />
<line x1="106.91" y1="390.1" x2="106.91" y2="393.3" stroke="#111" stroke-width="1.3" />
<line x1="137.82" y1="680" x2="137.82" y2="674.4" stroke="#111" stroke-width="1.3" />
<line x1="137.82" y1="390.1" x2="137.82" y2="395.7" stroke="#111" stroke-width="1.3" />
<line x1="168.73" y1="680" x2="168.73" y2="676.8" stroke="#111" stroke-width="1.3" />
<line x1="168.73" y1="390.1" x2="168.73" y2="393.3" stroke="#111" stroke-width="1.3" />
<line x1="199.63" y1="680" x2="199.63" y2="674.4" stroke="#111" stroke-width="1.3" />
<line x1="199.63" y1="390.1" x2="199.63" y2="395.7" stroke="#111" stroke-width="1.3" />
<line x1="230.54" y1="680" x2="230.54" y2="676.8" stroke="#111" stroke-width="1.3" />
<line x1="230.54" y1="390.1" x2="230.54" y2="393.3" stroke="#111" stroke-width="1.3" />
<line x1="261.45" y1="680" x2="261.45" y2="674.4" stroke="#111" stroke-width="1.3" />
<line x1="261.45" y1="390.1" x2="261.45" y2="395.7" stroke="#111" stroke-width="1.3" />
<line x1="292.35" y1="680" x2="292.35" y2="676.8" stroke="#111" stroke-width="1.3" />
<line x1="292.35" y1="390.1" x2="292.35" y2="393.3" stroke="#111" stroke-width="1.3" />
<line x1="323.26" y1="680" x2="323.26" y2="674.4" stroke="#111" stroke-width="1.3" />
<line x1="323.26" y1="390.1" x2="323.26" y2="395.7" stroke="#111" stroke-width="1.3" />
<line x1="354.17" y1="680" x2="354.17" y2="676.8" stroke="#111" stroke-width="1.3" />
<line x1="354.17" y1="390.1" x2="354.17" y2="393.3" stroke="#111" stroke-width="1.3" />
<line x1="385.07" y1="680" x2="385.07" y2="674.4" stroke="#111" stroke-width="1.3" />
<line x1="385.07" y1="390.1" x2="385.07" y2="395.7" stroke="#111" stroke-width="1.3" />
<line x1="415.98" y1="680" x2="415.98" y2="676.8" stroke="#111" stroke-width="1.3" />
<line x1="415.98" y1="390.1" x2="415.98" y2="393.3" stroke="#111" stroke-width="1.3" />
<line x1="446.89" y1="680" x2="446.89" y2="674.4" stroke="#111" stroke-width="1.3" />
<line x1="446.89" y1="390.1" x2="446.89" y2="395.7" stroke="#111" stroke-width="1.3" />
<line x1="477.79" y1="680" x2="477.79" y2="676.8" stroke="#111" stroke-width="1.3" />
<line x1="477.79" y1="390.1" x2="477.79" y2="393.3" stroke="#111" stroke-width="1.3" />
<line x1="45.1" y1="426.83" x2="48.1" y2="426.83" stroke="#111" stroke-width="1.3" />
<line x1="508.7" y1="426.83" x2="505.7" y2="426.83" stroke="#111" stroke-width="1.3" />
<line x1="45.1" y1="463.55" x2="50.7" y2="463.55" stroke="#111" stroke-width="1.3" />
<line x1="508.7" y1="463.55" x2="503.1" y2="463.55" stroke="#111" stroke-width="1.3" />
<line x1="45.1" y1="500.28" x2="48.1" y2="500.28" stroke="#111" stroke-width="1.3" />
<line x1="508.7" y1="500.28" x2="505.7" y2="500.28" stroke="#111" stroke-width="1.3" />
<line x1="45.1" y1="537" x2="50.7" y2="537" stroke="#111" stroke-width="1.3" />
<line x1="508.7" y1="537" x2="503.1" y2="537" stroke="#111" stroke-width="1.3" />
<line x1="45.1" y1="573.73" x2="48.1" y2="573.73" stroke="#111" stroke-width="1.3" />
<line x1="508.7" y1="573.73" x2="505.7" y2="573.73" stroke="#111" stroke-width="1.3" />
<line x1="45.1" y1="610.45" x2="50.7" y2="610.45" stroke="#111" stroke-width="1.3" />
<line x1="508.7" y1="610.45" x2="503.1" y2="610.45" stroke="#111" stroke-width="1.3" />
<line x1="45.1" y1="647.17" x2="48.1" y2="647.17" stroke="#111" stroke-width="1.3" />
<line x1="508.7" y1="647.17" x2="505.7" y2="647.17" stroke="#111" stroke-width="1.3" />
<line x1="53.3" y1="428.2" x2="82.6" y2="428.2" stroke="#1c7c1c" stroke-width="1.6" />
<line x1="53.3" y1="444" x2="82.6" y2="444" stroke="#8a34ec" stroke-width="1.6" />
<line x1="53.3" y1="460.1" x2="82.6" y2="460.1" stroke="#741010" stroke-width="1.4" />
<line x1="53.3" y1="475.9" x2="82.6" y2="475.9" stroke="#f47c1c" stroke-width="1.6" />
<text transform="translate(86.16,432.3) scale(1.1207,1)" font-size="11.192" font-weight="normal" font-style="normal" fill="#000" stroke="#000" stroke-width="0.260">7 kV</text>
<text transform="translate(86.25,448.1) scale(1.1207,1)" font-size="11.192" font-weight="normal" font-style="normal" fill="#000" stroke="#000" stroke-width="0.260">8 kV</text>
<text transform="translate(86.21,464.2) scale(1.1207,1)" font-size="11.192" font-weight="normal" font-style="normal" fill="#000" stroke="#000" stroke-width="0.260">9 kV</text>
<text transform="translate(85.84,480) scale(1.1207,1)" font-size="11.192" font-weight="normal" font-style="normal" fill="#000" stroke="#000" stroke-width="0.260">10 kV</text>
<text transform="translate(12.42,411) scale(0.9615,1)" font-size="23.323" font-weight="bold" font-style="normal" fill="#000" stroke="#000" stroke-width="0.054">b</text>
<text transform="translate(27.9,624.1) rotate(-90) scale(1.0065,1)" font-size="23.488" font-weight="normal" fill="#000" stroke="#000" stroke-width="0.051">CL Intensity (a.u.)</text>
<text transform="translate(61.54,702.7) scale(1.0176,1)" font-size="19.907" font-weight="normal" font-style="normal" fill="#000" stroke="#000" stroke-width="0.112">3.1</text>
<text transform="translate(123.36,702.7) scale(1.0176,1)" font-size="19.907" font-weight="normal" font-style="normal" fill="#000" stroke="#000" stroke-width="0.112">3.2</text>
<text transform="translate(185.11,702.7) scale(1.0176,1)" font-size="19.907" font-weight="normal" font-style="normal" fill="#000" stroke="#000" stroke-width="0.112">3.3</text>
<text transform="translate(246.78,702.7) scale(1.0176,1)" font-size="19.907" font-weight="normal" font-style="normal" fill="#000" stroke="#000" stroke-width="0.112">3.4</text>
<text transform="translate(308.72,702.7) scale(1.0176,1)" font-size="19.907" font-weight="normal" font-style="normal" fill="#000" stroke="#000" stroke-width="0.112">3.5</text>
<text transform="translate(370.55,702.7) scale(1.0176,1)" font-size="19.907" font-weight="normal" font-style="normal" fill="#000" stroke="#000" stroke-width="0.112">3.6</text>
<text transform="translate(432.43,702.7) scale(1.0176,1)" font-size="19.907" font-weight="normal" font-style="normal" fill="#000" stroke="#000" stroke-width="0.112">3.7</text>
<text transform="translate(494.17,702.7) scale(1.0176,1)" font-size="19.907" font-weight="normal" font-style="normal" fill="#000" stroke="#000" stroke-width="0.112">3.8</text>
<text transform="translate(213.87,738.4) scale(1.1187,1)" font-size="21.076" font-weight="normal" font-style="normal" fill="#000" stroke="#000" stroke-width="0.092">Energy (eV)</text>
<text transform="translate(56.49,413.8) scale(1.0655,1)" font-size="14.971" font-weight="normal" font-style="normal" fill="#1212c4" stroke="#1212c4" stroke-width="0.195">MgZnO/ZnO/c-sap</text>
<text transform="translate(136.23,467.6) scale(1.0229,1)" font-size="14.826" font-weight="normal" font-style="italic" fill="#d41820" stroke="#d41820" stroke-width="0.198">H</text>
<text transform="translate(147.12,467.6) scale(1.0792,1)" font-size="14.077" font-weight="normal" font-style="normal" fill="#d41820" stroke="#d41820" stroke-width="0.211">-band</text>
<text transform="translate(149.42,487.2) scale(1.1431,1)" font-size="13.111" font-weight="normal" font-style="normal" fill="#000" stroke="#000" stroke-width="0.227">with</text>
<text transform="translate(186.44,489.5) scale(1.0583,1)" font-size="14.535" font-weight="normal" font-style="normal" fill="#000" stroke="#000" stroke-width="0.203">FX-LO</text>
<text transform="translate(135.44,505.7) scale(1.0185,1)" font-size="15.117" font-weight="normal" font-style="normal" fill="#000" stroke="#000" stroke-width="0.193">FX-2LO</text>
<text transform="translate(261.23,414.5) scale(1.0581,1)" font-size="14.680" font-weight="normal" font-style="normal" fill="#222" stroke="#222" stroke-width="0.200">D</text>
<text transform="translate(272.52,407.6) scale(0.7525,1)" font-size="9.452" font-weight="normal" font-style="normal" fill="#222" stroke="#222" stroke-width="0.289">0</text>
<text transform="translate(276.88,414.5) scale(0.9723,1)" font-size="14.680" font-weight="normal" font-style="normal" fill="#222" stroke="#222" stroke-width="0.200">X</text>
<text transform="translate(437.54,414.5) scale(1.0974,1)" font-size="14.680" font-weight="normal" font-style="normal" fill="#000" stroke="#000" stroke-width="0.200">T = 80 K</text>
<rect x="311.8" y="461.1" width="174.8" height="134.79999999999995" fill="#fff" stroke="none"/>
<line x1="323.7" y1="556.1" x2="477.3" y2="467.5" stroke="#2030d8" stroke-width="1.3" />
<line x1="319.1" y1="577.2" x2="476.4" y2="494" stroke="#e02a2a" stroke-width="1.3" />
<circle cx="325.5" cy="555.3" r="2.4" fill="none" stroke="#2030d8" stroke-width="1.05"/>
<circle cx="338.3" cy="548.6" r="2.4" fill="none" stroke="#2030d8" stroke-width="1.05"/>
<circle cx="351.1" cy="541" r="2.4" fill="none" stroke="#2030d8" stroke-width="1.05"/>
<circle cx="364.3" cy="533.2" r="2.4" fill="none" stroke="#2030d8" stroke-width="1.05"/>
<circle cx="376.8" cy="525.3" r="2.4" fill="none" stroke="#2030d8" stroke-width="1.05"/>
<circle cx="389.8" cy="518.5" r="2.4" fill="none" stroke="#2030d8" stroke-width="1.05"/>
<circle cx="402.8" cy="511.4" r="2.4" fill="none" stroke="#2030d8" stroke-width="1.05"/>
<circle cx="416.3" cy="503" r="2.4" fill="none" stroke="#2030d8" stroke-width="1.05"/>
<circle cx="429.3" cy="494.3" r="2.4" fill="none" stroke="#2030d8" stroke-width="1.05"/>
<circle cx="443.6" cy="484.1" r="2.4" fill="none" stroke="#2030d8" stroke-width="1.05"/>
<circle cx="460.2" cy="476.6" r="2.4" fill="none" stroke="#2030d8" stroke-width="1.05"/>
<circle cx="477.3" cy="467.5" r="2.4" fill="none" stroke="#2030d8" stroke-width="1.05"/>
<rect x="319.2" y="574.1" width="4.4" height="4.4" fill="none" stroke="#e02a2a" stroke-width="1.05"/>
<rect x="332" y="567.1" width="4.4" height="4.4" fill="none" stroke="#e02a2a" stroke-width="1.05"/>
<rect x="344.6" y="560.9" width="4.4" height="4.4" fill="none" stroke="#e02a2a" stroke-width="1.05"/>
<rect x="357.1" y="555.1" width="4.4" height="4.4" fill="none" stroke="#e02a2a" stroke-width="1.05"/>
<rect x="369.8" y="548.7" width="4.4" height="4.4" fill="none" stroke="#e02a2a" stroke-width="1.05"/>
<rect x="382.3" y="541.9" width="4.4" height="4.4" fill="none" stroke="#e02a2a" stroke-width="1.05"/>
<rect x="395.8" y="535.8" width="4.4" height="4.4" fill="none" stroke="#e02a2a" stroke-width="1.05"/>
<rect x="407.8" y="528.3" width="4.4" height="4.4" fill="none" stroke="#e02a2a" stroke-width="1.05"/>
<rect x="420.8" y="521.4" width="4.4" height="4.4" fill="none" stroke="#e02a2a" stroke-width="1.05"/>
<rect x="434.8" y="513.8" width="4.4" height="4.4" fill="none" stroke="#e02a2a" stroke-width="1.05"/>
<rect x="450.2" y="505.1" width="4.4" height="4.4" fill="none" stroke="#e02a2a" stroke-width="1.05"/>
<rect x="465.9" y="495.6" width="4.4" height="4.4" fill="none" stroke="#e02a2a" stroke-width="1.05"/>
<rect x="474.2" y="491.9" width="4.4" height="4.4" fill="none" stroke="#e02a2a" stroke-width="1.05"/>
<line x1="311.8" y1="461.1" x2="311.8" y2="595.9" stroke="#111" stroke-width="1.4" />
<line x1="311.1" y1="595.9" x2="487.1" y2="595.9" stroke="#111" stroke-width="1.4" />
<line x1="311.8" y1="461.1" x2="486.6" y2="461.1" stroke="#777" stroke-width="1.2" />
<line x1="486.6" y1="461.1" x2="486.6" y2="595.9" stroke="#555" stroke-width="1.2" />
<line x1="311.8" y1="587.28" x2="310" y2="587.28" stroke="#111" stroke-width="1.0" />
<line x1="486.6" y1="587.28" x2="484.8" y2="587.28" stroke="#111" stroke-width="1.0" />
<line x1="311.8" y1="582.23" x2="310" y2="582.23" stroke="#111" stroke-width="1.0" />
<line x1="486.6" y1="582.23" x2="484.8" y2="582.23" stroke="#111" stroke-width="1.0" />
<line x1="311.8" y1="578.65" x2="310" y2="578.65" stroke="#111" stroke-width="1.0" />
<line x1="486.6" y1="578.65" x2="484.8" y2="578.65" stroke="#111" stroke-width="1.0" />
<line x1="311.8" y1="575.87" x2="310" y2="575.87" stroke="#111" stroke-width="1.0" />
<line x1="486.6" y1="575.87" x2="484.8" y2="575.87" stroke="#111" stroke-width="1.0" />
<line x1="311.8" y1="573.61" x2="310" y2="573.61" stroke="#111" stroke-width="1.0" />
<line x1="486.6" y1="573.61" x2="484.8" y2="573.61" stroke="#111" stroke-width="1.0" />
<line x1="311.8" y1="571.69" x2="310" y2="571.69" stroke="#111" stroke-width="1.0" />
<line x1="486.6" y1="571.69" x2="484.8" y2="571.69" stroke="#111" stroke-width="1.0" />
<line x1="311.8" y1="570.03" x2="310" y2="570.03" stroke="#111" stroke-width="1.0" />
<line x1="486.6" y1="570.03" x2="484.8" y2="570.03" stroke="#111" stroke-width="1.0" />
<line x1="311.8" y1="568.56" x2="310" y2="568.56" stroke="#111" stroke-width="1.0" />
<line x1="486.6" y1="568.56" x2="484.8" y2="568.56" stroke="#111" stroke-width="1.0" />
<line x1="311.8" y1="567.25" x2="308" y2="567.25" stroke="#111" stroke-width="1.0" />
<line x1="486.6" y1="567.25" x2="482.8" y2="567.25" stroke="#111" stroke-width="1.0" />
<line x1="311.8" y1="558.63" x2="310" y2="558.63" stroke="#111" stroke-width="1.0" />
<line x1="486.6" y1="558.63" x2="484.8" y2="558.63" stroke="#111" stroke-width="1.0" />
<line x1="311.8" y1="553.58" x2="310" y2="553.58" stroke="#111" stroke-width="1.0" />
<line x1="486.6" y1="553.58" x2="484.8" y2="553.58" stroke="#111" stroke-width="1.0" />
<line x1="311.8" y1="550" x2="310" y2="550" stroke="#111" stroke-width="1.0" />
<line x1="486.6" y1="550" x2="484.8" y2="550" stroke="#111" stroke-width="1.0" />
<line x1="311.8" y1="547.22" x2="310" y2="547.22" stroke="#111" stroke-width="1.0" />
<line x1="486.6" y1="547.22" x2="484.8" y2="547.22" stroke="#111" stroke-width="1.0" />
<line x1="311.8" y1="544.96" x2="310" y2="544.96" stroke="#111" stroke-width="1.0" />
<line x1="486.6" y1="544.96" x2="484.8" y2="544.96" stroke="#111" stroke-width="1.0" />
<line x1="311.8" y1="543.04" x2="310" y2="543.04" stroke="#111" stroke-width="1.0" />
<line x1="486.6" y1="543.04" x2="484.8" y2="543.04" stroke="#111" stroke-width="1.0" />
<line x1="311.8" y1="541.38" x2="310" y2="541.38" stroke="#111" stroke-width="1.0" />
<line x1="486.6" y1="541.38" x2="484.8" y2="541.38" stroke="#111" stroke-width="1.0" />
<line x1="311.8" y1="539.91" x2="310" y2="539.91" stroke="#111" stroke-width="1.0" />
<line x1="486.6" y1="539.91" x2="484.8" y2="539.91" stroke="#111" stroke-width="1.0" />
<line x1="311.8" y1="538.6" x2="308" y2="538.6" stroke="#111" stroke-width="1.0" />
<line x1="486.6" y1="538.6" x2="482.8" y2="538.6" stroke="#111" stroke-width="1.0" />
<line x1="311.8" y1="529.98" x2="310" y2="529.98" stroke="#111" stroke-width="1.0" />
<line x1="486.6" y1="529.98" x2="484.8" y2="529.98" stroke="#111" stroke-width="1.0" />
<line x1="311.8" y1="524.93" x2="310" y2="524.93" stroke="#111" stroke-width="1.0" />
<line x1="486.6" y1="524.93" x2="484.8" y2="524.93" stroke="#111" stroke-width="1.0" />
<line x1="311.8" y1="521.35" x2="310" y2="521.35" stroke="#111" stroke-width="1.0" />
<line x1="486.6" y1="521.35" x2="484.8" y2="521.35" stroke="#111" stroke-width="1.0" />
<line x1="311.8" y1="518.57" x2="310" y2="518.57" stroke="#111" stroke-width="1.0" />
<line x1="486.6" y1="518.57" x2="484.8" y2="518.57" stroke="#111" stroke-width="1.0" />
<line x1="311.8" y1="516.31" x2="310" y2="516.31" stroke="#111" stroke-width="1.0" />
<line x1="486.6" y1="516.31" x2="484.8" y2="516.31" stroke="#111" stroke-width="1.0" />
<line x1="311.8" y1="514.39" x2="310" y2="514.39" stroke="#111" stroke-width="1.0" />
<line x1="486.6" y1="514.39" x2="484.8" y2="514.39" stroke="#111" stroke-width="1.0" />
<line x1="311.8" y1="512.73" x2="310" y2="512.73" stroke="#111" stroke-width="1.0" />
<line x1="486.6" y1="512.73" x2="484.8" y2="512.73" stroke="#111" stroke-width="1.0" />
<line x1="311.8" y1="511.26" x2="310" y2="511.26" stroke="#111" stroke-width="1.0" />
<line x1="486.6" y1="511.26" x2="484.8" y2="511.26" stroke="#111" stroke-width="1.0" />
<line x1="311.8" y1="509.95" x2="308" y2="509.95" stroke="#111" stroke-width="1.0" />
<line x1="486.6" y1="509.95" x2="482.8" y2="509.95" stroke="#111" stroke-width="1.0" />
<line x1="311.8" y1="501.33" x2="310" y2="501.33" stroke="#111" stroke-width="1.0" />
<line x1="486.6" y1="501.33" x2="484.8" y2="501.33" stroke="#111" stroke-width="1.0" />
<line x1="311.8" y1="496.28" x2="310" y2="496.28" stroke="#111" stroke-width="1.0" />
<line x1="486.6" y1="496.28" x2="484.8" y2="496.28" stroke="#111" stroke-width="1.0" />
<line x1="311.8" y1="492.7" x2="310" y2="492.7" stroke="#111" stroke-width="1.0" />
<line x1="486.6" y1="492.7" x2="484.8" y2="492.7" stroke="#111" stroke-width="1.0" />
<line x1="311.8" y1="489.92" x2="310" y2="489.92" stroke="#111" stroke-width="1.0" />
<line x1="486.6" y1="489.92" x2="484.8" y2="489.92" stroke="#111" stroke-width="1.0" />
<line x1="311.8" y1="487.66" x2="310" y2="487.66" stroke="#111" stroke-width="1.0" />
<line x1="486.6" y1="487.66" x2="484.8" y2="487.66" stroke="#111" stroke-width="1.0" />
<line x1="311.8" y1="485.74" x2="310" y2="485.74" stroke="#111" stroke-width="1.0" />
<line x1="486.6" y1="485.74" x2="484.8" y2="485.74" stroke="#111" stroke-width="1.0" />
<line x1="311.8" y1="484.08" x2="310" y2="484.08" stroke="#111" stroke-width="1.0" />
<line x1="486.6" y1="484.08" x2="484.8" y2="484.08" stroke="#111" stroke-width="1.0" />
<line x1="311.8" y1="482.61" x2="310" y2="482.61" stroke="#111" stroke-width="1.0" />
<line x1="486.6" y1="482.61" x2="484.8" y2="482.61" stroke="#111" stroke-width="1.0" />
<line x1="311.8" y1="481.3" x2="308" y2="481.3" stroke="#111" stroke-width="1.0" />
<line x1="486.6" y1="481.3" x2="482.8" y2="481.3" stroke="#111" stroke-width="1.0" />
<line x1="311.8" y1="472.68" x2="310" y2="472.68" stroke="#111" stroke-width="1.0" />
<line x1="486.6" y1="472.68" x2="484.8" y2="472.68" stroke="#111" stroke-width="1.0" />
<line x1="311.8" y1="467.63" x2="310" y2="467.63" stroke="#111" stroke-width="1.0" />
<line x1="486.6" y1="467.63" x2="484.8" y2="467.63" stroke="#111" stroke-width="1.0" />
<line x1="311.8" y1="464.05" x2="310" y2="464.05" stroke="#111" stroke-width="1.0" />
<line x1="486.6" y1="464.05" x2="484.8" y2="464.05" stroke="#111" stroke-width="1.0" />
<line x1="311.8" y1="461.27" x2="310" y2="461.27" stroke="#111" stroke-width="1.0" />
<line x1="486.6" y1="461.27" x2="484.8" y2="461.27" stroke="#111" stroke-width="1.0" />
<line x1="317.46" y1="595.9" x2="317.46" y2="594.4" stroke="#111" stroke-width="1.0" />
<line x1="317.46" y1="461.1" x2="317.46" y2="462.6" stroke="#444" stroke-width="1.0" />
<line x1="322.28" y1="595.9" x2="322.28" y2="594.4" stroke="#111" stroke-width="1.0" />
<line x1="322.28" y1="461.1" x2="322.28" y2="462.6" stroke="#444" stroke-width="1.0" />
<line x1="326.21" y1="595.9" x2="326.21" y2="594.4" stroke="#111" stroke-width="1.0" />
<line x1="326.21" y1="461.1" x2="326.21" y2="462.6" stroke="#444" stroke-width="1.0" />
<line x1="329.54" y1="595.9" x2="329.54" y2="594.4" stroke="#111" stroke-width="1.0" />
<line x1="329.54" y1="461.1" x2="329.54" y2="462.6" stroke="#444" stroke-width="1.0" />
<line x1="332.42" y1="595.9" x2="332.42" y2="594.4" stroke="#111" stroke-width="1.0" />
<line x1="332.42" y1="461.1" x2="332.42" y2="462.6" stroke="#444" stroke-width="1.0" />
<line x1="334.96" y1="595.9" x2="334.96" y2="594.4" stroke="#111" stroke-width="1.0" />
<line x1="334.96" y1="461.1" x2="334.96" y2="462.6" stroke="#444" stroke-width="1.0" />
<line x1="337.23" y1="595.9" x2="337.23" y2="592.9" stroke="#111" stroke-width="1.0" />
<line x1="337.23" y1="461.1" x2="337.23" y2="464.1" stroke="#444" stroke-width="1.0" />
<line x1="352.18" y1="595.9" x2="352.18" y2="594.4" stroke="#111" stroke-width="1.0" />
<line x1="352.18" y1="461.1" x2="352.18" y2="462.6" stroke="#444" stroke-width="1.0" />
<line x1="360.93" y1="595.9" x2="360.93" y2="594.4" stroke="#111" stroke-width="1.0" />
<line x1="360.93" y1="461.1" x2="360.93" y2="462.6" stroke="#444" stroke-width="1.0" />
<line x1="367.13" y1="595.9" x2="367.13" y2="594.4" stroke="#111" stroke-width="1.0" />
<line x1="367.13" y1="461.1" x2="367.13" y2="462.6" stroke="#444" stroke-width="1.0" />
<line x1="371.95" y1="595.9" x2="371.95" y2="594.4" stroke="#111" stroke-width="1.0" />
<line x1="371.95" y1="461.1" x2="371.95" y2="462.6" stroke="#444" stroke-width="1.0" />
<line x1="375.88" y1="595.9" x2="375.88" y2="594.4" stroke="#111" stroke-width="1.0" />
<line x1="375.88" y1="461.1" x2="375.88" y2="462.6" stroke="#444" stroke-width="1.0" />
<line x1="379.21" y1="595.9" x2="379.21" y2="594.4" stroke="#111" stroke-width="1.0" />
<line x1="379.21" y1="461.1" x2="379.21" y2="462.6" stroke="#444" stroke-width="1.0" />
<line x1="382.09" y1="595.9" x2="382.09" y2="594.4" stroke="#111" stroke-width="1.0" />
<line x1="382.09" y1="461.1" x2="382.09" y2="462.6" stroke="#444" stroke-width="1.0" />
<line x1="384.63" y1="595.9" x2="384.63" y2="594.4" stroke="#111" stroke-width="1.0" />
<line x1="384.63" y1="461.1" x2="384.63" y2="462.6" stroke="#444" stroke-width="1.0" />
<line x1="386.9" y1="595.9" x2="386.9" y2="592.9" stroke="#111" stroke-width="1.0" />
<line x1="386.9" y1="461.1" x2="386.9" y2="464.1" stroke="#444" stroke-width="1.0" />
<line x1="401.85" y1="595.9" x2="401.85" y2="594.4" stroke="#111" stroke-width="1.0" />
<line x1="401.85" y1="461.1" x2="401.85" y2="462.6" stroke="#444" stroke-width="1.0" />
<line x1="410.6" y1="595.9" x2="410.6" y2="594.4" stroke="#111" stroke-width="1.0" />
<line x1="410.6" y1="461.1" x2="410.6" y2="462.6" stroke="#444" stroke-width="1.0" />
<line x1="416.8" y1="595.9" x2="416.8" y2="594.4" stroke="#111" stroke-width="1.0" />
<line x1="416.8" y1="461.1" x2="416.8" y2="462.6" stroke="#444" stroke-width="1.0" />
<line x1="421.62" y1="595.9" x2="421.62" y2="594.4" stroke="#111" stroke-width="1.0" />
<line x1="421.62" y1="461.1" x2="421.62" y2="462.6" stroke="#444" stroke-width="1.0" />
<line x1="425.55" y1="595.9" x2="425.55" y2="594.4" stroke="#111" stroke-width="1.0" />
<line x1="425.55" y1="461.1" x2="425.55" y2="462.6" stroke="#444" stroke-width="1.0" />
<line x1="428.88" y1="595.9" x2="428.88" y2="594.4" stroke="#111" stroke-width="1.0" />
<line x1="428.88" y1="461.1" x2="428.88" y2="462.6" stroke="#444" stroke-width="1.0" />
<line x1="431.76" y1="595.9" x2="431.76" y2="594.4" stroke="#111" stroke-width="1.0" />
<line x1="431.76" y1="461.1" x2="431.76" y2="462.6" stroke="#444" stroke-width="1.0" />
<line x1="434.3" y1="595.9" x2="434.3" y2="594.4" stroke="#111" stroke-width="1.0" />
<line x1="434.3" y1="461.1" x2="434.3" y2="462.6" stroke="#444" stroke-width="1.0" />
<line x1="436.57" y1="595.9" x2="436.57" y2="592.9" stroke="#111" stroke-width="1.0" />
<line x1="436.57" y1="461.1" x2="436.57" y2="464.1" stroke="#444" stroke-width="1.0" />
<line x1="451.52" y1="595.9" x2="451.52" y2="594.4" stroke="#111" stroke-width="1.0" />
<line x1="451.52" y1="461.1" x2="451.52" y2="462.6" stroke="#444" stroke-width="1.0" />
<line x1="460.27" y1="595.9" x2="460.27" y2="594.4" stroke="#111" stroke-width="1.0" />
<line x1="460.27" y1="461.1" x2="460.27" y2="462.6" stroke="#444" stroke-width="1.0" />
<line x1="466.47" y1="595.9" x2="466.47" y2="594.4" stroke="#111" stroke-width="1.0" />
<line x1="466.47" y1="461.1" x2="466.47" y2="462.6" stroke="#444" stroke-width="1.0" />
<line x1="471.29" y1="595.9" x2="471.29" y2="594.4" stroke="#111" stroke-width="1.0" />
<line x1="471.29" y1="461.1" x2="471.29" y2="462.6" stroke="#444" stroke-width="1.0" />
<line x1="475.22" y1="595.9" x2="475.22" y2="594.4" stroke="#111" stroke-width="1.0" />
<line x1="475.22" y1="461.1" x2="475.22" y2="462.6" stroke="#444" stroke-width="1.0" />
<line x1="478.55" y1="595.9" x2="478.55" y2="594.4" stroke="#111" stroke-width="1.0" />
<line x1="478.55" y1="461.1" x2="478.55" y2="462.6" stroke="#444" stroke-width="1.0" />
<line x1="481.43" y1="595.9" x2="481.43" y2="594.4" stroke="#111" stroke-width="1.0" />
<line x1="481.43" y1="461.1" x2="481.43" y2="462.6" stroke="#444" stroke-width="1.0" />
<line x1="483.97" y1="595.9" x2="483.97" y2="594.4" stroke="#111" stroke-width="1.0" />
<line x1="483.97" y1="461.1" x2="483.97" y2="462.6" stroke="#444" stroke-width="1.0" />
<text transform="translate(290.41,599.3) scale(0.9644,1)" font-size="12.064" font-weight="normal" font-style="normal" fill="#5a5a5a" stroke="#5a5a5a" stroke-width="0.245">10</text>
<text transform="translate(303.12,593.1) scale(1.2877,1)" font-size="5.523" font-weight="normal" font-style="normal" fill="#777" stroke="#777" stroke-width="0.356">0</text>
<text transform="translate(290.41,570.65) scale(0.9644,1)" font-size="12.064" font-weight="normal" font-style="normal" fill="#5a5a5a" stroke="#5a5a5a" stroke-width="0.245">10</text>
<text transform="translate(302.8,564.45) scale(1.4277,1)" font-size="5.523" font-weight="normal" font-style="normal" fill="#777" stroke="#777" stroke-width="0.356">1</text>
<text transform="translate(290.41,542) scale(0.9644,1)" font-size="12.064" font-weight="normal" font-style="normal" fill="#5a5a5a" stroke="#5a5a5a" stroke-width="0.245">10</text>
<text transform="translate(303.02,535.8) scale(1.3512,1)" font-size="5.523" font-weight="normal" font-style="normal" fill="#777" stroke="#777" stroke-width="0.356">2</text>
<text transform="translate(290.41,513.35) scale(0.9644,1)" font-size="12.064" font-weight="normal" font-style="normal" fill="#5a5a5a" stroke="#5a5a5a" stroke-width="0.245">10</text>
<text transform="translate(303.13,507.15) scale(1.2983,1)" font-size="5.523" font-weight="normal" font-style="normal" fill="#777" stroke="#777" stroke-width="0.356">3</text>
<text transform="translate(290.41,484.7) scale(0.9644,1)" font-size="12.064" font-weight="normal" font-style="normal" fill="#5a5a5a" stroke="#5a5a5a" stroke-width="0.245">10</text>
<text transform="translate(303.25,478.5) scale(1.2216,1)" font-size="5.523" font-weight="normal" font-style="normal" fill="#777" stroke="#777" stroke-width="0.356">4</text>
<text transform="translate(329.72,608.2) scale(0.9610,1)" font-size="11.028" font-weight="normal" font-style="normal" fill="#222" stroke="#222" stroke-width="0.263">0.1</text>
<text transform="translate(383.61,608.2) scale(0.9610,1)" font-size="11.028" font-weight="normal" font-style="normal" fill="#222" stroke="#222" stroke-width="0.263">1</text>
<text transform="translate(430.28,608.2) scale(0.9610,1)" font-size="11.028" font-weight="normal" font-style="normal" fill="#222" stroke="#222" stroke-width="0.263">10</text>
<text transform="translate(477,608.2) scale(0.9610,1)" font-size="11.028" font-weight="normal" font-style="normal" fill="#222" stroke="#222" stroke-width="0.263">100</text>
<text transform="translate(346.48,626.6) scale(1.0658,1)" font-size="15.117" font-weight="normal" font-style="normal" fill="#000" stroke="#000" stroke-width="0.193">Beam current (nA)</text>
<text transform="translate(284.9,594.81) rotate(-90) scale(0.9670,1)" font-size="16.470" font-weight="normal" fill="#2a2a2a" stroke="#2a2a2a" stroke-width="0.170">CL Intensity (a.u.)</text>
<rect x="319.6" y="474.1" width="5.8" height="5.6" fill="none" stroke="#e02a2a" stroke-width="1.3"/>
<circle cx="322.6" cy="493.9" r="2.8" fill="none" stroke="#2030d8" stroke-width="1.3"/>
<text transform="translate(329.25,478.5) scale(0.9558,1)" font-size="15.262" font-weight="normal" font-style="italic" fill="#000" stroke="#000" stroke-width="0.191">H</text>
<text transform="translate(328.73,495.7) scale(1.1017,1)" font-size="14.099" font-weight="normal" font-style="normal" fill="#000" stroke="#000" stroke-width="0.210">D</text>
<text transform="translate(339.66,488.5) scale(1.0889,1)" font-size="7.877" font-weight="normal" font-style="normal" fill="#000" stroke="#000" stroke-width="0.316">0</text>
<text transform="translate(343.75,495.7) scale(1.1147,1)" font-size="14.099" font-weight="normal" font-style="normal" fill="#000" stroke="#000" stroke-width="0.210">X</text>
<text transform="translate(324.87,515) scale(1.0000,1)" font-size="6.686" font-weight="normal" font-style="normal" fill="#111" stroke="#111" stroke-width="0.200">I</text>
<text transform="translate(326.48,518.4) scale(1.2023,1)" font-size="8.285" font-weight="normal" font-style="normal" fill="#111" stroke="#111" stroke-width="0.200">D</text>
<text transform="translate(333.7,514.5) scale(1.1412,1)" font-size="4.583" font-weight="normal" font-style="normal" fill="#222" stroke="#222" stroke-width="0.200">0</text>
<text transform="translate(336.24,518.4) scale(1.5361,1)" font-size="7.413" font-weight="normal" font-style="normal" fill="#111" stroke="#111" stroke-width="0.200">X</text>
<text transform="translate(346.4,517.8) scale(2.5832,1)" font-size="4.651" font-weight="normal" font-style="normal" fill="#222" stroke="#222" stroke-width="0.200">∝</text>
<text transform="translate(357.51,518.4) scale(1.0000,1)" font-size="9.302" font-weight="normal" font-style="normal" fill="#111" stroke="#111" stroke-width="0.200">I</text>
<text transform="translate(359.47,519.8) scale(1.2642,1)" font-size="8.970" font-weight="normal" font-style="normal" fill="#111" stroke="#111" stroke-width="0.200">b</text>
<text transform="translate(366.76,513.8) scale(1.1593,1)" font-size="8.430" font-weight="normal" font-style="normal" fill="#111" stroke="#111" stroke-width="0.200">1.01</text>
<text transform="translate(372.27,568.4) scale(1.0000,1)" font-size="10.320" font-weight="normal" font-style="normal" fill="#111" stroke="#111" stroke-width="0.200">I</text>
<text transform="translate(375.28,571) scale(1.1023,1)" font-size="9.302" font-weight="normal" font-style="italic" fill="#111" stroke="#111" stroke-width="0.200">H</text>
<text transform="translate(383.4,568.4) scale(3.0137,1)" font-size="4.651" font-weight="normal" font-style="normal" fill="#222" stroke="#222" stroke-width="0.200">∝</text>
<text transform="translate(395.47,568.4) scale(1.0000,1)" font-size="10.320" font-weight="normal" font-style="normal" fill="#111" stroke="#111" stroke-width="0.200">I</text>
<text transform="translate(397.88,571) scale(1.0934,1)" font-size="11.592" font-weight="normal" font-style="normal" fill="#111" stroke="#111" stroke-width="0.200">b</text>
<text transform="translate(404.22,563.8) scale(1.1790,1)" font-size="8.307" font-weight="normal" font-style="normal" fill="#111" stroke="#111" stroke-width="0.200">0.91</text>
</svg></body></html>
